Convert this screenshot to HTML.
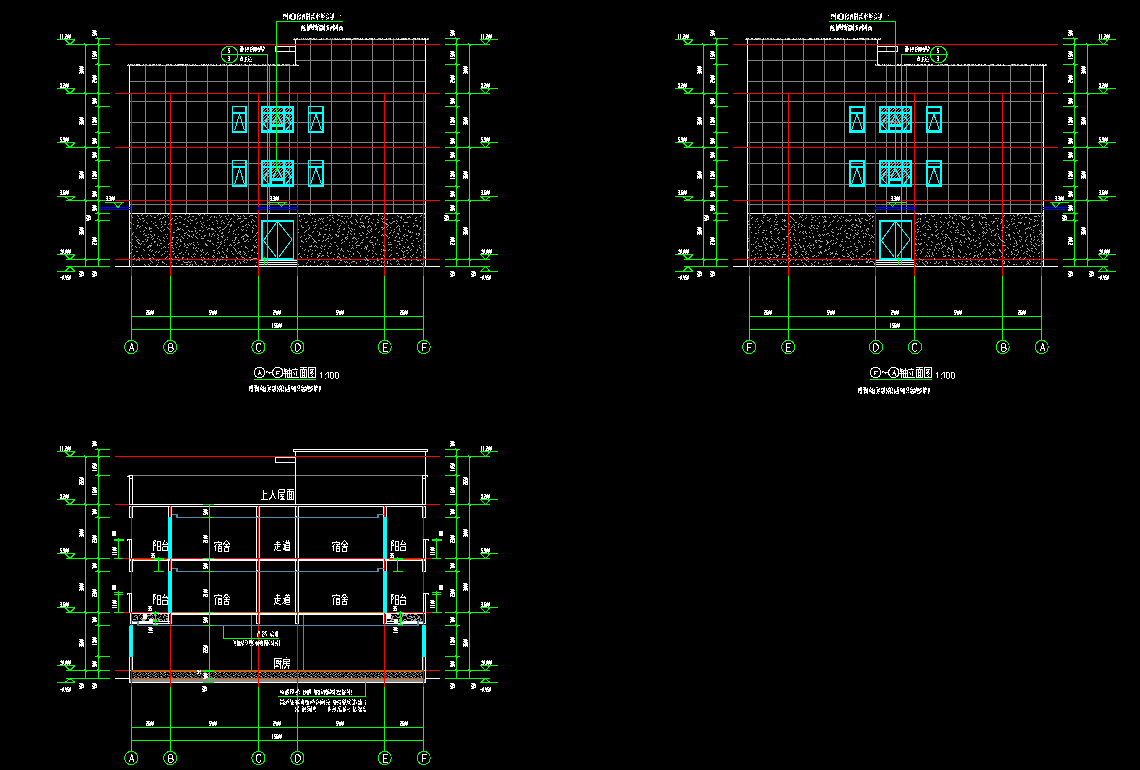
<!DOCTYPE html>
<html><head><meta charset="utf-8"><title>CAD</title>
<style>html,body{margin:0;padding:0;background:#000;overflow:hidden}svg{display:block}</style></head>
<body><svg width="1140" height="770" viewBox="0 0 1140 770" shape-rendering="crispEdges" style="background:#000">
<rect width="1140" height="770" fill="#000"/>
<path d="M145.5 66V214M165.5 66V214M186.5 66V214M207.5 66V214M227.5 66V214M248.5 66V214M269.5 66V214M289.5 66V214M310.5 40V214M331.5 40V214M351.5 40V214M372.5 40V214M393.5 40V214M413.5 40V214M130 81.5H426M130 101.5H426M130 122.5H426M130 142.5H426M130 163.5H426M130 184.5H426M130 204.5H426M296 60.5H426M289.5 47V51" stroke="#808080" stroke-width="1" fill="none"/>
<path d="M293 39.5H429M294 38.5h1M296 38.5h1M301 38.5h1M305 38.5h1M307 38.5h1M311 38.5h1M314 38.5h1M316 38.5h1M323 38.5h1M327 38.5h1M330 38.5h1M332 38.5h1M334 38.5h1M335 38.5h1M337 38.5h1M339 38.5h1M342 38.5h1M343 38.5h1M347 38.5h1M348 38.5h1M349 38.5h1M350 38.5h1M353 38.5h1M356 38.5h1M358 38.5h1M365 38.5h1M370 38.5h1M378 38.5h1M379 38.5h1M380 38.5h1M388 38.5h1M389 38.5h1M393 38.5h1M396 38.5h1M401 38.5h1M402 38.5h1M404 38.5h1M406 38.5h1M418 38.5h1M421 38.5h1M427 38.5h1M428 38.5h1" stroke="#a8a8a8" fill="none"/><path d="M294 39.5h1M295 39.5h1M296 39.5h1M297 38.5h1M299 39.5h1M303 38.5h1M306 39.5h1M308 39.5h1M309 38.5h1M310 38.5h1M312 39.5h1M313 38.5h1M314 39.5h1M315 39.5h1M319 39.5h1M320 39.5h1M321 39.5h1M321 38.5h1M326 38.5h1M335 39.5h1M336 39.5h1M337 39.5h1M338 39.5h1M340 39.5h1M342 39.5h1M343 39.5h1M344 39.5h1M344 38.5h1M346 39.5h1M346 38.5h1M347 39.5h1M348 39.5h1M349 39.5h1M350 39.5h1M352 39.5h1M354 38.5h1M355 38.5h1M357 38.5h1M359 39.5h1M360 39.5h1M360 38.5h1M361 39.5h1M362 39.5h1M362 38.5h1M365 39.5h1M366 39.5h1M366 38.5h1M367 39.5h1M368 39.5h1M369 38.5h1M371 39.5h1M371 38.5h1M372 39.5h1M372 38.5h1M374 38.5h1M377 39.5h1M380 39.5h1M381 39.5h1M382 38.5h1M384 39.5h1M385 39.5h1M386 39.5h1M386 38.5h1M390 39.5h1M390 38.5h1M397 39.5h1M398 39.5h1M398 38.5h1M400 39.5h1M401 39.5h1M402 39.5h1M403 39.5h1M403 38.5h1M404 39.5h1M405 39.5h1M405 38.5h1M406 39.5h1M408 38.5h1M409 38.5h1M412 39.5h1M413 38.5h1M414 38.5h1M415 39.5h1M415 38.5h1M417 38.5h1M419 39.5h1M419 38.5h1M422 39.5h1M422 38.5h1M423 39.5h1M424 39.5h1M424 38.5h1M425 39.5h1M425 38.5h1M427 39.5h1" stroke="#f4f4f4" fill="none"/>
<path d="M127 65.5H299M131 64.5h1M132 64.5h1M145 64.5h1M146 64.5h1M149 64.5h1M150 64.5h1M152 64.5h1M158 64.5h1M159 64.5h1M166 64.5h1M167 64.5h1M171 64.5h1M177 64.5h1M186 64.5h1M189 64.5h1M192 64.5h1M193 64.5h1M210 64.5h1M211 64.5h1M213 64.5h1M222 64.5h1M223 64.5h1M229 64.5h1M230 64.5h1M236 64.5h1M237 64.5h1M244 64.5h1M254 64.5h1M255 64.5h1M258 64.5h1M262 64.5h1M263 64.5h1M265 64.5h1M272 64.5h1M274 64.5h1M277 64.5h1M278 64.5h1M279 64.5h1M285 64.5h1M286 64.5h1M287 64.5h1M288 64.5h1M289 64.5h1M296 64.5h1" stroke="#a8a8a8" fill="none"/><path d="M127 65.5h1M128 64.5h1M129 65.5h1M130 64.5h1M132 65.5h1M133 65.5h1M134 64.5h1M136 65.5h1M136 64.5h1M137 65.5h1M137 64.5h1M138 64.5h1M139 65.5h1M139 64.5h1M140 65.5h1M142 65.5h1M143 64.5h1M149 65.5h1M150 65.5h1M152 65.5h1M153 64.5h1M154 64.5h1M156 64.5h1M159 65.5h1M160 64.5h1M162 65.5h1M166 65.5h1M168 64.5h1M170 64.5h1M171 65.5h1M174 65.5h1M175 64.5h1M176 65.5h1M177 65.5h1M178 65.5h1M178 64.5h1M179 64.5h1M180 64.5h1M181 64.5h1M182 65.5h1M182 64.5h1M183 64.5h1M185 65.5h1M185 64.5h1M187 64.5h1M190 65.5h1M191 65.5h1M192 65.5h1M194 65.5h1M195 64.5h1M196 65.5h1M197 65.5h1M199 65.5h1M201 64.5h1M202 65.5h1M203 65.5h1M203 64.5h1M204 64.5h1M205 65.5h1M206 64.5h1M207 65.5h1M208 64.5h1M212 65.5h1M213 65.5h1M214 65.5h1M216 65.5h1M216 64.5h1M219 65.5h1M220 65.5h1M220 64.5h1M224 65.5h1M224 64.5h1M226 64.5h1M228 65.5h1M229 65.5h1M230 65.5h1M231 65.5h1M231 64.5h1M232 65.5h1M233 65.5h1M234 65.5h1M235 64.5h1M237 65.5h1M238 65.5h1M239 65.5h1M239 64.5h1M241 64.5h1M245 65.5h1M245 64.5h1M246 65.5h1M247 65.5h1M249 65.5h1M249 64.5h1M250 65.5h1M251 64.5h1M253 64.5h1M254 65.5h1M255 65.5h1M256 65.5h1M258 65.5h1M259 65.5h1M260 65.5h1M262 65.5h1M264 65.5h1M265 65.5h1M268 64.5h1M269 65.5h1M270 64.5h1M273 64.5h1M274 65.5h1M275 65.5h1M276 65.5h1M276 64.5h1M277 65.5h1M278 65.5h1M279 65.5h1M281 65.5h1M282 64.5h1M283 64.5h1M286 65.5h1M293 65.5h1M293 64.5h1M295 65.5h1M297 65.5h1M298 65.5h1" stroke="#f4f4f4" fill="none"/>
<path d="M264 108.5h1M267 108.5h1M263 109.5h1M266 109.5h1M269 109.5h1M265 110.5h1M268 110.5h1M264 111.5h1M267 111.5h1M273 108.5h1M276 108.5h1M279 108.5h1M282 108.5h1M272 109.5h1M275 109.5h1M278 109.5h1M281 109.5h1M274 110.5h1M277 110.5h1M280 110.5h1M273 111.5h1M276 111.5h1M279 111.5h1M282 111.5h1M285 108.5h1M288 108.5h1M291 108.5h1M287 109.5h1M290 109.5h1M286 110.5h1M289 110.5h1M285 111.5h1M288 111.5h1M291 111.5h1M264 114.5h1M267 114.5h1M263 115.5h1M266 115.5h1M269 115.5h1M265 116.5h1M268 116.5h1M264 117.5h1M267 117.5h1M263 118.5h1M266 118.5h1M269 118.5h1M265 119.5h1M268 119.5h1M264 120.5h1M267 120.5h1M263 121.5h1M266 121.5h1M269 121.5h1M265 122.5h1M268 122.5h1M264 123.5h1M267 123.5h1M273 114.5h1M276 114.5h1M279 114.5h1M282 114.5h1M272 115.5h1M275 115.5h1M278 115.5h1M281 115.5h1M274 116.5h1M277 116.5h1M280 116.5h1M273 117.5h1M276 117.5h1M279 117.5h1M282 117.5h1M272 118.5h1M275 118.5h1M278 118.5h1M281 118.5h1M274 119.5h1M277 119.5h1M280 119.5h1M273 120.5h1M276 120.5h1M279 120.5h1M282 120.5h1M272 121.5h1M275 121.5h1M278 121.5h1M281 121.5h1M274 122.5h1M277 122.5h1M280 122.5h1M273 123.5h1M276 123.5h1M279 123.5h1M282 123.5h1M285 114.5h1M288 114.5h1M291 114.5h1M287 115.5h1M290 115.5h1M286 116.5h1M289 116.5h1M285 117.5h1M288 117.5h1M291 117.5h1M287 118.5h1M290 118.5h1M286 119.5h1M289 119.5h1M285 120.5h1M288 120.5h1M291 120.5h1M287 121.5h1M290 121.5h1M286 122.5h1M289 122.5h1M285 123.5h1M288 123.5h1M291 123.5h1M264 162.5h1M267 162.5h1M263 163.5h1M266 163.5h1M269 163.5h1M265 164.5h1M268 164.5h1M264 165.5h1M267 165.5h1M273 162.5h1M276 162.5h1M279 162.5h1M282 162.5h1M272 163.5h1M275 163.5h1M278 163.5h1M281 163.5h1M274 164.5h1M277 164.5h1M280 164.5h1M273 165.5h1M276 165.5h1M279 165.5h1M282 165.5h1M285 162.5h1M288 162.5h1M291 162.5h1M287 163.5h1M290 163.5h1M286 164.5h1M289 164.5h1M285 165.5h1M288 165.5h1M291 165.5h1M264 168.5h1M267 168.5h1M263 169.5h1M266 169.5h1M269 169.5h1M265 170.5h1M268 170.5h1M264 171.5h1M267 171.5h1M263 172.5h1M266 172.5h1M269 172.5h1M265 173.5h1M268 173.5h1M264 174.5h1M267 174.5h1M263 175.5h1M266 175.5h1M269 175.5h1M265 176.5h1M268 176.5h1M264 177.5h1M267 177.5h1M273 168.5h1M276 168.5h1M279 168.5h1M282 168.5h1M272 169.5h1M275 169.5h1M278 169.5h1M281 169.5h1M274 170.5h1M277 170.5h1M280 170.5h1M273 171.5h1M276 171.5h1M279 171.5h1M282 171.5h1M272 172.5h1M275 172.5h1M278 172.5h1M281 172.5h1M274 173.5h1M277 173.5h1M280 173.5h1M273 174.5h1M276 174.5h1M279 174.5h1M282 174.5h1M272 175.5h1M275 175.5h1M278 175.5h1M281 175.5h1M274 176.5h1M277 176.5h1M280 176.5h1M273 177.5h1M276 177.5h1M279 177.5h1M282 177.5h1M285 168.5h1M288 168.5h1M291 168.5h1M287 169.5h1M290 169.5h1M286 170.5h1M289 170.5h1M285 171.5h1M288 171.5h1M291 171.5h1M287 172.5h1M290 172.5h1M286 173.5h1M289 173.5h1M285 174.5h1M288 174.5h1M291 174.5h1M287 175.5h1M290 175.5h1M286 176.5h1M289 176.5h1M285 177.5h1M288 177.5h1M291 177.5h1" stroke="#a0a0a0" stroke-width="1" fill="none"/>
<path d="M129.5 65V266M425.5 39V266M295.5 40V65M275 46.5H296M275 51.5H296M275.5 46V52M129 213.5H426M115 266.5H440M258 260.5H298M258 262.5H298M258 264.5H298M258.5 260V267M297.5 260V267" stroke="#ffffff" stroke-width="1" fill="none"/>
<path d="M115 44.5H440M115 93.5H440M115 147.5H440M115 200.5H440M115 259.5H440M131.5 93V276M170.5 93V276M258.5 93V276M297.5 93V276M384.5 93V276M423.5 93V276" stroke="#ff0000" stroke-width="1" fill="none"/>
<path d="M131 215.5h1M131 216.5h1M137 215.5h1M138 216.5h1M141 215.5h1M142 214.5h1M146 216.5h1M147 215.5h1M150 215.5h1M151 216.5h1M157 215.5h1M158 214.5h1M167 215.5h1M168 214.5h1M175 216.5h1M176 216.5h1M192 216.5h1M193 216.5h1M198 214.5h1M199 215.5h1M200 214.5h1M225 216.5h1M228 215.5h1M249 216.5h1M250 215.5h1M251 215.5h1M299 215.5h1M299 216.5h1M308 214.5h1M309 214.5h1M310 215.5h1M329 215.5h1M330 215.5h1M337 214.5h1M338 215.5h1M339 215.5h1M347 216.5h1M351 214.5h1M351 215.5h1M356 214.5h1M357 215.5h1M361 216.5h1M370 214.5h1M371 214.5h1M378 214.5h1M378 215.5h1M382 216.5h1M387 214.5h1M401 216.5h1M401 217.5h1M409 216.5h1M410 217.5h1M412 214.5h1M420 216.5h1M421 215.5h1M424 214.5h1M139 218.5h1M140 219.5h1M159 219.5h1M160 218.5h1M168 217.5h1M177 218.5h1M188 217.5h1M189 216.5h1M190 219.5h1M191 220.5h1M210 217.5h1M211 216.5h1M216 217.5h1M220 217.5h1M221 216.5h1M237 219.5h1M238 218.5h1M244 218.5h1M245 218.5h1M246 218.5h1M252 219.5h1M253 220.5h1M301 219.5h1M344 218.5h1M348 218.5h1M350 217.5h1M351 216.5h1M355 219.5h1M356 220.5h1M373 219.5h1M381 218.5h1M382 219.5h1M383 218.5h1M384 217.5h1M386 219.5h1M387 219.5h1M392 218.5h1M407 217.5h1M408 217.5h1M415 218.5h1M416 217.5h1M424 217.5h1M130 222.5h1M131 223.5h1M138 222.5h1M143 221.5h1M144 220.5h1M146 222.5h1M147 223.5h1M155 222.5h1M161 221.5h1M161 222.5h1M170 220.5h1M171 219.5h1M203 222.5h1M207 220.5h1M223 222.5h1M233 221.5h1M234 222.5h1M248 222.5h1M254 221.5h1M307 221.5h1M329 220.5h1M330 219.5h1M337 220.5h1M338 219.5h1M342 221.5h1M343 222.5h1M346 221.5h1M346 222.5h1M360 222.5h1M361 222.5h1M371 222.5h1M372 223.5h1M382 221.5h1M383 222.5h1M384 222.5h1M389 222.5h1M390 223.5h1M391 223.5h1M400 220.5h1M133 224.5h1M142 225.5h1M153 223.5h1M155 225.5h1M156 225.5h1M161 224.5h1M164 224.5h1M165 224.5h1M168 224.5h1M169 223.5h1M201 223.5h1M202 224.5h1M204 225.5h1M213 224.5h1M221 223.5h1M227 224.5h1M228 224.5h1M301 225.5h1M320 223.5h1M325 225.5h1M326 225.5h1M327 224.5h1M341 223.5h1M348 225.5h1M351 223.5h1M352 223.5h1M355 224.5h1M361 225.5h1M362 226.5h1M363 225.5h1M364 226.5h1M369 225.5h1M370 226.5h1M385 223.5h1M386 224.5h1M386 223.5h1M387 224.5h1M388 225.5h1M390 223.5h1M136 228.5h1M139 227.5h1M140 226.5h1M149 227.5h1M149 228.5h1M151 228.5h1M157 227.5h1M158 228.5h1M177 227.5h1M194 227.5h1M195 228.5h1M201 226.5h1M202 227.5h1M217 227.5h1M218 228.5h1M219 227.5h1M220 227.5h1M224 228.5h1M225 227.5h1M226 226.5h1M238 227.5h1M242 226.5h1M243 226.5h1M256 226.5h1M309 227.5h1M309 228.5h1M320 228.5h1M321 228.5h1M323 227.5h1M329 228.5h1M339 226.5h1M340 225.5h1M348 227.5h1M349 228.5h1M376 228.5h1M381 227.5h1M382 227.5h1M386 227.5h1M387 226.5h1M396 227.5h1M397 226.5h1M399 228.5h1M399 229.5h1M408 226.5h1M420 227.5h1M140 231.5h1M149 229.5h1M150 228.5h1M150 231.5h1M151 231.5h1M160 230.5h1M161 231.5h1M169 229.5h1M170 231.5h1M176 230.5h1M177 229.5h1M179 229.5h1M180 228.5h1M182 229.5h1M183 230.5h1M195 230.5h1M195 231.5h1M202 231.5h1M203 230.5h1M207 229.5h1M208 228.5h1M209 228.5h1M211 229.5h1M212 228.5h1M215 231.5h1M219 231.5h1M220 230.5h1M222 229.5h1M223 229.5h1M229 229.5h1M236 229.5h1M241 229.5h1M242 230.5h1M243 229.5h1M305 231.5h1M308 229.5h1M309 228.5h1M325 229.5h1M326 229.5h1M329 230.5h1M332 229.5h1M337 231.5h1M338 229.5h1M339 228.5h1M343 229.5h1M344 229.5h1M348 231.5h1M348 232.5h1M354 229.5h1M370 230.5h1M371 231.5h1M382 229.5h1M383 228.5h1M387 229.5h1M399 230.5h1M400 231.5h1M405 229.5h1M419 229.5h1M420 228.5h1M424 230.5h1M132 233.5h1M133 232.5h1M150 234.5h1M151 235.5h1M165 234.5h1M167 234.5h1M179 234.5h1M196 233.5h1M197 232.5h1M209 233.5h1M209 234.5h1M217 234.5h1M218 235.5h1M238 234.5h1M252 232.5h1M256 233.5h1M257 232.5h1M308 234.5h1M309 235.5h1M312 232.5h1M313 231.5h1M338 232.5h1M339 231.5h1M342 234.5h1M343 234.5h1M347 234.5h1M350 233.5h1M351 234.5h1M354 233.5h1M354 234.5h1M359 233.5h1M378 232.5h1M379 231.5h1M398 233.5h1M404 234.5h1M409 232.5h1M412 232.5h1M418 233.5h1M419 233.5h1M424 234.5h1M131 235.5h1M132 234.5h1M135 236.5h1M136 237.5h1M158 236.5h1M163 237.5h1M164 238.5h1M189 235.5h1M189 236.5h1M204 235.5h1M204 236.5h1M205 235.5h1M209 235.5h1M211 236.5h1M214 235.5h1M222 236.5h1M223 235.5h1M241 237.5h1M242 236.5h1M253 237.5h1M254 236.5h1M300 237.5h1M301 236.5h1M304 235.5h1M310 235.5h1M311 236.5h1M323 236.5h1M323 237.5h1M328 236.5h1M336 235.5h1M337 236.5h1M338 235.5h1M338 236.5h1M345 237.5h1M346 237.5h1M353 237.5h1M353 238.5h1M354 237.5h1M355 238.5h1M399 237.5h1M399 238.5h1M410 237.5h1M411 236.5h1M132 239.5h1M136 240.5h1M137 239.5h1M138 239.5h1M139 240.5h1M145 239.5h1M147 239.5h1M147 240.5h1M159 239.5h1M160 240.5h1M163 240.5h1M167 238.5h1M177 240.5h1M178 239.5h1M180 239.5h1M180 240.5h1M201 238.5h1M202 238.5h1M217 238.5h1M218 237.5h1M246 240.5h1M247 239.5h1M250 239.5h1M305 239.5h1M306 238.5h1M318 240.5h1M319 240.5h1M331 238.5h1M332 237.5h1M346 239.5h1M347 238.5h1M356 239.5h1M358 238.5h1M377 239.5h1M377 240.5h1M388 238.5h1M389 237.5h1M394 240.5h1M395 240.5h1M401 240.5h1M402 240.5h1M406 239.5h1M407 240.5h1M413 240.5h1M416 238.5h1M417 238.5h1M420 240.5h1M421 239.5h1M130 242.5h1M131 243.5h1M160 243.5h1M161 243.5h1M164 241.5h1M180 241.5h1M181 241.5h1M189 243.5h1M190 244.5h1M191 243.5h1M197 242.5h1M205 243.5h1M206 244.5h1M209 241.5h1M210 241.5h1M233 242.5h1M234 242.5h1M244 241.5h1M245 241.5h1M313 242.5h1M330 243.5h1M331 244.5h1M334 242.5h1M335 242.5h1M349 242.5h1M360 243.5h1M361 242.5h1M362 242.5h1M369 241.5h1M370 242.5h1M375 243.5h1M375 244.5h1M382 242.5h1M388 242.5h1M405 242.5h1M424 243.5h1M131 246.5h1M132 245.5h1M140 244.5h1M141 243.5h1M144 244.5h1M159 245.5h1M164 246.5h1M165 247.5h1M168 244.5h1M179 246.5h1M180 245.5h1M184 246.5h1M185 245.5h1M187 244.5h1M188 245.5h1M198 244.5h1M205 244.5h1M206 245.5h1M207 245.5h1M253 245.5h1M254 246.5h1M321 245.5h1M322 246.5h1M329 246.5h1M330 246.5h1M331 244.5h1M336 245.5h1M337 246.5h1M352 245.5h1M356 245.5h1M357 245.5h1M367 245.5h1M367 246.5h1M388 244.5h1M389 244.5h1M390 244.5h1M391 244.5h1M397 245.5h1M399 244.5h1M400 244.5h1M147 247.5h1M148 247.5h1M163 247.5h1M172 247.5h1M173 248.5h1M176 247.5h1M178 249.5h1M193 247.5h1M193 248.5h1M195 248.5h1M196 247.5h1M198 248.5h1M202 249.5h1M202 250.5h1M217 248.5h1M245 247.5h1M246 247.5h1M246 247.5h1M247 248.5h1M302 248.5h1M310 249.5h1M320 247.5h1M321 248.5h1M328 248.5h1M351 248.5h1M352 247.5h1M353 248.5h1M364 248.5h1M365 247.5h1M383 249.5h1M384 250.5h1M391 247.5h1M402 248.5h1M151 251.5h1M152 250.5h1M155 252.5h1M156 251.5h1M165 251.5h1M167 251.5h1M181 252.5h1M185 252.5h1M207 252.5h1M214 252.5h1M218 251.5h1M219 252.5h1M222 251.5h1M223 252.5h1M226 250.5h1M227 251.5h1M236 251.5h1M243 251.5h1M244 252.5h1M248 251.5h1M304 250.5h1M305 249.5h1M308 250.5h1M308 251.5h1M312 250.5h1M327 252.5h1M327 253.5h1M342 250.5h1M343 251.5h1M347 250.5h1M348 251.5h1M358 252.5h1M359 253.5h1M368 251.5h1M369 250.5h1M372 250.5h1M373 251.5h1M381 251.5h1M391 250.5h1M410 250.5h1M411 249.5h1M424 250.5h1M130 253.5h1M131 252.5h1M141 255.5h1M161 255.5h1M162 254.5h1M164 253.5h1M173 254.5h1M174 253.5h1M177 255.5h1M179 253.5h1M180 253.5h1M183 254.5h1M193 254.5h1M194 253.5h1M194 253.5h1M195 254.5h1M200 255.5h1M201 254.5h1M205 254.5h1M206 253.5h1M207 252.5h1M208 254.5h1M224 254.5h1M239 253.5h1M240 254.5h1M327 255.5h1M328 256.5h1M334 254.5h1M343 255.5h1M343 256.5h1M349 254.5h1M367 255.5h1M390 255.5h1M391 254.5h1M398 255.5h1M403 254.5h1M403 255.5h1M407 253.5h1M408 252.5h1M420 255.5h1M133 256.5h1M142 257.5h1M143 258.5h1M165 258.5h1M166 257.5h1M167 256.5h1M178 257.5h1M182 257.5h1M182 258.5h1M183 257.5h1M187 258.5h1M187 259.5h1M191 256.5h1M192 257.5h1M201 257.5h1M208 258.5h1M217 258.5h1M217 259.5h1M226 257.5h1M227 257.5h1M243 257.5h1M244 258.5h1M307 257.5h1M337 256.5h1M337 257.5h1M338 256.5h1M345 257.5h1M346 257.5h1M349 258.5h1M350 259.5h1M360 256.5h1M366 258.5h1M366 259.5h1M367 259.5h1M377 258.5h1M377 259.5h1M378 260.5h1M384 256.5h1M410 256.5h1M411 257.5h1M416 257.5h1M417 257.5h1M136 260.5h1M137 259.5h1M149 259.5h1M156 260.5h1M157 259.5h1M183 261.5h1M184 262.5h1M188 261.5h1M189 262.5h1M190 262.5h1M191 261.5h1M194 261.5h1M195 262.5h1M213 261.5h1M219 260.5h1M220 259.5h1M222 259.5h1M318 260.5h1M319 259.5h1M326 261.5h1M327 262.5h1M328 261.5h1M335 260.5h1M346 261.5h1M347 262.5h1M364 259.5h1M365 260.5h1M390 260.5h1M398 261.5h1M144 264.5h1M145 265.5h1M150 263.5h1M166 264.5h1M176 263.5h1M181 264.5h1M182 264.5h1M185 262.5h1M186 262.5h1M187 262.5h1M195 263.5h1M196 264.5h1M214 263.5h1M228 264.5h1M240 262.5h1M240 263.5h1M244 262.5h1M246 262.5h1M256 262.5h1M306 263.5h1M307 262.5h1M351 262.5h1M352 261.5h1M379 264.5h1M383 262.5h1M384 261.5h1M390 263.5h1M391 264.5h1M397 264.5h1M398 263.5h1M399 264.5h1M404 264.5h1M405 265.5h1M156 265.5h1M157 264.5h1M172 265.5h1M189 265.5h1M190 264.5h1M212 265.5h1M214 265.5h1M215 264.5h1M234 265.5h1M235 264.5h1M255 265.5h1M303 265.5h1M306 265.5h1M310 265.5h1M410 265.5h1" stroke="#9c9c9c" fill="none"/>
<path d="M160 214.5h1M164 215.5h1M165 216.5h1M179 216.5h1M180 216.5h1M185 214.5h1M189 214.5h1M204 214.5h1M207 215.5h1M214 216.5h1M214 217.5h1M219 215.5h1M233 214.5h1M234 215.5h1M237 215.5h1M238 216.5h1M240 216.5h1M243 215.5h1M244 216.5h1M251 215.5h1M252 215.5h1M255 216.5h1M256 217.5h1M303 214.5h1M312 214.5h1M314 214.5h1M332 215.5h1M341 216.5h1M342 216.5h1M345 216.5h1M362 215.5h1M366 216.5h1M367 216.5h1M397 215.5h1M398 216.5h1M405 214.5h1M132 217.5h1M142 218.5h1M143 218.5h1M154 217.5h1M155 217.5h1M162 218.5h1M163 217.5h1M172 218.5h1M181 217.5h1M184 219.5h1M185 218.5h1M195 219.5h1M196 218.5h1M202 217.5h1M202 218.5h1M209 219.5h1M226 218.5h1M227 219.5h1M230 219.5h1M231 218.5h1M239 218.5h1M240 218.5h1M304 218.5h1M312 218.5h1M315 219.5h1M319 218.5h1M320 219.5h1M321 218.5h1M322 219.5h1M323 218.5h1M327 217.5h1M332 217.5h1M333 218.5h1M360 218.5h1M360 219.5h1M365 217.5h1M365 218.5h1M368 219.5h1M369 218.5h1M377 219.5h1M378 220.5h1M400 217.5h1M401 218.5h1M403 219.5h1M137 220.5h1M151 221.5h1M165 221.5h1M165 222.5h1M174 220.5h1M175 219.5h1M179 222.5h1M180 222.5h1M187 220.5h1M188 221.5h1M192 220.5h1M200 221.5h1M212 222.5h1M216 220.5h1M217 221.5h1M221 221.5h1M222 220.5h1M228 222.5h1M229 221.5h1M240 222.5h1M241 221.5h1M242 221.5h1M243 220.5h1M251 221.5h1M251 222.5h1M299 220.5h1M300 221.5h1M305 222.5h1M306 222.5h1M311 222.5h1M314 221.5h1M315 221.5h1M318 220.5h1M322 221.5h1M323 222.5h1M333 221.5h1M334 222.5h1M340 220.5h1M350 221.5h1M351 222.5h1M356 221.5h1M357 222.5h1M362 222.5h1M363 223.5h1M368 221.5h1M368 222.5h1M377 222.5h1M378 222.5h1M392 222.5h1M393 221.5h1M394 221.5h1M396 220.5h1M397 221.5h1M404 222.5h1M405 222.5h1M406 222.5h1M407 222.5h1M415 220.5h1M416 220.5h1M420 221.5h1M137 225.5h1M137 226.5h1M138 225.5h1M171 224.5h1M175 223.5h1M176 223.5h1M183 224.5h1M184 224.5h1M190 223.5h1M196 223.5h1M197 222.5h1M209 225.5h1M217 223.5h1M224 223.5h1M230 225.5h1M231 224.5h1M245 225.5h1M246 224.5h1M248 224.5h1M249 225.5h1M253 225.5h1M255 225.5h1M308 225.5h1M313 225.5h1M315 225.5h1M316 224.5h1M330 225.5h1M337 224.5h1M344 223.5h1M375 224.5h1M375 225.5h1M396 223.5h1M398 225.5h1M399 226.5h1M403 225.5h1M413 223.5h1M416 225.5h1M417 225.5h1M130 228.5h1M145 227.5h1M146 228.5h1M161 227.5h1M162 226.5h1M167 227.5h1M168 228.5h1M178 228.5h1M178 229.5h1M186 226.5h1M187 226.5h1M206 227.5h1M211 228.5h1M212 229.5h1M213 229.5h1M230 226.5h1M231 225.5h1M247 227.5h1M252 227.5h1M253 228.5h1M301 226.5h1M302 227.5h1M303 227.5h1M314 228.5h1M315 227.5h1M344 228.5h1M351 228.5h1M352 229.5h1M359 226.5h1M360 227.5h1M363 226.5h1M364 227.5h1M367 227.5h1M368 226.5h1M371 228.5h1M371 229.5h1M384 227.5h1M390 227.5h1M403 226.5h1M413 226.5h1M414 225.5h1M417 226.5h1M143 231.5h1M144 230.5h1M163 230.5h1M164 229.5h1M188 230.5h1M189 231.5h1M191 231.5h1M192 231.5h1M199 230.5h1M200 230.5h1M233 231.5h1M234 230.5h1M246 230.5h1M252 230.5h1M252 231.5h1M298 229.5h1M317 231.5h1M350 230.5h1M351 231.5h1M367 230.5h1M368 231.5h1M369 232.5h1M375 229.5h1M391 230.5h1M394 229.5h1M408 230.5h1M408 231.5h1M410 231.5h1M410 232.5h1M143 234.5h1M144 233.5h1M148 234.5h1M154 234.5h1M173 232.5h1M174 232.5h1M184 233.5h1M185 233.5h1M186 232.5h1M187 234.5h1M188 235.5h1M193 234.5h1M193 235.5h1M199 234.5h1M212 234.5h1M213 233.5h1M221 233.5h1M222 232.5h1M222 233.5h1M228 232.5h1M229 231.5h1M233 233.5h1M235 234.5h1M245 234.5h1M246 235.5h1M246 234.5h1M247 235.5h1M298 232.5h1M304 232.5h1M305 231.5h1M306 230.5h1M319 232.5h1M319 233.5h1M320 234.5h1M324 234.5h1M325 234.5h1M329 234.5h1M330 235.5h1M335 234.5h1M336 234.5h1M362 232.5h1M363 233.5h1M366 234.5h1M367 233.5h1M385 234.5h1M386 235.5h1M389 233.5h1M390 232.5h1M393 232.5h1M394 231.5h1M397 233.5h1M398 234.5h1M416 233.5h1M416 234.5h1M145 235.5h1M146 235.5h1M147 237.5h1M148 237.5h1M151 237.5h1M152 236.5h1M154 235.5h1M166 236.5h1M172 237.5h1M173 237.5h1M176 237.5h1M177 237.5h1M181 236.5h1M182 237.5h1M183 238.5h1M184 235.5h1M191 236.5h1M192 237.5h1M195 236.5h1M196 237.5h1M201 236.5h1M221 236.5h1M222 237.5h1M227 237.5h1M235 237.5h1M235 238.5h1M236 237.5h1M243 236.5h1M244 235.5h1M247 236.5h1M248 236.5h1M255 235.5h1M318 235.5h1M319 234.5h1M346 237.5h1M347 236.5h1M360 235.5h1M361 235.5h1M366 237.5h1M367 237.5h1M371 237.5h1M372 236.5h1M374 237.5h1M375 237.5h1M381 235.5h1M382 234.5h1M383 235.5h1M387 236.5h1M392 235.5h1M395 237.5h1M396 236.5h1M403 235.5h1M404 236.5h1M406 235.5h1M407 235.5h1M418 235.5h1M419 234.5h1M152 239.5h1M153 238.5h1M157 238.5h1M172 238.5h1M172 239.5h1M187 238.5h1M197 238.5h1M203 238.5h1M207 240.5h1M208 240.5h1M210 240.5h1M218 239.5h1M224 240.5h1M225 239.5h1M227 239.5h1M232 240.5h1M234 240.5h1M235 239.5h1M238 240.5h1M243 238.5h1M243 239.5h1M255 240.5h1M256 239.5h1M301 240.5h1M301 241.5h1M308 238.5h1M309 237.5h1M312 238.5h1M313 239.5h1M314 240.5h1M314 241.5h1M325 240.5h1M326 239.5h1M327 238.5h1M328 238.5h1M341 240.5h1M342 239.5h1M345 238.5h1M352 238.5h1M362 240.5h1M363 239.5h1M370 240.5h1M402 238.5h1M137 241.5h1M138 242.5h1M138 243.5h1M139 243.5h1M142 241.5h1M143 241.5h1M146 241.5h1M151 243.5h1M154 241.5h1M154 242.5h1M155 241.5h1M169 243.5h1M171 242.5h1M172 242.5h1M176 242.5h1M177 243.5h1M184 243.5h1M184 244.5h1M193 242.5h1M212 243.5h1M213 244.5h1M217 242.5h1M218 242.5h1M220 242.5h1M221 241.5h1M224 242.5h1M237 243.5h1M238 242.5h1M239 242.5h1M248 241.5h1M256 242.5h1M302 241.5h1M303 242.5h1M306 241.5h1M315 241.5h1M316 242.5h1M322 241.5h1M323 240.5h1M328 241.5h1M341 243.5h1M342 242.5h1M344 241.5h1M352 241.5h1M355 243.5h1M356 242.5h1M357 241.5h1M371 242.5h1M372 242.5h1M390 242.5h1M397 241.5h1M398 241.5h1M399 241.5h1M399 243.5h1M411 243.5h1M412 243.5h1M418 241.5h1M135 246.5h1M136 247.5h1M148 246.5h1M149 245.5h1M150 245.5h1M150 246.5h1M151 245.5h1M157 244.5h1M157 245.5h1M171 245.5h1M172 245.5h1M175 244.5h1M193 244.5h1M194 245.5h1M216 245.5h1M220 244.5h1M221 243.5h1M224 245.5h1M229 245.5h1M230 244.5h1M231 245.5h1M231 245.5h1M234 245.5h1M235 244.5h1M241 246.5h1M245 246.5h1M257 245.5h1M300 246.5h1M309 246.5h1M310 246.5h1M311 245.5h1M311 246.5h1M314 246.5h1M315 245.5h1M316 246.5h1M324 246.5h1M325 245.5h1M349 245.5h1M358 245.5h1M359 245.5h1M365 246.5h1M366 247.5h1M372 244.5h1M373 245.5h1M379 244.5h1M383 245.5h1M384 246.5h1M403 246.5h1M404 247.5h1M408 246.5h1M408 247.5h1M412 245.5h1M413 246.5h1M419 245.5h1M423 246.5h1M132 249.5h1M139 247.5h1M143 249.5h1M161 248.5h1M168 247.5h1M186 247.5h1M187 247.5h1M218 247.5h1M219 246.5h1M222 248.5h1M227 248.5h1M227 249.5h1M233 247.5h1M234 248.5h1M235 249.5h1M235 250.5h1M238 248.5h1M252 249.5h1M254 247.5h1M255 246.5h1M256 247.5h1M317 247.5h1M324 249.5h1M337 249.5h1M338 248.5h1M341 248.5h1M341 249.5h1M356 247.5h1M361 248.5h1M366 248.5h1M366 249.5h1M373 247.5h1M381 249.5h1M396 247.5h1M399 248.5h1M407 247.5h1M408 247.5h1M409 248.5h1M417 249.5h1M417 250.5h1M419 247.5h1M420 248.5h1M136 251.5h1M137 251.5h1M144 250.5h1M149 250.5h1M150 249.5h1M158 252.5h1M159 251.5h1M172 251.5h1M173 251.5h1M186 250.5h1M196 250.5h1M197 251.5h1M200 250.5h1M201 251.5h1M203 252.5h1M213 250.5h1M214 250.5h1M231 251.5h1M240 251.5h1M240 252.5h1M251 250.5h1M252 250.5h1M254 252.5h1M315 250.5h1M321 251.5h1M340 250.5h1M350 251.5h1M357 251.5h1M383 250.5h1M384 250.5h1M385 250.5h1M388 250.5h1M389 249.5h1M401 250.5h1M402 251.5h1M403 252.5h1M404 251.5h1M406 250.5h1M407 250.5h1M416 252.5h1M421 251.5h1M421 252.5h1M134 255.5h1M148 254.5h1M149 255.5h1M153 254.5h1M154 255.5h1M169 254.5h1M188 253.5h1M188 254.5h1M213 255.5h1M214 256.5h1M217 253.5h1M219 253.5h1M226 255.5h1M226 256.5h1M232 253.5h1M233 254.5h1M237 253.5h1M238 252.5h1M239 251.5h1M244 254.5h1M245 253.5h1M246 255.5h1M251 255.5h1M257 253.5h1M298 254.5h1M299 253.5h1M304 254.5h1M307 255.5h1M311 254.5h1M312 253.5h1M317 254.5h1M318 255.5h1M319 255.5h1M319 253.5h1M320 253.5h1M322 255.5h1M323 255.5h1M330 253.5h1M331 252.5h1M338 253.5h1M339 254.5h1M353 253.5h1M353 254.5h1M360 255.5h1M372 253.5h1M375 253.5h1M376 254.5h1M380 254.5h1M383 255.5h1M384 256.5h1M396 253.5h1M397 253.5h1M412 255.5h1M413 254.5h1M134 258.5h1M138 257.5h1M139 258.5h1M149 258.5h1M150 258.5h1M152 257.5h1M153 258.5h1M169 258.5h1M171 258.5h1M175 256.5h1M175 257.5h1M176 257.5h1M194 256.5h1M203 257.5h1M204 258.5h1M212 256.5h1M213 257.5h1M221 256.5h1M222 257.5h1M223 257.5h1M236 257.5h1M237 258.5h1M241 256.5h1M242 257.5h1M249 257.5h1M250 257.5h1M253 258.5h1M254 258.5h1M255 258.5h1M256 258.5h1M300 256.5h1M301 257.5h1M311 256.5h1M317 257.5h1M318 256.5h1M321 256.5h1M333 258.5h1M339 257.5h1M340 258.5h1M351 256.5h1M365 257.5h1M372 257.5h1M373 256.5h1M381 258.5h1M382 258.5h1M389 256.5h1M393 258.5h1M394 259.5h1M394 258.5h1M400 258.5h1M401 258.5h1M403 257.5h1M404 257.5h1M405 256.5h1M423 256.5h1M424 257.5h1M133 259.5h1M138 259.5h1M139 260.5h1M150 260.5h1M151 261.5h1M152 262.5h1M158 260.5h1M159 259.5h1M162 261.5h1M162 262.5h1M172 259.5h1M177 259.5h1M178 260.5h1M179 260.5h1M201 259.5h1M202 260.5h1M204 261.5h1M205 262.5h1M216 260.5h1M216 261.5h1M226 260.5h1M235 260.5h1M235 261.5h1M239 261.5h1M240 262.5h1M243 261.5h1M244 260.5h1M246 259.5h1M247 260.5h1M250 260.5h1M251 259.5h1M252 259.5h1M308 260.5h1M310 261.5h1M314 261.5h1M314 262.5h1M323 261.5h1M340 260.5h1M341 260.5h1M344 261.5h1M345 262.5h1M353 261.5h1M354 261.5h1M360 261.5h1M367 260.5h1M368 260.5h1M370 261.5h1M377 260.5h1M381 261.5h1M381 262.5h1M387 261.5h1M387 262.5h1M396 261.5h1M397 260.5h1M404 259.5h1M405 260.5h1M408 259.5h1M411 260.5h1M416 259.5h1M417 260.5h1M418 260.5h1M420 260.5h1M133 264.5h1M148 264.5h1M149 265.5h1M158 262.5h1M163 262.5h1M164 263.5h1M171 262.5h1M186 264.5h1M187 264.5h1M192 264.5h1M192 265.5h1M201 264.5h1M204 262.5h1M205 261.5h1M207 263.5h1M224 264.5h1M225 263.5h1M232 262.5h1M237 263.5h1M298 264.5h1M320 264.5h1M321 263.5h1M327 264.5h1M328 265.5h1M338 263.5h1M339 262.5h1M349 263.5h1M356 262.5h1M356 263.5h1M366 264.5h1M367 263.5h1M373 262.5h1M374 261.5h1M375 263.5h1M387 263.5h1M410 264.5h1M411 263.5h1M421 263.5h1M422 264.5h1M423 263.5h1M198 265.5h1M206 265.5h1M222 265.5h1M229 265.5h1M317 265.5h1M325 265.5h1M346 265.5h1M350 265.5h1M368 265.5h1M381 265.5h1M384 265.5h1" stroke="#a8a8a8" fill="none"/>
<path d="M232 106.5H247M232 132.5H247M232.5 106V133M246.5 106V133M232 131.5H247M232 112.5H247M232 113.5H247M245.5 106V133M234.5 130.5L239.5 114.5L244.5 130.5M261 106.5H294M261 132.5H294M261.5 106V133M293.5 106V133M262 107.5H293M262 131.5H293M262.5 107V132M292.5 107V132M261 130.5H294M261 112.5H294M261 113.5H294M270.5 106V133M271.5 106V133M283.5 106V133M284.5 106V133M271 124.5H284M271 125.5H284M271 126.5H284M269.5 115.5L263.5 124L269.5 130.5M285.5 115.5L291.5 123L285.5 130.5M273 123.5L277.5 114.5L282 123.5M308 106.5H324M308 132.5H324M308.5 106V133M323.5 106V133M308 131.5H324M308 112.5H324M308 113.5H324M322.5 106V133M310.5 130.5L316.0 114.5L321.5 130.5M232 160.5H247M232 186.5H247M232.5 160V187M246.5 160V187M232 185.5H247M232 166.5H247M232 167.5H247M245.5 160V187M234.5 184.5L239.5 168.5L244.5 184.5M261 160.5H294M261 186.5H294M261.5 160V187M293.5 160V187M262 161.5H293M262 185.5H293M262.5 161V186M292.5 161V186M261 184.5H294M261 166.5H294M261 167.5H294M270.5 160V187M271.5 160V187M283.5 160V187M284.5 160V187M271 178.5H284M271 179.5H284M271 180.5H284M269.5 169.5L263.5 178L269.5 184.5M285.5 169.5L291.5 177L285.5 184.5M273 177.5L277.5 168.5L282 177.5M308 160.5H324M308 186.5H324M308.5 160V187M323.5 160V187M308 185.5H324M308 166.5H324M308 167.5H324M322.5 160V187M310.5 184.5L316.0 168.5L321.5 184.5M261 220.5H294M261 259.5H294M261.5 220V260M293.5 220V260M262 221.5H294M262 258.5H294M262.5 221V259M293.5 221V259M261 258.5H294M277.5 220V260M263.5 240.5L276.5 222.5M263.5 240.5L276.5 257.5M292 239.5L278.5 222.5M292 239.5L278.5 257.5" stroke="#00ffff" stroke-width="1" fill="none"/>
<path d="M258 207.5H298M258 209.5H298M258.5 207V210M297.5 207V210M99 207.5H131M99 209.5H131" stroke="#0000ff" stroke-width="1" fill="none"/>
<path d="M276.5 21V172M276 21.5H343M221 54.5H268M267.5 54V265M264.5 257V265M268 202.5H287M277.5 202.5L281.5 206.5L285.5 202.5M105 202.5H124M113.5 202.5L118 207.5L122.5 202.5M98.5 38V267M85.5 44V267M456.5 38V267M469.5 44V267M95 38.5H110M445 38.5H460M99 39.5h1M97 37.5h1M457 39.5h1M455 37.5h1M95 64.5H110M445 64.5H460M99 65.5h1M97 63.5h1M457 65.5h1M455 63.5h1M95 106.5H110M445 106.5H460M99 107.5h1M97 105.5h1M457 107.5h1M455 105.5h1M95 132.5H110M445 132.5H460M99 133.5h1M97 131.5h1M457 133.5h1M455 131.5h1M95 160.5H110M445 160.5H460M99 161.5h1M97 159.5h1M457 161.5h1M455 159.5h1M95 186.5H110M445 186.5H460M99 187.5h1M97 185.5h1M457 187.5h1M455 185.5h1M95 213.5H110M445 213.5H460M99 214.5h1M97 212.5h1M457 214.5h1M455 212.5h1M95 220.5H110M445 220.5H460M99 221.5h1M97 219.5h1M457 221.5h1M455 219.5h1M66 44.5H110M445 44.5H490M86 45.5h1M84 43.5h1M99 45.5h1M97 43.5h1M457 45.5h1M455 43.5h1M470 45.5h1M468 43.5h1M66 93.5H110M445 93.5H490M86 94.5h1M84 92.5h1M99 94.5h1M97 92.5h1M457 94.5h1M455 92.5h1M470 94.5h1M468 92.5h1M66 147.5H110M445 147.5H490M86 148.5h1M84 146.5h1M99 148.5h1M97 146.5h1M457 148.5h1M455 146.5h1M470 148.5h1M468 146.5h1M66 200.5H110M445 200.5H490M86 201.5h1M84 199.5h1M99 201.5h1M97 199.5h1M457 201.5h1M455 199.5h1M470 201.5h1M468 199.5h1M66 259.5H110M445 259.5H490M86 260.5h1M84 258.5h1M99 260.5h1M97 258.5h1M457 260.5h1M455 258.5h1M470 260.5h1M468 258.5h1M66 266.5H110M445 266.5H490M57 39.5H75M65.0 39.5L70.0 44.5L75.0 39.5M480 39.5H498M480.5 39.5L485.5 44.5L490.0 39.5M57 88.5H75M65.0 88.5L70.0 93.5L75.0 88.5M480 88.5H498M480.5 88.5L485.5 93.5L490.0 88.5M57 142.5H75M65.0 142.5L70.0 147.5L75.0 142.5M480 142.5H498M480.5 142.5L485.5 147.5L490.0 142.5M57 196.5H75M65.0 196.5L70.0 200.5L75.0 196.5M480 196.5H498M480.5 196.5L485.5 200.5L490.0 196.5M57 254.5H75M65.0 254.5L70.0 259.5L75.0 254.5M480 254.5H498M480.5 254.5L485.5 259.5L490.0 254.5M57 271.5H75M65.0 271.5L70.0 266.5L75.0 271.5M480 271.5H498M480.5 271.5L485.5 266.5L490.0 271.5M131.5 276V341M170.5 276V341M258.5 276V341M297.5 276V341M384.5 276V341M423.5 276V341M131 316.5H424M131 329.5H424M254 379.5H316" stroke="#00ff00" stroke-width="1" fill="none"/>
<path d="M283.5 14V17M283.5 18V19M284.5 14V16M285.5 14V17M286.5 15V17M287.5 13V20M289.5 15V19M290.5 14V19M291.5 14V17M291.5 18V20M292.5 13V14M292.5 19V20M293.5 13V14M293.5 19V20M294.5 14V20M295.5 14V19M297.5 14V20M298.5 13V14M298.5 16V17M299.5 15V16M299.5 18V20M300.5 14V16M300.5 17V19M302.5 15V20M303.5 14V17M304.5 14V19M306.5 13V20M307.5 13V15M307.5 16V20M308.5 14V15M308.5 16V17M309.5 13V20M311.5 15V16M311.5 17V20M312.5 15V16M312.5 17V18M313.5 13V16M313.5 17V19M314.5 13V14M314.5 18V19M316.5 15V18M317.5 13V20M318.5 15V16M319.5 14V15M319.5 16V17M321.5 13V18M322.5 14V18M322.5 19V20M323.5 15V16M323.5 17V18M324.5 13V14M324.5 16V17M326.5 15V16M326.5 17V18M326.5 19V20M327.5 13V14M327.5 18V19M328.5 14V15M328.5 17V19M330.5 13V14M330.5 17V18M331.5 17V18M331.5 19V20M332.5 14V20M333.5 13V18M340 15.5h1M301.5 26V31M302.5 25V29M303.5 26V29M303.5 30V31M304.5 25V26M304.5 27V31M305.5 29V31M307.5 24V31M308.5 26V31M309.5 25V30M310.5 24V28M311.5 24V29M312.5 26V28M312.5 29V30M313.5 24V30M314.5 25V27M315.5 25V28M315.5 29V30M316.5 24V30M317.5 26V31M318.5 24V25M318.5 26V27M319.5 25V26M319.5 27V31M320.5 25V27M320.5 28V31M321.5 25V27M321.5 28V31M322.5 25V30M323.5 26V30M324.5 24V31M326.5 26V27M326.5 30V31M327.5 25V30M328.5 25V26M328.5 27V30M330.5 27V31M331.5 26V29M332.5 26V28M333.5 24V31M334.5 25V27M334.5 28V30M335.5 27V29M336.5 25V29M337.5 24V31M339.5 27V31M340.5 26V28M340.5 29V30M341.5 26V30M342.5 27V31M240.5 46V47M240.5 48V52M241.5 46V52M242.5 46V52M243.5 48V50M245.5 47V52M246.5 49V50M247.5 47V50M247.5 51V52M248.5 47V50M250.5 47V52M251.5 47V48M251.5 49V50M251.5 51V52M252.5 46V47M252.5 48V50M253.5 47V52M254.5 47V51M255.5 47V52M256.5 47V51M257.5 48V50M258.5 47V50M258.5 51V52M259.5 48V52M260.5 46V50M261.5 46V50M262.5 49V52M263.5 46V48M263.5 49V51M264.5 47V49M240.5 58V61M241.5 56V59M241.5 60V61M242.5 57V61M244.5 61V62M245.5 57V62M246.5 57V58M246.5 59V60M247.5 61V62M248.5 56V57M248.5 58V61M249.5 59V60M249.5 61V62M250.5 57V58M250.5 61V62M251.5 59V60M251.5 61V62M228 48.5H230M228 49.5H229M228 50.5H230M229 51.5H230M228 52.5H230M228 56.5H230M229 57.5H230M228 58.5H230M229 59.5H230M228 60.5H230M270 196.5H272M273 196.5H275M276 196.5H277M278 196.5H279M271 197.5H272M274 197.5H279M270 198.5H272M273 198.5H279M271 199.5H272M274 199.5H279M270 200.5H276M277 200.5H278M106 196.5H108M109 196.5H111M112 196.5H113M114 196.5H115M107 197.5H108M110 197.5H115M106 198.5H108M109 198.5H115M107 199.5H108M110 199.5H115M106 200.5H112M113 200.5H114M60 34.5H61M62 34.5H63M65 34.5H67M68 34.5H69M70 34.5H71M60 35.5H61M62 35.5H63M66 35.5H71M60 36.5H61M62 36.5H63M65 36.5H71M60 37.5H61M62 37.5H63M65 37.5H66M67 37.5H71M60 38.5H61M62 38.5H63M64 38.5H68M69 38.5H70M481 34.5H482M483 34.5H484M486 34.5H488M489 34.5H490M491 34.5H492M481 35.5H482M483 35.5H484M487 35.5H492M481 36.5H482M483 36.5H484M486 36.5H492M481 37.5H482M483 37.5H484M486 37.5H487M488 37.5H492M481 38.5H482M483 38.5H484M485 38.5H489M490 38.5H491M60 83.5H62M63 83.5H65M66 83.5H67M68 83.5H69M60 84.5H62M64 84.5H69M61 85.5H62M63 85.5H69M60 86.5H62M63 86.5H64M65 86.5H69M60 87.5H66M67 87.5H68M481 83.5H483M484 83.5H486M487 83.5H488M489 83.5H490M481 84.5H483M485 84.5H490M482 85.5H483M484 85.5H490M481 86.5H483M484 86.5H485M486 86.5H490M481 87.5H487M488 87.5H489M60 137.5H62M63 137.5H65M66 137.5H67M68 137.5H69M60 138.5H61M63 138.5H69M60 139.5H62M63 139.5H69M61 140.5H62M64 140.5H69M60 141.5H66M67 141.5H68M481 137.5H483M484 137.5H486M487 137.5H488M489 137.5H490M481 138.5H482M484 138.5H490M481 139.5H483M484 139.5H490M482 140.5H483M485 140.5H490M481 141.5H487M488 141.5H489M60 190.5H62M63 190.5H65M66 190.5H67M68 190.5H69M61 191.5H62M63 191.5H64M65 191.5H69M60 192.5H62M63 192.5H69M61 193.5H62M63 193.5H69M60 194.5H66M67 194.5H68M481 190.5H483M484 190.5H486M487 190.5H488M489 190.5H490M482 191.5H483M484 191.5H485M486 191.5H490M481 192.5H483M484 192.5H490M482 193.5H483M484 193.5H490M481 194.5H487M488 194.5H489M61 249.5H62M63 249.5H64M66 249.5H67M68 249.5H69M70 249.5H71M60 250.5H64M65 250.5H71M61 251.5H64M65 251.5H71M62 252.5H64M65 252.5H71M60 253.5H63M64 253.5H66M67 253.5H68M69 253.5H70M482 249.5H483M484 249.5H485M487 249.5H488M489 249.5H490M491 249.5H492M481 250.5H485M486 250.5H492M482 251.5H485M486 251.5H492M483 252.5H485M486 252.5H492M481 253.5H484M485 253.5H487M488 253.5H489M490 253.5H491M63 275.5H64M65 275.5H66M67 275.5H69M70 275.5H71M62 276.5H64M65 276.5H68M69 276.5H71M60 277.5H64M65 277.5H71M62 278.5H64M66 278.5H67M68 278.5H71M62 279.5H63M64 279.5H65M66 279.5H70M483 275.5H484M485 275.5H486M487 275.5H489M490 275.5H491M482 276.5H484M485 276.5H488M489 276.5H491M480 277.5H484M485 277.5H491M482 278.5H484M486 278.5H487M488 278.5H491M482 279.5H483M484 279.5H485M486 279.5H490M92 35.5h1M92 34.5h1M92 32.5h1M92 30.5h1M93 35.5h1M93 33.5h1M93 32.5h1M93 31.5h1M93 30.5h1M94 35.5h1M94 34.5h1M94 33.5h1M94 32.5h1M94 31.5h1M94 30.5h1M95 34.5h1M95 33.5h1M95 32.5h1M95 31.5h1M95 30.5h1M96 35.5h1M96 34.5h1M96 33.5h1M96 31.5h1M450 35.5h1M450 34.5h1M450 32.5h1M450 30.5h1M451 35.5h1M451 33.5h1M451 32.5h1M451 31.5h1M451 30.5h1M452 35.5h1M452 34.5h1M452 33.5h1M452 32.5h1M452 31.5h1M452 30.5h1M453 34.5h1M453 33.5h1M453 32.5h1M453 31.5h1M453 30.5h1M454 35.5h1M454 34.5h1M454 33.5h1M454 31.5h1M92 58.5h1M92 56.5h1M92 55.5h1M92 53.5h1M92 51.5h1M93 58.5h1M93 56.5h1M93 54.5h1M93 53.5h1M93 52.5h1M93 51.5h1M94 58.5h1M94 56.5h1M94 55.5h1M94 54.5h1M94 53.5h1M94 52.5h1M94 51.5h1M95 58.5h1M95 55.5h1M95 54.5h1M95 53.5h1M95 52.5h1M95 51.5h1M96 58.5h1M96 56.5h1M96 55.5h1M96 54.5h1M96 52.5h1M450 58.5h1M450 56.5h1M450 55.5h1M450 53.5h1M450 51.5h1M451 58.5h1M451 56.5h1M451 54.5h1M451 53.5h1M451 52.5h1M451 51.5h1M452 58.5h1M452 56.5h1M452 55.5h1M452 54.5h1M452 53.5h1M452 52.5h1M452 51.5h1M453 58.5h1M453 55.5h1M453 54.5h1M453 53.5h1M453 52.5h1M453 51.5h1M454 58.5h1M454 56.5h1M454 55.5h1M454 54.5h1M454 52.5h1M92 82.5h1M92 81.5h1M92 80.5h1M92 77.5h1M92 75.5h1M93 81.5h1M93 80.5h1M93 79.5h1M93 78.5h1M93 77.5h1M93 76.5h1M93 75.5h1M94 82.5h1M94 81.5h1M94 80.5h1M94 79.5h1M94 78.5h1M94 77.5h1M94 76.5h1M94 75.5h1M95 82.5h1M95 79.5h1M95 78.5h1M95 77.5h1M95 76.5h1M95 75.5h1M96 82.5h1M96 81.5h1M96 79.5h1M96 78.5h1M96 76.5h1M450 82.5h1M450 81.5h1M450 80.5h1M450 77.5h1M450 75.5h1M451 81.5h1M451 80.5h1M451 79.5h1M451 78.5h1M451 77.5h1M451 76.5h1M451 75.5h1M452 82.5h1M452 81.5h1M452 80.5h1M452 79.5h1M452 78.5h1M452 77.5h1M452 76.5h1M452 75.5h1M453 82.5h1M453 79.5h1M453 78.5h1M453 77.5h1M453 76.5h1M453 75.5h1M454 82.5h1M454 81.5h1M454 79.5h1M454 78.5h1M454 76.5h1M92 103.5h1M92 102.5h1M92 100.5h1M92 98.5h1M93 103.5h1M93 102.5h1M93 101.5h1M93 100.5h1M93 99.5h1M93 98.5h1M94 103.5h1M94 102.5h1M94 101.5h1M94 100.5h1M94 99.5h1M94 98.5h1M95 102.5h1M95 101.5h1M95 100.5h1M95 99.5h1M95 98.5h1M96 103.5h1M96 102.5h1M96 101.5h1M96 99.5h1M450 103.5h1M450 102.5h1M450 100.5h1M450 98.5h1M451 103.5h1M451 102.5h1M451 101.5h1M451 100.5h1M451 99.5h1M451 98.5h1M452 103.5h1M452 102.5h1M452 101.5h1M452 100.5h1M452 99.5h1M452 98.5h1M453 102.5h1M453 101.5h1M453 100.5h1M453 99.5h1M453 98.5h1M454 103.5h1M454 102.5h1M454 101.5h1M454 99.5h1M92 124.5h1M92 122.5h1M92 121.5h1M92 119.5h1M92 117.5h1M93 124.5h1M93 122.5h1M93 121.5h1M93 120.5h1M93 119.5h1M93 118.5h1M93 117.5h1M94 124.5h1M94 121.5h1M94 120.5h1M94 119.5h1M94 118.5h1M94 117.5h1M95 124.5h1M95 122.5h1M95 121.5h1M95 120.5h1M95 119.5h1M95 118.5h1M95 117.5h1M96 124.5h1M96 122.5h1M96 121.5h1M96 120.5h1M96 118.5h1M450 124.5h1M450 122.5h1M450 121.5h1M450 119.5h1M450 117.5h1M451 124.5h1M451 122.5h1M451 121.5h1M451 120.5h1M451 119.5h1M451 118.5h1M451 117.5h1M452 124.5h1M452 121.5h1M452 120.5h1M452 119.5h1M452 118.5h1M452 117.5h1M453 124.5h1M453 122.5h1M453 121.5h1M453 120.5h1M453 119.5h1M453 118.5h1M453 117.5h1M454 124.5h1M454 122.5h1M454 121.5h1M454 120.5h1M454 118.5h1M92 143.5h1M92 142.5h1M92 140.5h1M92 138.5h1M93 143.5h1M93 142.5h1M93 141.5h1M93 140.5h1M93 139.5h1M93 138.5h1M94 143.5h1M94 142.5h1M94 141.5h1M94 140.5h1M94 139.5h1M94 138.5h1M95 142.5h1M95 141.5h1M95 140.5h1M95 139.5h1M95 138.5h1M96 143.5h1M96 142.5h1M96 141.5h1M96 139.5h1M450 143.5h1M450 142.5h1M450 140.5h1M450 138.5h1M451 143.5h1M451 142.5h1M451 141.5h1M451 140.5h1M451 139.5h1M451 138.5h1M452 143.5h1M452 142.5h1M452 141.5h1M452 140.5h1M452 139.5h1M452 138.5h1M453 142.5h1M453 141.5h1M453 140.5h1M453 139.5h1M453 138.5h1M454 143.5h1M454 142.5h1M454 141.5h1M454 139.5h1M92 157.5h1M92 156.5h1M92 154.5h1M92 152.5h1M93 157.5h1M93 156.5h1M93 155.5h1M93 154.5h1M93 153.5h1M93 152.5h1M94 157.5h1M94 156.5h1M94 155.5h1M94 154.5h1M94 153.5h1M94 152.5h1M95 156.5h1M95 155.5h1M95 154.5h1M95 153.5h1M95 152.5h1M96 157.5h1M96 156.5h1M96 155.5h1M96 153.5h1M450 157.5h1M450 156.5h1M450 154.5h1M450 152.5h1M451 157.5h1M451 156.5h1M451 155.5h1M451 154.5h1M451 153.5h1M451 152.5h1M452 157.5h1M452 156.5h1M452 155.5h1M452 154.5h1M452 153.5h1M452 152.5h1M453 156.5h1M453 155.5h1M453 154.5h1M453 153.5h1M453 152.5h1M454 157.5h1M454 156.5h1M454 155.5h1M454 153.5h1M92 178.5h1M92 176.5h1M92 175.5h1M92 173.5h1M92 171.5h1M93 178.5h1M93 176.5h1M93 175.5h1M93 174.5h1M93 173.5h1M93 172.5h1M93 171.5h1M94 178.5h1M94 175.5h1M94 174.5h1M94 173.5h1M94 172.5h1M94 171.5h1M95 178.5h1M95 176.5h1M95 175.5h1M95 174.5h1M95 173.5h1M95 172.5h1M95 171.5h1M96 178.5h1M96 176.5h1M96 175.5h1M96 174.5h1M96 172.5h1M450 178.5h1M450 176.5h1M450 175.5h1M450 173.5h1M450 171.5h1M451 178.5h1M451 176.5h1M451 175.5h1M451 174.5h1M451 173.5h1M451 172.5h1M451 171.5h1M452 178.5h1M452 175.5h1M452 174.5h1M452 173.5h1M452 172.5h1M452 171.5h1M453 178.5h1M453 176.5h1M453 175.5h1M453 174.5h1M453 173.5h1M453 172.5h1M453 171.5h1M454 178.5h1M454 176.5h1M454 175.5h1M454 174.5h1M454 172.5h1M92 196.5h1M92 195.5h1M92 193.5h1M92 191.5h1M93 196.5h1M93 195.5h1M93 194.5h1M93 193.5h1M93 192.5h1M93 191.5h1M94 196.5h1M94 195.5h1M94 194.5h1M94 193.5h1M94 192.5h1M94 191.5h1M95 195.5h1M95 194.5h1M95 193.5h1M95 192.5h1M95 191.5h1M96 196.5h1M96 195.5h1M96 194.5h1M96 192.5h1M450 196.5h1M450 195.5h1M450 193.5h1M450 191.5h1M451 196.5h1M451 195.5h1M451 194.5h1M451 193.5h1M451 192.5h1M451 191.5h1M452 196.5h1M452 195.5h1M452 194.5h1M452 193.5h1M452 192.5h1M452 191.5h1M453 195.5h1M453 194.5h1M453 193.5h1M453 192.5h1M453 191.5h1M454 196.5h1M454 195.5h1M454 194.5h1M454 192.5h1M92 210.5h1M92 209.5h1M92 207.5h1M92 205.5h1M93 210.5h1M93 209.5h1M93 208.5h1M93 207.5h1M93 206.5h1M93 205.5h1M94 210.5h1M94 209.5h1M94 208.5h1M94 207.5h1M94 206.5h1M94 205.5h1M95 209.5h1M95 208.5h1M95 207.5h1M95 206.5h1M95 205.5h1M96 210.5h1M96 209.5h1M96 208.5h1M96 206.5h1M450 210.5h1M450 209.5h1M450 207.5h1M450 205.5h1M451 210.5h1M451 209.5h1M451 208.5h1M451 207.5h1M451 206.5h1M451 205.5h1M452 210.5h1M452 209.5h1M452 208.5h1M452 207.5h1M452 206.5h1M452 205.5h1M453 209.5h1M453 208.5h1M453 207.5h1M453 206.5h1M453 205.5h1M454 210.5h1M454 209.5h1M454 208.5h1M454 206.5h1M86 220.5h1M86 218.5h1M86 217.5h1M86 215.5h1M87 220.5h1M87 219.5h1M87 218.5h1M87 216.5h1M87 215.5h1M88 220.5h1M88 219.5h1M88 218.5h1M88 217.5h1M88 216.5h1M88 215.5h1M89 219.5h1M89 217.5h1M89 216.5h1M89 215.5h1M90 219.5h1M90 218.5h1M90 217.5h1M90 216.5h1M444 220.5h1M444 218.5h1M444 217.5h1M444 215.5h1M445 220.5h1M445 219.5h1M445 218.5h1M445 216.5h1M445 215.5h1M446 220.5h1M446 219.5h1M446 218.5h1M446 217.5h1M446 216.5h1M446 215.5h1M447 219.5h1M447 217.5h1M447 216.5h1M447 215.5h1M448 219.5h1M448 218.5h1M448 217.5h1M448 216.5h1M92 244.5h1M92 243.5h1M92 242.5h1M92 241.5h1M92 239.5h1M92 237.5h1M93 243.5h1M93 241.5h1M93 240.5h1M93 239.5h1M93 238.5h1M93 237.5h1M94 244.5h1M94 243.5h1M94 241.5h1M94 240.5h1M94 239.5h1M94 238.5h1M94 237.5h1M95 244.5h1M95 241.5h1M95 240.5h1M95 239.5h1M95 238.5h1M95 237.5h1M96 244.5h1M96 243.5h1M96 241.5h1M96 240.5h1M96 238.5h1M450 244.5h1M450 243.5h1M450 242.5h1M450 241.5h1M450 239.5h1M450 237.5h1M451 243.5h1M451 241.5h1M451 240.5h1M451 239.5h1M451 238.5h1M451 237.5h1M452 244.5h1M452 243.5h1M452 241.5h1M452 240.5h1M452 239.5h1M452 238.5h1M452 237.5h1M453 244.5h1M453 241.5h1M453 240.5h1M453 239.5h1M453 238.5h1M453 237.5h1M454 244.5h1M454 243.5h1M454 241.5h1M454 240.5h1M454 238.5h1M92 276.5h1M92 274.5h1M92 273.5h1M92 271.5h1M93 276.5h1M93 275.5h1M93 274.5h1M93 272.5h1M93 271.5h1M94 276.5h1M94 275.5h1M94 274.5h1M94 273.5h1M94 272.5h1M94 271.5h1M95 275.5h1M95 273.5h1M95 272.5h1M95 271.5h1M96 275.5h1M96 274.5h1M96 273.5h1M96 272.5h1M450 276.5h1M450 274.5h1M450 273.5h1M450 271.5h1M451 276.5h1M451 275.5h1M451 274.5h1M451 272.5h1M451 271.5h1M452 276.5h1M452 275.5h1M452 274.5h1M452 273.5h1M452 272.5h1M452 271.5h1M453 275.5h1M453 273.5h1M453 272.5h1M453 271.5h1M454 275.5h1M454 274.5h1M454 273.5h1M454 272.5h1M79 73.5h1M79 72.5h1M79 70.5h1M79 68.5h1M79 66.5h1M80 72.5h1M80 71.5h1M80 70.5h1M80 69.5h1M80 68.5h1M80 67.5h1M80 66.5h1M81 73.5h1M81 72.5h1M81 71.5h1M81 70.5h1M81 69.5h1M81 68.5h1M81 67.5h1M81 66.5h1M82 72.5h1M82 71.5h1M82 70.5h1M82 69.5h1M82 68.5h1M82 67.5h1M82 66.5h1M83 73.5h1M83 72.5h1M83 71.5h1M83 69.5h1M83 67.5h1M463 73.5h1M463 72.5h1M463 70.5h1M463 68.5h1M463 66.5h1M464 72.5h1M464 71.5h1M464 70.5h1M464 69.5h1M464 68.5h1M464 67.5h1M464 66.5h1M465 73.5h1M465 72.5h1M465 71.5h1M465 70.5h1M465 69.5h1M465 68.5h1M465 67.5h1M465 66.5h1M466 72.5h1M466 71.5h1M466 70.5h1M466 69.5h1M466 68.5h1M466 67.5h1M466 66.5h1M467 73.5h1M467 72.5h1M467 71.5h1M467 69.5h1M467 67.5h1M79 124.5h1M79 123.5h1M79 122.5h1M79 121.5h1M79 119.5h1M79 117.5h1M80 123.5h1M80 122.5h1M80 120.5h1M80 119.5h1M80 118.5h1M80 117.5h1M81 124.5h1M81 123.5h1M81 122.5h1M81 121.5h1M81 120.5h1M81 119.5h1M81 118.5h1M81 117.5h1M82 123.5h1M82 122.5h1M82 121.5h1M82 120.5h1M82 119.5h1M82 118.5h1M82 117.5h1M83 124.5h1M83 123.5h1M83 122.5h1M83 121.5h1M83 120.5h1M83 118.5h1M463 124.5h1M463 123.5h1M463 122.5h1M463 121.5h1M463 119.5h1M463 117.5h1M464 123.5h1M464 122.5h1M464 120.5h1M464 119.5h1M464 118.5h1M464 117.5h1M465 124.5h1M465 123.5h1M465 122.5h1M465 121.5h1M465 120.5h1M465 119.5h1M465 118.5h1M465 117.5h1M466 123.5h1M466 122.5h1M466 121.5h1M466 120.5h1M466 119.5h1M466 118.5h1M466 117.5h1M467 124.5h1M467 123.5h1M467 122.5h1M467 121.5h1M467 120.5h1M467 118.5h1M79 178.5h1M79 177.5h1M79 176.5h1M79 175.5h1M79 173.5h1M79 171.5h1M80 177.5h1M80 176.5h1M80 174.5h1M80 173.5h1M80 172.5h1M80 171.5h1M81 178.5h1M81 177.5h1M81 176.5h1M81 175.5h1M81 174.5h1M81 173.5h1M81 172.5h1M81 171.5h1M82 177.5h1M82 176.5h1M82 175.5h1M82 174.5h1M82 173.5h1M82 172.5h1M82 171.5h1M83 178.5h1M83 177.5h1M83 176.5h1M83 175.5h1M83 174.5h1M83 172.5h1M463 178.5h1M463 177.5h1M463 176.5h1M463 175.5h1M463 173.5h1M463 171.5h1M464 177.5h1M464 176.5h1M464 174.5h1M464 173.5h1M464 172.5h1M464 171.5h1M465 178.5h1M465 177.5h1M465 176.5h1M465 175.5h1M465 174.5h1M465 173.5h1M465 172.5h1M465 171.5h1M466 177.5h1M466 176.5h1M466 175.5h1M466 174.5h1M466 173.5h1M466 172.5h1M466 171.5h1M467 178.5h1M467 177.5h1M467 176.5h1M467 175.5h1M467 174.5h1M467 172.5h1M79 234.5h1M79 233.5h1M79 232.5h1M79 231.5h1M79 229.5h1M79 227.5h1M80 233.5h1M80 232.5h1M80 230.5h1M80 229.5h1M80 228.5h1M80 227.5h1M81 234.5h1M81 233.5h1M81 232.5h1M81 231.5h1M81 230.5h1M81 229.5h1M81 228.5h1M81 227.5h1M82 233.5h1M82 232.5h1M82 231.5h1M82 230.5h1M82 229.5h1M82 228.5h1M82 227.5h1M83 234.5h1M83 233.5h1M83 232.5h1M83 231.5h1M83 230.5h1M83 228.5h1M463 234.5h1M463 233.5h1M463 232.5h1M463 231.5h1M463 229.5h1M463 227.5h1M464 233.5h1M464 232.5h1M464 230.5h1M464 229.5h1M464 228.5h1M464 227.5h1M465 234.5h1M465 233.5h1M465 232.5h1M465 231.5h1M465 230.5h1M465 229.5h1M465 228.5h1M465 227.5h1M466 233.5h1M466 232.5h1M466 231.5h1M466 230.5h1M466 229.5h1M466 228.5h1M466 227.5h1M467 234.5h1M467 233.5h1M467 232.5h1M467 231.5h1M467 230.5h1M467 228.5h1M79 276.5h1M79 274.5h1M79 273.5h1M79 271.5h1M80 276.5h1M80 275.5h1M80 274.5h1M80 272.5h1M80 271.5h1M81 276.5h1M81 275.5h1M81 274.5h1M81 273.5h1M81 272.5h1M81 271.5h1M82 275.5h1M82 273.5h1M82 272.5h1M82 271.5h1M83 275.5h1M83 274.5h1M83 273.5h1M83 272.5h1M471 276.5h1M471 274.5h1M471 273.5h1M471 271.5h1M472 276.5h1M472 275.5h1M472 274.5h1M472 272.5h1M472 271.5h1M473 276.5h1M473 275.5h1M473 274.5h1M473 273.5h1M473 272.5h1M473 271.5h1M474 275.5h1M474 273.5h1M474 272.5h1M474 271.5h1M475 275.5h1M475 274.5h1M475 273.5h1M475 272.5h1M129.5 351.1L131.75 343.5L134.0 351.1M130.4 348.25L133.1 348.25M168.5 343.5L168.5 351.1M168.5 343.5L171.65 343.5L172.55 344.45L172.55 346.35L171.65 347.3L168.5 347.3M171.65 347.3L173.0 348.25L173.0 350.15L172.1 351.1L168.5 351.1M261.0 344.93L260.1 343.5L257.85 343.5L256.5 344.93L256.5 349.68L257.85 351.1L260.1 351.1L261.0 349.68M295.5 343.5L295.5 351.1M295.5 343.5L298.2 343.5L300.0 345.4L300.0 349.2L298.2 351.1L295.5 351.1M388.0 343.5L383.5 343.5L383.5 351.1L388.0 351.1M383.5 347.3L386.65 347.3M427.0 343.5L422.5 343.5L422.5 351.1M422.5 347.3L425.65 347.3M146 310.5H150M151 310.5H152M153 310.5H154M147 311.5H149M150 311.5H154M146 312.5H154M146 313.5H147M148 313.5H154M146 314.5H151M152 314.5H153M209 310.5H212M214 310.5H215M216 310.5H217M209 311.5H210M211 311.5H217M209 312.5H217M210 313.5H211M212 313.5H217M209 314.5H211M212 314.5H214M215 314.5H216M273 310.5H276M278 310.5H279M280 310.5H281M274 311.5H281M273 312.5H281M273 313.5H274M276 313.5H281M273 314.5H275M276 314.5H278M279 314.5H280M336 310.5H339M341 310.5H342M343 310.5H344M336 311.5H337M338 311.5H344M336 312.5H344M337 313.5H338M339 313.5H344M336 314.5H338M339 314.5H341M342 314.5H343M400 310.5H404M405 310.5H406M407 310.5H408M401 311.5H403M404 311.5H408M400 312.5H408M400 313.5H401M402 313.5H408M400 314.5H405M406 314.5H407M272 323.5H273M274 323.5H278M279 323.5H280M281 323.5H282M272 324.5H273M274 324.5H275M276 324.5H277M278 324.5H282M272 325.5H273M274 325.5H282M272 326.5H273M275 326.5H282M272 327.5H273M274 327.5H279M280 327.5H281M258.0 375.4L259.75 371.0L261.5 375.4M258.7 373.75L260.8 373.75M280.0 371.0L276.5 371.0L276.5 375.4M276.5 373.2L278.95 373.2M265.5 373.5L267 371.5L269.5 373L271.5 372M283.5 369.0L287.0 369.0M285.2 367.5L284.1 371.5L286.8 371.5M285.5 370.0L285.5 377.5M283.5 374.0L287.2 373.5M287.9 370.0L291.1 370.0L291.1 377.5L287.9 377.5L287.9 370.0M289.5 367.5L289.5 377.5M287.9 373.5L291.1 373.5M295.2 367.5L295.2 369.0M292.4 369.7L298.2 369.7M293.7 371.5L294.4 375.5M297.0 371.2L296.2 376.0M291.7 377.5L298.9 377.5M299.9 367.5L306.9 367.5M303.4 367.5L302.9 369.5M300.4 369.5L306.4 369.5L306.4 377.5L300.4 377.5L300.4 369.5M302.4 369.5L302.4 377.5M304.4 369.5L304.4 377.5M302.4 372.5L304.4 372.5M302.4 375.0L304.4 375.0M308.4 367.5L315.1 367.5L315.1 377.5L308.4 377.5L308.4 367.5M311.1 368.8L309.8 371.2M310.8 369.8L313.4 369.8L311.8 372.0L309.8 373.8M311.1 371.2L313.9 373.8M311.4 373.5L312.6 374.5M310.9 375.2L312.7 376.3M321.5 372V378M320 373.5h1M325 374.5h1M325 378.5h1M328.5 372V378M327 372.5h1M326 373.5h1M330.5 372V378M333.5 373V378M330 372.5H333M331 378.5H333M335.5 372V378M338.5 373V378M335 372.5H338M336 378.5H338M249.5 386V391M250.5 386V389M251.5 385V389M251.5 390V392M252.5 385V392M254.5 385V386M254.5 387V388M255.5 385V392M256.5 385V389M256.5 390V391M257.5 387V391M258.5 386V392M260.5 387V390M261.5 385V387M261.5 388V390M262.5 387V388M262.5 389V391M263.5 386V392M264.5 388V389M264.5 390V392M265.5 387V392M267.5 385V386M267.5 391V392M268.5 385V386M268.5 387V391M269.5 387V390M269.5 391V392M270.5 386V388M270.5 389V390M272.5 386V388M272.5 389V391M273.5 386V387M273.5 389V392M274.5 386V390M274.5 391V392M275.5 385V391M277.5 386V389M277.5 390V392M278.5 388V390M279.5 386V388M279.5 389V392M280.5 385V387M280.5 388V390M281.5 386V392M282.5 385V386M282.5 390V391M283.5 386V389M283.5 390V392M285.5 387V392M286.5 389V391M287.5 389V390M287.5 391V392M288.5 385V390M288.5 391V392M289.5 385V386M289.5 387V392M291.5 386V389M292.5 386V387M292.5 388V390M293.5 387V390M294.5 386V392M295.5 386V392M297.5 386V388M297.5 390V391M298.5 385V386M298.5 388V389M299.5 385V389M299.5 390V391M301.5 386V388M301.5 389V391M302.5 385V386M302.5 387V388M302.5 389V392M303.5 387V390M303.5 391V392M304.5 387V388M304.5 389V392M305.5 386V388M305.5 389V391M306.5 387V391M307.5 385V389M308.5 386V390M308.5 391V392M309.5 386V389M309.5 391V392M310.5 387V389M310.5 390V392M311.5 386V388M311.5 389V391M312.5 386V387M312.5 388V390M314.5 385V391M315.5 386V392M316.5 385V388M316.5 389V390M317.5 386V388M319.5 386V392M320.5 386V390" stroke="#ffffff" stroke-width="1" fill="none"/>
<path d="M762.5 40V214M782.5 40V214M803.5 40V214M824.5 40V214M844.5 40V214M865.5 40V214M886.5 66V214M906.5 66V214M927.5 66V214M948.5 66V214M968.5 66V214M989.5 66V214M1010.5 66V214M1030.5 66V214M748 81.5H1044M748 101.5H1044M748 122.5H1044M748 142.5H1044M748 163.5H1044M748 184.5H1044M748 204.5H1044M748 60.5H877M886.5 47V51" stroke="#808080" stroke-width="1" fill="none"/>
<path d="M745 39.5H881M747 38.5h1M756 38.5h1M757 38.5h1M759 38.5h1M760 38.5h1M765 38.5h1M768 38.5h1M770 38.5h1M771 38.5h1M777 38.5h1M778 38.5h1M780 38.5h1M785 38.5h1M787 38.5h1M789 38.5h1M796 38.5h1M798 38.5h1M802 38.5h1M803 38.5h1M811 38.5h1M814 38.5h1M817 38.5h1M826 38.5h1M841 38.5h1M853 38.5h1M865 38.5h1M866 38.5h1M867 38.5h1M871 38.5h1M874 38.5h1M878 38.5h1" stroke="#a8a8a8" fill="none"/><path d="M746 39.5h1M746 38.5h1M747 39.5h1M748 38.5h1M751 38.5h1M752 38.5h1M754 39.5h1M755 38.5h1M756 39.5h1M757 39.5h1M758 38.5h1M762 39.5h1M763 39.5h1M763 38.5h1M767 38.5h1M771 39.5h1M773 38.5h1M774 39.5h1M776 39.5h1M777 39.5h1M778 39.5h1M779 39.5h1M781 39.5h1M782 39.5h1M785 39.5h1M787 39.5h1M788 39.5h1M788 38.5h1M789 39.5h1M792 39.5h1M793 39.5h1M793 38.5h1M794 39.5h1M795 39.5h1M799 39.5h1M800 38.5h1M803 39.5h1M804 39.5h1M805 39.5h1M808 39.5h1M809 39.5h1M809 38.5h1M810 39.5h1M810 38.5h1M811 39.5h1M812 39.5h1M814 39.5h1M816 39.5h1M816 38.5h1M818 39.5h1M818 38.5h1M821 39.5h1M821 38.5h1M823 38.5h1M824 39.5h1M824 38.5h1M825 39.5h1M826 39.5h1M827 39.5h1M827 38.5h1M829 39.5h1M829 38.5h1M830 38.5h1M834 38.5h1M835 38.5h1M836 39.5h1M837 39.5h1M837 38.5h1M838 39.5h1M838 38.5h1M839 39.5h1M840 38.5h1M843 39.5h1M843 38.5h1M844 39.5h1M847 39.5h1M847 38.5h1M849 39.5h1M853 39.5h1M854 39.5h1M854 38.5h1M855 39.5h1M856 39.5h1M857 39.5h1M857 38.5h1M859 38.5h1M860 38.5h1M861 38.5h1M862 39.5h1M862 38.5h1M863 39.5h1M863 38.5h1M864 39.5h1M868 39.5h1M868 38.5h1M872 39.5h1M872 38.5h1M874 39.5h1M875 39.5h1M875 38.5h1M876 39.5h1M878 39.5h1M879 39.5h1M880 38.5h1" stroke="#f4f4f4" fill="none"/>
<path d="M875 65.5H1047M879 64.5h1M886 64.5h1M888 64.5h1M890 64.5h1M905 64.5h1M918 64.5h1M920 64.5h1M938 64.5h1M940 64.5h1M941 64.5h1M944 64.5h1M951 64.5h1M953 64.5h1M954 64.5h1M961 64.5h1M967 64.5h1M971 64.5h1M972 64.5h1M990 64.5h1M991 64.5h1M997 64.5h1M998 64.5h1M1011 64.5h1M1013 64.5h1M1015 64.5h1M1017 64.5h1M1018 64.5h1M1021 64.5h1M1022 64.5h1M1024 64.5h1M1032 64.5h1M1037 64.5h1M1039 64.5h1M1043 64.5h1M1046 64.5h1" stroke="#a8a8a8" fill="none"/><path d="M875 64.5h1M878 65.5h1M878 64.5h1M879 65.5h1M880 65.5h1M882 64.5h1M884 65.5h1M884 64.5h1M887 65.5h1M888 65.5h1M889 65.5h1M890 65.5h1M891 65.5h1M892 65.5h1M894 65.5h1M895 65.5h1M895 64.5h1M897 65.5h1M897 64.5h1M898 65.5h1M898 64.5h1M899 65.5h1M900 65.5h1M900 64.5h1M902 65.5h1M904 65.5h1M904 64.5h1M905 65.5h1M906 64.5h1M907 64.5h1M908 65.5h1M908 64.5h1M909 65.5h1M909 64.5h1M910 64.5h1M911 65.5h1M912 64.5h1M914 65.5h1M914 64.5h1M916 65.5h1M917 65.5h1M917 64.5h1M918 65.5h1M919 65.5h1M921 64.5h1M922 65.5h1M922 64.5h1M924 64.5h1M925 65.5h1M925 64.5h1M928 65.5h1M928 64.5h1M929 65.5h1M929 64.5h1M931 65.5h1M931 64.5h1M932 64.5h1M937 65.5h1M938 65.5h1M942 64.5h1M943 65.5h1M945 64.5h1M946 64.5h1M947 65.5h1M947 64.5h1M948 65.5h1M949 65.5h1M952 65.5h1M953 65.5h1M954 65.5h1M957 64.5h1M958 65.5h1M958 64.5h1M959 65.5h1M960 65.5h1M961 65.5h1M964 65.5h1M964 64.5h1M965 64.5h1M967 65.5h1M968 64.5h1M969 65.5h1M969 64.5h1M972 65.5h1M973 64.5h1M975 64.5h1M976 65.5h1M977 65.5h1M978 65.5h1M978 64.5h1M979 64.5h1M981 65.5h1M981 64.5h1M983 65.5h1M984 64.5h1M985 64.5h1M988 65.5h1M989 65.5h1M992 64.5h1M993 65.5h1M993 64.5h1M996 65.5h1M998 65.5h1M999 65.5h1M1000 65.5h1M1000 64.5h1M1003 65.5h1M1003 64.5h1M1004 65.5h1M1008 65.5h1M1009 65.5h1M1012 65.5h1M1012 64.5h1M1014 64.5h1M1015 65.5h1M1017 65.5h1M1020 65.5h1M1021 65.5h1M1022 65.5h1M1025 65.5h1M1025 64.5h1M1026 65.5h1M1026 64.5h1M1027 65.5h1M1029 65.5h1M1031 65.5h1M1031 64.5h1M1033 65.5h1M1033 64.5h1M1035 64.5h1M1037 65.5h1M1039 65.5h1M1040 64.5h1M1041 65.5h1M1042 65.5h1M1042 64.5h1M1043 65.5h1M1044 65.5h1M1045 65.5h1M1045 64.5h1" stroke="#f4f4f4" fill="none"/>
<path d="M882 108.5h1M885 108.5h1M881 109.5h1M884 109.5h1M887 109.5h1M883 110.5h1M886 110.5h1M882 111.5h1M885 111.5h1M891 108.5h1M894 108.5h1M897 108.5h1M900 108.5h1M890 109.5h1M893 109.5h1M896 109.5h1M899 109.5h1M892 110.5h1M895 110.5h1M898 110.5h1M891 111.5h1M894 111.5h1M897 111.5h1M900 111.5h1M903 108.5h1M906 108.5h1M909 108.5h1M905 109.5h1M908 109.5h1M904 110.5h1M907 110.5h1M903 111.5h1M906 111.5h1M909 111.5h1M882 114.5h1M885 114.5h1M881 115.5h1M884 115.5h1M887 115.5h1M883 116.5h1M886 116.5h1M882 117.5h1M885 117.5h1M881 118.5h1M884 118.5h1M887 118.5h1M883 119.5h1M886 119.5h1M882 120.5h1M885 120.5h1M881 121.5h1M884 121.5h1M887 121.5h1M883 122.5h1M886 122.5h1M882 123.5h1M885 123.5h1M891 114.5h1M894 114.5h1M897 114.5h1M900 114.5h1M890 115.5h1M893 115.5h1M896 115.5h1M899 115.5h1M892 116.5h1M895 116.5h1M898 116.5h1M891 117.5h1M894 117.5h1M897 117.5h1M900 117.5h1M890 118.5h1M893 118.5h1M896 118.5h1M899 118.5h1M892 119.5h1M895 119.5h1M898 119.5h1M891 120.5h1M894 120.5h1M897 120.5h1M900 120.5h1M890 121.5h1M893 121.5h1M896 121.5h1M899 121.5h1M892 122.5h1M895 122.5h1M898 122.5h1M891 123.5h1M894 123.5h1M897 123.5h1M900 123.5h1M903 114.5h1M906 114.5h1M909 114.5h1M905 115.5h1M908 115.5h1M904 116.5h1M907 116.5h1M903 117.5h1M906 117.5h1M909 117.5h1M905 118.5h1M908 118.5h1M904 119.5h1M907 119.5h1M903 120.5h1M906 120.5h1M909 120.5h1M905 121.5h1M908 121.5h1M904 122.5h1M907 122.5h1M903 123.5h1M906 123.5h1M909 123.5h1M882 162.5h1M885 162.5h1M881 163.5h1M884 163.5h1M887 163.5h1M883 164.5h1M886 164.5h1M882 165.5h1M885 165.5h1M891 162.5h1M894 162.5h1M897 162.5h1M900 162.5h1M890 163.5h1M893 163.5h1M896 163.5h1M899 163.5h1M892 164.5h1M895 164.5h1M898 164.5h1M891 165.5h1M894 165.5h1M897 165.5h1M900 165.5h1M903 162.5h1M906 162.5h1M909 162.5h1M905 163.5h1M908 163.5h1M904 164.5h1M907 164.5h1M903 165.5h1M906 165.5h1M909 165.5h1M882 168.5h1M885 168.5h1M881 169.5h1M884 169.5h1M887 169.5h1M883 170.5h1M886 170.5h1M882 171.5h1M885 171.5h1M881 172.5h1M884 172.5h1M887 172.5h1M883 173.5h1M886 173.5h1M882 174.5h1M885 174.5h1M881 175.5h1M884 175.5h1M887 175.5h1M883 176.5h1M886 176.5h1M882 177.5h1M885 177.5h1M891 168.5h1M894 168.5h1M897 168.5h1M900 168.5h1M890 169.5h1M893 169.5h1M896 169.5h1M899 169.5h1M892 170.5h1M895 170.5h1M898 170.5h1M891 171.5h1M894 171.5h1M897 171.5h1M900 171.5h1M890 172.5h1M893 172.5h1M896 172.5h1M899 172.5h1M892 173.5h1M895 173.5h1M898 173.5h1M891 174.5h1M894 174.5h1M897 174.5h1M900 174.5h1M890 175.5h1M893 175.5h1M896 175.5h1M899 175.5h1M892 176.5h1M895 176.5h1M898 176.5h1M891 177.5h1M894 177.5h1M897 177.5h1M900 177.5h1M903 168.5h1M906 168.5h1M909 168.5h1M905 169.5h1M908 169.5h1M904 170.5h1M907 170.5h1M903 171.5h1M906 171.5h1M909 171.5h1M905 172.5h1M908 172.5h1M904 173.5h1M907 173.5h1M903 174.5h1M906 174.5h1M909 174.5h1M905 175.5h1M908 175.5h1M904 176.5h1M907 176.5h1M903 177.5h1M906 177.5h1M909 177.5h1" stroke="#a0a0a0" stroke-width="1" fill="none"/>
<path d="M747.5 39V266M1043.5 65V266M877.5 40V65M877 46.5H898M877 51.5H898M897.5 46V52M747 213.5H1044M733 266.5H1058M875 260.5H915M875 262.5H915M875 264.5H915M875.5 260V267M914.5 260V267" stroke="#ffffff" stroke-width="1" fill="none"/>
<path d="M733 44.5H1058M733 93.5H1058M733 147.5H1058M733 200.5H1058M733 259.5H1058M749.5 93V276M788.5 93V276M875.5 93V276M914.5 93V276M1002.5 93V276M1041.5 93V276" stroke="#ff0000" stroke-width="1" fill="none"/>
<path d="M750 215.5h1M775 214.5h1M775 215.5h1M776 215.5h1M793 214.5h1M802 215.5h1M806 215.5h1M811 215.5h1M815 216.5h1M825 216.5h1M825 217.5h1M831 214.5h1M833 216.5h1M834 217.5h1M841 216.5h1M859 214.5h1M868 215.5h1M869 216.5h1M870 215.5h1M872 216.5h1M918 214.5h1M938 214.5h1M941 214.5h1M954 215.5h1M955 214.5h1M956 215.5h1M968 214.5h1M975 215.5h1M993 215.5h1M1010 215.5h1M1017 214.5h1M1017 215.5h1M1018 214.5h1M1028 214.5h1M1038 215.5h1M1039 216.5h1M767 217.5h1M775 219.5h1M776 217.5h1M782 219.5h1M783 220.5h1M784 221.5h1M784 219.5h1M784 220.5h1M791 217.5h1M792 218.5h1M793 219.5h1M794 220.5h1M799 217.5h1M800 216.5h1M801 217.5h1M805 218.5h1M806 217.5h1M811 219.5h1M812 219.5h1M823 217.5h1M824 216.5h1M824 219.5h1M825 220.5h1M829 217.5h1M839 217.5h1M840 218.5h1M843 217.5h1M861 218.5h1M862 218.5h1M869 219.5h1M870 218.5h1M872 217.5h1M873 216.5h1M917 219.5h1M918 218.5h1M929 219.5h1M934 219.5h1M940 217.5h1M956 219.5h1M962 218.5h1M963 219.5h1M964 219.5h1M968 218.5h1M969 217.5h1M985 217.5h1M986 218.5h1M995 218.5h1M996 218.5h1M998 218.5h1M1011 219.5h1M1012 218.5h1M1018 218.5h1M1021 218.5h1M1022 217.5h1M755 221.5h1M757 221.5h1M767 220.5h1M768 220.5h1M769 221.5h1M774 221.5h1M802 220.5h1M803 219.5h1M815 220.5h1M819 222.5h1M819 223.5h1M823 222.5h1M824 221.5h1M825 221.5h1M826 221.5h1M830 222.5h1M837 221.5h1M838 220.5h1M841 221.5h1M845 220.5h1M846 221.5h1M867 220.5h1M872 221.5h1M873 220.5h1M920 221.5h1M944 222.5h1M979 221.5h1M979 222.5h1M982 222.5h1M991 221.5h1M997 220.5h1M1006 220.5h1M1007 221.5h1M1011 221.5h1M1020 222.5h1M1037 220.5h1M1042 220.5h1M1042 221.5h1M748 224.5h1M749 224.5h1M758 224.5h1M762 223.5h1M763 222.5h1M771 225.5h1M775 224.5h1M776 224.5h1M777 224.5h1M784 225.5h1M785 226.5h1M793 224.5h1M794 225.5h1M798 224.5h1M799 223.5h1M801 224.5h1M802 225.5h1M817 225.5h1M818 226.5h1M830 224.5h1M842 225.5h1M845 225.5h1M856 224.5h1M856 225.5h1M857 225.5h1M860 223.5h1M861 222.5h1M872 225.5h1M872 226.5h1M915 223.5h1M916 222.5h1M924 224.5h1M928 225.5h1M929 226.5h1M934 224.5h1M936 224.5h1M943 224.5h1M958 223.5h1M958 224.5h1M962 223.5h1M963 224.5h1M964 225.5h1M971 225.5h1M972 225.5h1M972 224.5h1M973 223.5h1M985 224.5h1M986 224.5h1M988 224.5h1M989 225.5h1M1004 225.5h1M1012 224.5h1M1013 223.5h1M1014 223.5h1M1017 225.5h1M1042 225.5h1M759 227.5h1M760 226.5h1M770 227.5h1M774 226.5h1M786 226.5h1M791 227.5h1M792 226.5h1M794 227.5h1M798 226.5h1M798 227.5h1M801 226.5h1M823 227.5h1M824 226.5h1M828 226.5h1M829 225.5h1M836 227.5h1M854 227.5h1M855 227.5h1M872 226.5h1M925 227.5h1M930 227.5h1M936 226.5h1M947 228.5h1M950 227.5h1M951 226.5h1M963 228.5h1M972 227.5h1M973 226.5h1M989 228.5h1M990 229.5h1M1002 227.5h1M1003 227.5h1M1006 227.5h1M1007 227.5h1M1015 226.5h1M1016 228.5h1M1029 228.5h1M1030 227.5h1M1033 226.5h1M1034 226.5h1M749 229.5h1M763 230.5h1M764 230.5h1M770 231.5h1M771 231.5h1M777 230.5h1M778 229.5h1M782 229.5h1M783 229.5h1M784 229.5h1M789 230.5h1M790 229.5h1M794 229.5h1M795 230.5h1M817 231.5h1M823 230.5h1M840 229.5h1M851 229.5h1M852 230.5h1M866 229.5h1M866 230.5h1M867 231.5h1M868 229.5h1M927 229.5h1M928 229.5h1M930 229.5h1M935 231.5h1M942 231.5h1M943 230.5h1M950 231.5h1M951 232.5h1M955 230.5h1M956 230.5h1M963 231.5h1M967 230.5h1M968 231.5h1M968 232.5h1M973 230.5h1M974 230.5h1M975 231.5h1M991 231.5h1M992 230.5h1M993 230.5h1M994 229.5h1M1001 230.5h1M1002 230.5h1M1009 229.5h1M1031 229.5h1M1033 230.5h1M755 233.5h1M756 233.5h1M758 232.5h1M770 232.5h1M771 233.5h1M793 233.5h1M793 234.5h1M812 233.5h1M819 234.5h1M820 235.5h1M826 234.5h1M827 233.5h1M828 233.5h1M840 233.5h1M857 232.5h1M858 233.5h1M868 234.5h1M869 235.5h1M915 231.5h1M923 234.5h1M924 235.5h1M925 233.5h1M938 233.5h1M941 233.5h1M942 234.5h1M955 232.5h1M957 232.5h1M958 232.5h1M960 234.5h1M961 234.5h1M964 234.5h1M964 235.5h1M985 233.5h1M986 232.5h1M991 232.5h1M995 234.5h1M996 233.5h1M998 234.5h1M1005 232.5h1M1008 234.5h1M1008 235.5h1M1009 234.5h1M1017 232.5h1M1018 233.5h1M1025 232.5h1M1025 233.5h1M1030 234.5h1M1033 232.5h1M1042 234.5h1M1042 235.5h1M763 237.5h1M771 236.5h1M778 237.5h1M818 235.5h1M819 236.5h1M846 236.5h1M846 237.5h1M847 237.5h1M853 236.5h1M854 235.5h1M915 238.5h1M916 239.5h1M916 236.5h1M920 235.5h1M925 235.5h1M928 237.5h1M929 237.5h1M935 235.5h1M936 235.5h1M937 234.5h1M943 237.5h1M945 236.5h1M946 237.5h1M962 235.5h1M963 235.5h1M973 235.5h1M982 236.5h1M983 235.5h1M994 235.5h1M995 235.5h1M1006 235.5h1M1013 237.5h1M1014 238.5h1M1019 236.5h1M1020 236.5h1M1021 237.5h1M1034 236.5h1M1034 237.5h1M1037 236.5h1M1041 236.5h1M1042 237.5h1M762 239.5h1M762 240.5h1M771 238.5h1M772 239.5h1M783 238.5h1M784 238.5h1M784 239.5h1M794 239.5h1M795 240.5h1M799 239.5h1M799 240.5h1M803 238.5h1M804 238.5h1M831 240.5h1M833 240.5h1M842 239.5h1M853 238.5h1M854 237.5h1M870 238.5h1M871 237.5h1M918 239.5h1M928 239.5h1M945 238.5h1M946 237.5h1M950 239.5h1M950 240.5h1M954 239.5h1M965 238.5h1M966 239.5h1M968 238.5h1M969 239.5h1M973 239.5h1M973 240.5h1M983 239.5h1M985 238.5h1M988 240.5h1M989 241.5h1M1001 240.5h1M1002 240.5h1M1006 239.5h1M1010 238.5h1M1010 239.5h1M1015 240.5h1M1016 241.5h1M1021 239.5h1M1025 240.5h1M1026 239.5h1M1031 238.5h1M1031 239.5h1M1033 240.5h1M1034 239.5h1M1037 240.5h1M1038 239.5h1M1042 240.5h1M1042 241.5h1M748 241.5h1M749 240.5h1M755 242.5h1M756 241.5h1M763 242.5h1M776 242.5h1M781 241.5h1M786 242.5h1M809 243.5h1M815 241.5h1M816 240.5h1M835 243.5h1M836 242.5h1M841 241.5h1M842 241.5h1M854 243.5h1M854 244.5h1M858 242.5h1M860 242.5h1M872 241.5h1M873 242.5h1M944 241.5h1M945 240.5h1M955 241.5h1M956 241.5h1M959 242.5h1M961 242.5h1M964 241.5h1M964 242.5h1M979 243.5h1M980 243.5h1M990 243.5h1M998 243.5h1M1002 241.5h1M1003 241.5h1M1004 242.5h1M1030 241.5h1M1031 242.5h1M1035 243.5h1M1036 244.5h1M751 244.5h1M758 245.5h1M759 246.5h1M760 246.5h1M761 246.5h1M773 245.5h1M774 246.5h1M782 244.5h1M783 244.5h1M793 245.5h1M794 245.5h1M807 246.5h1M808 245.5h1M810 245.5h1M811 245.5h1M819 245.5h1M820 246.5h1M829 246.5h1M839 245.5h1M840 246.5h1M840 244.5h1M841 245.5h1M850 246.5h1M851 246.5h1M855 246.5h1M856 247.5h1M857 247.5h1M861 245.5h1M862 246.5h1M864 244.5h1M919 244.5h1M920 243.5h1M920 244.5h1M921 243.5h1M926 244.5h1M927 245.5h1M931 245.5h1M935 246.5h1M935 247.5h1M936 248.5h1M936 244.5h1M937 244.5h1M942 245.5h1M943 246.5h1M944 245.5h1M945 246.5h1M951 245.5h1M952 245.5h1M974 245.5h1M975 245.5h1M979 246.5h1M980 245.5h1M1002 245.5h1M1003 245.5h1M1004 245.5h1M1005 245.5h1M1022 245.5h1M1022 246.5h1M1026 244.5h1M1027 245.5h1M1038 245.5h1M1039 245.5h1M1041 244.5h1M1042 243.5h1M748 249.5h1M748 250.5h1M756 248.5h1M765 247.5h1M765 248.5h1M766 249.5h1M772 247.5h1M778 247.5h1M790 249.5h1M791 248.5h1M819 247.5h1M820 247.5h1M825 249.5h1M826 250.5h1M847 247.5h1M848 247.5h1M862 247.5h1M870 249.5h1M922 249.5h1M923 248.5h1M929 249.5h1M930 249.5h1M941 248.5h1M942 247.5h1M985 248.5h1M986 249.5h1M989 249.5h1M994 249.5h1M995 250.5h1M1007 247.5h1M1008 248.5h1M1017 249.5h1M752 251.5h1M753 250.5h1M761 250.5h1M765 250.5h1M779 250.5h1M784 251.5h1M790 250.5h1M795 251.5h1M795 252.5h1M796 251.5h1M802 251.5h1M803 251.5h1M810 250.5h1M811 251.5h1M832 252.5h1M832 253.5h1M850 252.5h1M851 251.5h1M857 251.5h1M867 252.5h1M868 251.5h1M869 250.5h1M870 250.5h1M873 251.5h1M915 253.5h1M917 250.5h1M918 249.5h1M920 250.5h1M921 251.5h1M927 252.5h1M928 253.5h1M932 252.5h1M932 253.5h1M942 251.5h1M943 252.5h1M953 251.5h1M953 252.5h1M959 250.5h1M960 251.5h1M974 252.5h1M992 252.5h1M993 251.5h1M1004 250.5h1M1005 249.5h1M1015 250.5h1M1016 250.5h1M1021 250.5h1M1026 251.5h1M1027 251.5h1M1031 250.5h1M1032 251.5h1M1034 252.5h1M1039 252.5h1M751 255.5h1M767 253.5h1M768 254.5h1M770 254.5h1M771 254.5h1M774 253.5h1M775 254.5h1M782 254.5h1M783 254.5h1M796 253.5h1M797 252.5h1M821 253.5h1M830 254.5h1M831 253.5h1M835 253.5h1M835 254.5h1M847 253.5h1M848 254.5h1M852 253.5h1M853 254.5h1M856 255.5h1M856 256.5h1M916 255.5h1M920 253.5h1M921 252.5h1M926 255.5h1M927 256.5h1M929 255.5h1M929 256.5h1M953 254.5h1M958 255.5h1M958 256.5h1M965 253.5h1M966 254.5h1M977 255.5h1M978 254.5h1M989 255.5h1M990 254.5h1M993 253.5h1M994 252.5h1M1002 255.5h1M1014 254.5h1M1016 255.5h1M1017 254.5h1M1023 253.5h1M1024 252.5h1M1026 253.5h1M1027 254.5h1M1029 255.5h1M758 257.5h1M760 257.5h1M761 256.5h1M773 257.5h1M774 257.5h1M776 257.5h1M777 256.5h1M778 255.5h1M787 256.5h1M788 255.5h1M793 257.5h1M799 256.5h1M803 257.5h1M804 258.5h1M805 259.5h1M806 257.5h1M807 257.5h1M826 258.5h1M838 258.5h1M839 258.5h1M853 257.5h1M861 256.5h1M862 256.5h1M866 258.5h1M919 258.5h1M920 259.5h1M925 256.5h1M926 255.5h1M934 258.5h1M934 259.5h1M943 256.5h1M944 256.5h1M945 256.5h1M959 256.5h1M960 257.5h1M970 258.5h1M977 256.5h1M978 257.5h1M981 256.5h1M982 255.5h1M986 258.5h1M993 258.5h1M994 259.5h1M999 257.5h1M1004 257.5h1M1013 258.5h1M1014 257.5h1M1019 258.5h1M1020 257.5h1M1025 257.5h1M1033 256.5h1M751 259.5h1M751 260.5h1M772 261.5h1M786 260.5h1M822 260.5h1M827 260.5h1M830 260.5h1M831 259.5h1M839 261.5h1M851 260.5h1M852 259.5h1M853 259.5h1M868 259.5h1M868 260.5h1M872 261.5h1M873 262.5h1M921 259.5h1M922 260.5h1M923 259.5h1M946 261.5h1M946 262.5h1M950 259.5h1M953 260.5h1M954 260.5h1M962 261.5h1M966 261.5h1M967 261.5h1M970 260.5h1M971 261.5h1M975 259.5h1M981 261.5h1M982 261.5h1M985 259.5h1M990 260.5h1M991 261.5h1M1004 261.5h1M1004 262.5h1M1023 259.5h1M1024 258.5h1M1039 259.5h1M1042 261.5h1M754 263.5h1M755 262.5h1M759 263.5h1M760 262.5h1M760 262.5h1M761 263.5h1M767 262.5h1M768 263.5h1M773 264.5h1M774 264.5h1M775 264.5h1M785 262.5h1M788 262.5h1M797 264.5h1M798 264.5h1M804 263.5h1M805 264.5h1M818 262.5h1M818 263.5h1M823 264.5h1M824 264.5h1M826 263.5h1M827 264.5h1M829 263.5h1M830 263.5h1M831 262.5h1M846 264.5h1M874 263.5h1M874 264.5h1M916 263.5h1M917 264.5h1M922 262.5h1M923 263.5h1M924 264.5h1M934 263.5h1M935 263.5h1M946 263.5h1M947 263.5h1M961 263.5h1M962 264.5h1M975 263.5h1M976 264.5h1M983 264.5h1M984 263.5h1M991 262.5h1M993 264.5h1M994 265.5h1M996 264.5h1M1016 264.5h1M1021 262.5h1M1028 263.5h1M1029 264.5h1M1033 262.5h1M1036 263.5h1M1037 262.5h1M1040 263.5h1M763 265.5h1M765 265.5h1M774 265.5h1M811 265.5h1M831 265.5h1M849 265.5h1M850 264.5h1M854 265.5h1M925 265.5h1M942 265.5h1M946 265.5h1M964 265.5h1M965 264.5h1M972 265.5h1M994 265.5h1M1007 265.5h1" stroke="#9c9c9c" fill="none"/>
<path d="M763 215.5h1M764 215.5h1M765 214.5h1M778 214.5h1M785 215.5h1M790 216.5h1M791 217.5h1M799 214.5h1M819 216.5h1M822 216.5h1M837 215.5h1M849 215.5h1M850 215.5h1M855 215.5h1M867 214.5h1M920 214.5h1M921 214.5h1M925 214.5h1M931 215.5h1M932 216.5h1M933 216.5h1M934 215.5h1M949 215.5h1M950 216.5h1M959 215.5h1M960 216.5h1M962 216.5h1M962 217.5h1M963 217.5h1M964 216.5h1M964 217.5h1M965 216.5h1M979 214.5h1M979 215.5h1M981 216.5h1M982 217.5h1M984 214.5h1M985 215.5h1M1003 216.5h1M1004 215.5h1M1013 215.5h1M1014 216.5h1M1020 215.5h1M1024 214.5h1M1034 216.5h1M1035 216.5h1M1036 216.5h1M1041 216.5h1M1042 215.5h1M751 218.5h1M752 217.5h1M756 219.5h1M757 218.5h1M763 217.5h1M769 219.5h1M770 218.5h1M812 217.5h1M813 217.5h1M817 218.5h1M834 217.5h1M835 216.5h1M846 219.5h1M847 220.5h1M848 220.5h1M855 219.5h1M856 220.5h1M858 218.5h1M859 219.5h1M865 219.5h1M866 220.5h1M920 218.5h1M920 219.5h1M925 217.5h1M945 217.5h1M946 218.5h1M949 217.5h1M952 217.5h1M952 218.5h1M966 218.5h1M967 219.5h1M972 217.5h1M982 218.5h1M983 217.5h1M984 217.5h1M1001 219.5h1M1002 220.5h1M1014 219.5h1M1025 217.5h1M1026 217.5h1M1029 218.5h1M1030 219.5h1M1031 219.5h1M1034 219.5h1M748 221.5h1M749 220.5h1M761 220.5h1M762 221.5h1M776 222.5h1M777 221.5h1M782 221.5h1M784 220.5h1M785 220.5h1M790 221.5h1M795 222.5h1M796 222.5h1M811 222.5h1M832 221.5h1M833 220.5h1M849 221.5h1M850 220.5h1M851 219.5h1M855 220.5h1M859 220.5h1M859 221.5h1M860 221.5h1M916 222.5h1M917 222.5h1M918 221.5h1M926 221.5h1M927 221.5h1M928 222.5h1M936 222.5h1M940 221.5h1M941 222.5h1M948 222.5h1M949 221.5h1M952 221.5h1M953 222.5h1M961 222.5h1M971 220.5h1M972 220.5h1M985 222.5h1M986 222.5h1M993 221.5h1M994 221.5h1M1001 221.5h1M1001 222.5h1M1018 222.5h1M1019 222.5h1M1029 222.5h1M1029 223.5h1M1034 221.5h1M1035 220.5h1M752 224.5h1M788 223.5h1M789 224.5h1M811 225.5h1M811 226.5h1M812 225.5h1M814 225.5h1M824 225.5h1M824 226.5h1M851 225.5h1M852 226.5h1M852 224.5h1M853 224.5h1M864 225.5h1M869 223.5h1M917 225.5h1M947 223.5h1M948 224.5h1M948 225.5h1M953 223.5h1M954 223.5h1M980 223.5h1M981 224.5h1M992 223.5h1M993 222.5h1M997 225.5h1M997 226.5h1M1000 223.5h1M1001 222.5h1M1008 225.5h1M1009 224.5h1M1020 223.5h1M1021 222.5h1M1024 223.5h1M1024 224.5h1M1035 225.5h1M1037 225.5h1M1038 224.5h1M749 227.5h1M750 227.5h1M755 227.5h1M776 228.5h1M781 227.5h1M782 228.5h1M804 226.5h1M809 227.5h1M810 228.5h1M813 227.5h1M814 228.5h1M816 228.5h1M817 228.5h1M840 228.5h1M841 227.5h1M848 228.5h1M849 228.5h1M858 226.5h1M860 226.5h1M860 227.5h1M867 228.5h1M868 228.5h1M868 228.5h1M919 227.5h1M922 226.5h1M923 225.5h1M935 226.5h1M936 227.5h1M940 227.5h1M941 226.5h1M953 227.5h1M956 227.5h1M957 226.5h1M982 227.5h1M983 228.5h1M984 227.5h1M986 226.5h1M997 228.5h1M998 229.5h1M1027 228.5h1M1028 227.5h1M758 230.5h1M766 230.5h1M774 229.5h1M775 228.5h1M803 231.5h1M805 231.5h1M805 232.5h1M811 230.5h1M825 229.5h1M831 231.5h1M832 232.5h1M832 229.5h1M838 229.5h1M844 231.5h1M845 230.5h1M855 230.5h1M858 230.5h1M861 231.5h1M862 230.5h1M917 229.5h1M918 229.5h1M920 231.5h1M936 230.5h1M937 229.5h1M957 229.5h1M958 230.5h1M983 231.5h1M986 229.5h1M987 230.5h1M1019 230.5h1M1019 231.5h1M1025 229.5h1M1026 228.5h1M1039 230.5h1M1040 231.5h1M1041 230.5h1M1041 230.5h1M751 232.5h1M762 232.5h1M763 232.5h1M765 234.5h1M778 233.5h1M779 232.5h1M788 234.5h1M789 233.5h1M790 232.5h1M799 232.5h1M800 231.5h1M802 232.5h1M803 233.5h1M806 233.5h1M809 232.5h1M822 234.5h1M833 232.5h1M837 234.5h1M838 233.5h1M846 233.5h1M847 233.5h1M850 234.5h1M850 235.5h1M855 233.5h1M856 234.5h1M857 234.5h1M863 233.5h1M865 233.5h1M866 234.5h1M874 234.5h1M917 232.5h1M918 231.5h1M931 234.5h1M932 234.5h1M932 235.5h1M945 234.5h1M946 234.5h1M947 235.5h1M969 233.5h1M970 234.5h1M979 234.5h1M982 232.5h1M983 233.5h1M984 232.5h1M1013 232.5h1M1014 233.5h1M1039 234.5h1M1040 233.5h1M1041 233.5h1M754 237.5h1M765 237.5h1M766 238.5h1M786 236.5h1M787 236.5h1M790 237.5h1M794 237.5h1M806 236.5h1M809 236.5h1M810 237.5h1M813 236.5h1M813 237.5h1M823 235.5h1M824 234.5h1M829 235.5h1M832 235.5h1M833 236.5h1M859 237.5h1M863 236.5h1M863 237.5h1M865 236.5h1M871 235.5h1M872 236.5h1M873 237.5h1M936 235.5h1M936 236.5h1M948 237.5h1M949 238.5h1M955 237.5h1M956 238.5h1M968 237.5h1M969 238.5h1M978 237.5h1M991 235.5h1M998 236.5h1M999 237.5h1M1002 236.5h1M1009 235.5h1M1009 236.5h1M1026 237.5h1M1027 236.5h1M1030 235.5h1M1030 236.5h1M748 238.5h1M757 238.5h1M766 239.5h1M767 238.5h1M777 238.5h1M778 239.5h1M779 240.5h1M790 239.5h1M791 240.5h1M815 240.5h1M818 240.5h1M819 240.5h1M820 241.5h1M820 238.5h1M826 240.5h1M827 241.5h1M828 242.5h1M836 238.5h1M837 239.5h1M848 238.5h1M849 238.5h1M858 240.5h1M859 241.5h1M921 239.5h1M937 238.5h1M938 237.5h1M940 239.5h1M957 238.5h1M960 240.5h1M960 241.5h1M979 238.5h1M995 239.5h1M999 238.5h1M1000 239.5h1M1019 240.5h1M1020 241.5h1M758 243.5h1M766 243.5h1M767 244.5h1M769 241.5h1M774 241.5h1M775 242.5h1M795 243.5h1M796 244.5h1M798 243.5h1M805 241.5h1M816 242.5h1M821 241.5h1M822 241.5h1M827 242.5h1M830 241.5h1M831 240.5h1M845 241.5h1M850 241.5h1M864 241.5h1M869 241.5h1M915 243.5h1M916 244.5h1M918 243.5h1M919 244.5h1M924 242.5h1M931 241.5h1M932 242.5h1M938 243.5h1M939 244.5h1M941 242.5h1M941 243.5h1M951 243.5h1M970 241.5h1M971 240.5h1M975 241.5h1M976 240.5h1M980 242.5h1M993 243.5h1M994 244.5h1M1014 243.5h1M1016 242.5h1M1016 243.5h1M1025 241.5h1M1039 241.5h1M753 244.5h1M764 244.5h1M765 245.5h1M770 246.5h1M771 247.5h1M777 245.5h1M789 245.5h1M799 245.5h1M800 246.5h1M803 245.5h1M803 246.5h1M813 244.5h1M813 245.5h1M821 246.5h1M826 244.5h1M827 243.5h1M832 244.5h1M833 243.5h1M869 244.5h1M915 244.5h1M960 244.5h1M961 245.5h1M967 246.5h1M968 247.5h1M969 244.5h1M987 244.5h1M987 245.5h1M991 244.5h1M992 245.5h1M993 245.5h1M997 245.5h1M1010 244.5h1M1013 246.5h1M1014 246.5h1M1016 245.5h1M1017 244.5h1M1031 244.5h1M1033 245.5h1M1034 246.5h1M755 247.5h1M756 246.5h1M770 247.5h1M781 248.5h1M782 247.5h1M785 248.5h1M794 247.5h1M795 247.5h1M796 249.5h1M800 247.5h1M801 247.5h1M804 248.5h1M804 249.5h1M809 247.5h1M810 248.5h1M813 248.5h1M814 247.5h1M828 249.5h1M829 248.5h1M843 247.5h1M915 250.5h1M927 249.5h1M934 249.5h1M934 250.5h1M939 248.5h1M947 249.5h1M948 248.5h1M948 247.5h1M949 248.5h1M950 249.5h1M952 247.5h1M952 248.5h1M958 249.5h1M959 250.5h1M971 248.5h1M977 247.5h1M983 249.5h1M999 249.5h1M1000 250.5h1M1013 249.5h1M1020 247.5h1M1027 248.5h1M1028 249.5h1M1029 250.5h1M1031 248.5h1M1032 248.5h1M1035 248.5h1M1036 249.5h1M759 250.5h1M771 250.5h1M772 249.5h1M783 252.5h1M805 252.5h1M806 251.5h1M818 252.5h1M819 253.5h1M820 251.5h1M820 252.5h1M821 252.5h1M824 251.5h1M825 250.5h1M830 252.5h1M831 253.5h1M836 251.5h1M842 250.5h1M843 249.5h1M846 250.5h1M855 250.5h1M856 249.5h1M857 249.5h1M929 251.5h1M938 250.5h1M947 251.5h1M948 252.5h1M951 250.5h1M952 249.5h1M960 252.5h1M976 251.5h1M982 251.5h1M983 250.5h1M988 252.5h1M989 253.5h1M999 250.5h1M1000 251.5h1M1001 252.5h1M1002 253.5h1M1011 251.5h1M1011 252.5h1M1018 251.5h1M1018 252.5h1M1042 251.5h1M755 254.5h1M757 253.5h1M760 254.5h1M776 255.5h1M777 255.5h1M784 254.5h1M785 254.5h1M790 254.5h1M791 255.5h1M795 254.5h1M801 254.5h1M802 255.5h1M805 254.5h1M806 253.5h1M808 254.5h1M814 255.5h1M818 255.5h1M827 254.5h1M836 253.5h1M837 254.5h1M842 255.5h1M843 256.5h1M848 254.5h1M849 255.5h1M863 254.5h1M864 254.5h1M866 253.5h1M867 254.5h1M869 254.5h1M932 254.5h1M933 255.5h1M936 253.5h1M943 254.5h1M945 255.5h1M948 255.5h1M949 255.5h1M969 254.5h1M970 253.5h1M974 255.5h1M974 256.5h1M975 255.5h1M980 253.5h1M980 254.5h1M1006 254.5h1M1011 254.5h1M1012 253.5h1M1038 253.5h1M748 257.5h1M754 258.5h1M755 257.5h1M767 257.5h1M768 258.5h1M769 258.5h1M770 257.5h1M782 256.5h1M782 257.5h1M788 258.5h1M789 258.5h1M812 256.5h1M813 256.5h1M816 256.5h1M833 257.5h1M834 256.5h1M843 256.5h1M844 256.5h1M847 256.5h1M848 256.5h1M850 257.5h1M851 258.5h1M859 258.5h1M870 258.5h1M931 256.5h1M944 256.5h1M945 255.5h1M952 256.5h1M953 257.5h1M963 257.5h1M964 256.5h1M966 258.5h1M973 257.5h1M974 256.5h1M990 258.5h1M991 258.5h1M1001 256.5h1M1008 256.5h1M1020 257.5h1M1030 256.5h1M1039 256.5h1M755 260.5h1M765 261.5h1M769 260.5h1M770 261.5h1M777 260.5h1M778 261.5h1M783 261.5h1M789 261.5h1M790 260.5h1M795 260.5h1M796 259.5h1M801 260.5h1M806 260.5h1M807 259.5h1M808 258.5h1M808 261.5h1M815 261.5h1M840 260.5h1M862 259.5h1M866 261.5h1M867 262.5h1M919 261.5h1M925 261.5h1M926 261.5h1M936 261.5h1M936 262.5h1M941 261.5h1M978 261.5h1M979 260.5h1M995 259.5h1M996 259.5h1M997 260.5h1M1002 261.5h1M1003 260.5h1M1004 261.5h1M1008 261.5h1M1009 262.5h1M1013 259.5h1M1027 261.5h1M1028 262.5h1M1029 260.5h1M1030 261.5h1M1033 259.5h1M780 263.5h1M781 262.5h1M793 263.5h1M802 262.5h1M811 263.5h1M812 264.5h1M814 262.5h1M815 261.5h1M848 264.5h1M858 262.5h1M866 262.5h1M867 261.5h1M869 262.5h1M870 261.5h1M871 261.5h1M915 265.5h1M927 262.5h1M927 263.5h1M930 262.5h1M938 263.5h1M939 262.5h1M954 262.5h1M955 263.5h1M958 262.5h1M959 263.5h1M965 264.5h1M966 264.5h1M970 264.5h1M971 263.5h1M978 264.5h1M979 265.5h1M1003 263.5h1M1004 263.5h1M1013 264.5h1M1014 264.5h1M1026 264.5h1M1027 263.5h1M749 265.5h1M754 265.5h1M803 265.5h1M806 265.5h1M814 265.5h1M856 265.5h1M958 265.5h1M984 265.5h1M1023 265.5h1" stroke="#a8a8a8" fill="none"/>
<path d="M849 106.5H865M849 132.5H865M849.5 106V133M864.5 106V133M849 131.5H865M849 112.5H865M849 113.5H865M850 107.5H864M850 131.5H864M850.5 107V132M863.5 107V132M849 130.5H865M851.5 130.5L857.0 114.5L862.5 130.5M879 106.5H912M879 132.5H912M879.5 106V133M911.5 106V133M880 107.5H911M880 131.5H911M880.5 107V132M910.5 107V132M879 130.5H912M879 112.5H912M879 113.5H912M888.5 106V133M889.5 106V133M901.5 106V133M902.5 106V133M889 124.5H902M889 125.5H902M889 126.5H902M887.5 115.5L881.5 124L887.5 130.5M903.5 115.5L909.5 123L903.5 130.5M891 123.5L895.5 114.5L900 123.5M926 106.5H942M926 132.5H942M926.5 106V133M941.5 106V133M926 131.5H942M926 112.5H942M926 113.5H942M927 107.5H941M927 131.5H941M927.5 107V132M940.5 107V132M926 130.5H942M928.5 130.5L934.0 114.5L939.5 130.5M849 160.5H865M849 186.5H865M849.5 160V187M864.5 160V187M849 185.5H865M849 166.5H865M849 167.5H865M850 161.5H864M850 185.5H864M850.5 161V186M863.5 161V186M849 184.5H865M851.5 184.5L857.0 168.5L862.5 184.5M879 160.5H912M879 186.5H912M879.5 160V187M911.5 160V187M880 161.5H911M880 185.5H911M880.5 161V186M910.5 161V186M879 184.5H912M879 166.5H912M879 167.5H912M888.5 160V187M889.5 160V187M901.5 160V187M902.5 160V187M889 178.5H902M889 179.5H902M889 180.5H902M887.5 169.5L881.5 178L887.5 184.5M903.5 169.5L909.5 177L903.5 184.5M891 177.5L895.5 168.5L900 177.5M926 160.5H942M926 186.5H942M926.5 160V187M941.5 160V187M926 185.5H942M926 166.5H942M926 167.5H942M927 161.5H941M927 185.5H941M927.5 161V186M940.5 161V186M926 184.5H942M928.5 184.5L934.0 168.5L939.5 184.5M879 220.5H912M879 259.5H912M879.5 220V260M911.5 220V260M880 221.5H912M880 258.5H912M880.5 221V259M911.5 221V259M879 258.5H912M895.5 220V260M881.5 240.5L894.5 222.5M881.5 240.5L894.5 257.5M910 239.5L896.5 222.5M910 239.5L896.5 257.5" stroke="#00ffff" stroke-width="1" fill="none"/>
<path d="M875 207.5H915M875 209.5H915M875.5 207V210M914.5 207V210M1043 207.5H1076M1043 209.5H1076" stroke="#0000ff" stroke-width="1" fill="none"/>
<path d="M895.5 21V172M829 21.5H896M901 54.5H948M901.5 54V265M898.5 257V265M887 202.5H906M888.5 202.5L892.5 206.5L896.5 202.5M1050 202.5H1069M1051.5 202.5L1055.5 207.5L1060 202.5M716.5 38V267M703.5 44V267M1074.5 38V267M1087.5 44V267M713 38.5H728M1063 38.5H1078M717 39.5h1M715 37.5h1M1075 39.5h1M1073 37.5h1M713 64.5H728M1063 64.5H1078M717 65.5h1M715 63.5h1M1075 65.5h1M1073 63.5h1M713 106.5H728M1063 106.5H1078M717 107.5h1M715 105.5h1M1075 107.5h1M1073 105.5h1M713 132.5H728M1063 132.5H1078M717 133.5h1M715 131.5h1M1075 133.5h1M1073 131.5h1M713 160.5H728M1063 160.5H1078M717 161.5h1M715 159.5h1M1075 161.5h1M1073 159.5h1M713 186.5H728M1063 186.5H1078M717 187.5h1M715 185.5h1M1075 187.5h1M1073 185.5h1M713 213.5H728M1063 213.5H1078M717 214.5h1M715 212.5h1M1075 214.5h1M1073 212.5h1M713 220.5H728M1063 220.5H1078M717 221.5h1M715 219.5h1M1075 221.5h1M1073 219.5h1M684 44.5H728M1063 44.5H1108M704 45.5h1M702 43.5h1M717 45.5h1M715 43.5h1M1075 45.5h1M1073 43.5h1M1088 45.5h1M1086 43.5h1M684 93.5H728M1063 93.5H1108M704 94.5h1M702 92.5h1M717 94.5h1M715 92.5h1M1075 94.5h1M1073 92.5h1M1088 94.5h1M1086 92.5h1M684 147.5H728M1063 147.5H1108M704 148.5h1M702 146.5h1M717 148.5h1M715 146.5h1M1075 148.5h1M1073 146.5h1M1088 148.5h1M1086 146.5h1M684 200.5H728M1063 200.5H1108M704 201.5h1M702 199.5h1M717 201.5h1M715 199.5h1M1075 201.5h1M1073 199.5h1M1088 201.5h1M1086 199.5h1M684 259.5H728M1063 259.5H1108M704 260.5h1M702 258.5h1M717 260.5h1M715 258.5h1M1075 260.5h1M1073 258.5h1M1088 260.5h1M1086 258.5h1M684 266.5H728M1063 266.5H1108M675 39.5H693M683.0 39.5L688.0 44.5L693.0 39.5M1098 39.5H1116M1098.5 39.5L1103.5 44.5L1108.0 39.5M675 88.5H693M683.0 88.5L688.0 93.5L693.0 88.5M1098 88.5H1116M1098.5 88.5L1103.5 93.5L1108.0 88.5M675 142.5H693M683.0 142.5L688.0 147.5L693.0 142.5M1098 142.5H1116M1098.5 142.5L1103.5 147.5L1108.0 142.5M675 196.5H693M683.0 196.5L688.0 200.5L693.0 196.5M1098 196.5H1116M1098.5 196.5L1103.5 200.5L1108.0 196.5M675 254.5H693M683.0 254.5L688.0 259.5L693.0 254.5M1098 254.5H1116M1098.5 254.5L1103.5 259.5L1108.0 254.5M675 271.5H693M683.0 271.5L688.0 266.5L693.0 271.5M1098 271.5H1116M1098.5 271.5L1103.5 266.5L1108.0 271.5M749.5 276V341M788.5 276V341M875.5 276V341M914.5 276V341M1002.5 276V341M1041.5 276V341M749 316.5H1042M749 329.5H1042M870 379.5H932" stroke="#00ff00" stroke-width="1" fill="none"/>
<path d="M831.5 14V17M831.5 18V19M832.5 14V16M833.5 14V17M834.5 15V17M835.5 13V20M837.5 15V19M838.5 14V19M839.5 14V17M839.5 18V20M840.5 13V14M840.5 19V20M841.5 13V14M841.5 19V20M842.5 14V20M843.5 14V19M845.5 14V20M846.5 13V14M846.5 16V17M847.5 15V16M847.5 18V20M848.5 14V16M848.5 17V19M850.5 15V20M851.5 14V17M852.5 14V19M854.5 13V20M855.5 13V15M855.5 16V20M856.5 14V15M856.5 16V17M857.5 13V20M859.5 15V16M859.5 17V20M860.5 15V16M860.5 17V18M861.5 13V16M861.5 17V19M862.5 13V14M862.5 18V19M864.5 15V18M865.5 13V20M866.5 15V16M867.5 14V15M867.5 16V17M869.5 13V18M870.5 14V18M870.5 19V20M871.5 15V16M871.5 17V18M872.5 13V14M872.5 16V17M874.5 15V16M874.5 17V18M874.5 19V20M875.5 13V14M875.5 18V19M876.5 14V15M876.5 17V19M878.5 13V14M878.5 17V18M879.5 17V18M879.5 19V20M880.5 14V20M881.5 13V18M888 15.5h1M830.5 26V31M831.5 25V29M832.5 26V29M832.5 30V31M833.5 25V26M833.5 27V31M834.5 29V31M836.5 24V31M837.5 26V31M838.5 25V30M839.5 24V28M840.5 24V29M841.5 26V28M841.5 29V30M842.5 24V30M843.5 25V27M844.5 25V28M844.5 29V30M845.5 24V30M846.5 26V31M847.5 24V25M847.5 26V27M848.5 25V26M848.5 27V31M849.5 25V27M849.5 28V31M850.5 25V27M850.5 28V31M851.5 25V30M852.5 26V30M853.5 24V31M855.5 26V27M855.5 30V31M856.5 25V30M857.5 25V26M857.5 27V30M859.5 27V31M860.5 26V29M861.5 26V28M862.5 24V31M863.5 25V27M863.5 28V30M864.5 27V29M865.5 25V29M866.5 24V31M868.5 27V31M869.5 26V28M869.5 29V30M870.5 26V30M871.5 27V31M905.5 46V47M905.5 48V52M906.5 46V52M907.5 46V52M908.5 48V50M910.5 47V52M911.5 49V50M912.5 47V50M912.5 51V52M913.5 47V50M915.5 47V52M916.5 47V48M916.5 49V50M916.5 51V52M917.5 46V47M917.5 48V50M918.5 47V52M919.5 47V51M920.5 47V52M921.5 47V51M922.5 48V50M923.5 47V50M923.5 51V52M924.5 48V52M925.5 46V50M926.5 46V50M927.5 49V52M928.5 46V48M928.5 49V51M929.5 47V49M917.5 58V61M918.5 56V59M918.5 60V61M919.5 57V61M921.5 61V62M922.5 57V62M923.5 57V58M923.5 59V60M924.5 61V62M925.5 56V57M925.5 58V61M926.5 59V60M926.5 61V62M927.5 57V58M927.5 61V62M928.5 59V60M928.5 61V62M937 48.5H939M937 49.5H938M937 50.5H939M938 51.5H939M937 52.5H939M937 56.5H939M938 57.5H939M937 58.5H939M938 59.5H939M937 60.5H939M891 196.5H893M894 196.5H896M897 196.5H898M899 196.5H900M892 197.5H893M895 197.5H900M891 198.5H893M894 198.5H900M892 199.5H893M895 199.5H900M891 200.5H897M898 200.5H899M1055 196.5H1057M1058 196.5H1060M1061 196.5H1062M1063 196.5H1064M1056 197.5H1057M1059 197.5H1064M1055 198.5H1057M1058 198.5H1064M1056 199.5H1057M1059 199.5H1064M1055 200.5H1061M1062 200.5H1063M678 34.5H679M680 34.5H681M683 34.5H685M686 34.5H687M688 34.5H689M678 35.5H679M680 35.5H681M684 35.5H689M678 36.5H679M680 36.5H681M683 36.5H689M678 37.5H679M680 37.5H681M683 37.5H684M685 37.5H689M678 38.5H679M680 38.5H681M682 38.5H686M687 38.5H688M1099 34.5H1100M1101 34.5H1102M1104 34.5H1106M1107 34.5H1108M1109 34.5H1110M1099 35.5H1100M1101 35.5H1102M1105 35.5H1110M1099 36.5H1100M1101 36.5H1102M1104 36.5H1110M1099 37.5H1100M1101 37.5H1102M1104 37.5H1105M1106 37.5H1110M1099 38.5H1100M1101 38.5H1102M1103 38.5H1107M1108 38.5H1109M678 83.5H680M681 83.5H683M684 83.5H685M686 83.5H687M678 84.5H680M682 84.5H687M679 85.5H680M681 85.5H687M678 86.5H680M681 86.5H682M683 86.5H687M678 87.5H684M685 87.5H686M1099 83.5H1101M1102 83.5H1104M1105 83.5H1106M1107 83.5H1108M1099 84.5H1101M1103 84.5H1108M1100 85.5H1101M1102 85.5H1108M1099 86.5H1101M1102 86.5H1103M1104 86.5H1108M1099 87.5H1105M1106 87.5H1107M678 137.5H680M681 137.5H683M684 137.5H685M686 137.5H687M678 138.5H679M681 138.5H687M678 139.5H680M681 139.5H687M679 140.5H680M682 140.5H687M678 141.5H684M685 141.5H686M1099 137.5H1101M1102 137.5H1104M1105 137.5H1106M1107 137.5H1108M1099 138.5H1100M1102 138.5H1108M1099 139.5H1101M1102 139.5H1108M1100 140.5H1101M1103 140.5H1108M1099 141.5H1105M1106 141.5H1107M678 190.5H680M681 190.5H683M684 190.5H685M686 190.5H687M679 191.5H680M681 191.5H682M683 191.5H687M678 192.5H680M681 192.5H687M679 193.5H680M681 193.5H687M678 194.5H684M685 194.5H686M1099 190.5H1101M1102 190.5H1104M1105 190.5H1106M1107 190.5H1108M1100 191.5H1101M1102 191.5H1103M1104 191.5H1108M1099 192.5H1101M1102 192.5H1108M1100 193.5H1101M1102 193.5H1108M1099 194.5H1105M1106 194.5H1107M679 249.5H680M681 249.5H682M684 249.5H685M686 249.5H687M688 249.5H689M678 250.5H682M683 250.5H689M679 251.5H682M683 251.5H689M680 252.5H682M683 252.5H689M678 253.5H681M682 253.5H684M685 253.5H686M687 253.5H688M1100 249.5H1101M1102 249.5H1103M1105 249.5H1106M1107 249.5H1108M1109 249.5H1110M1099 250.5H1103M1104 250.5H1110M1100 251.5H1103M1104 251.5H1110M1101 252.5H1103M1104 252.5H1110M1099 253.5H1102M1103 253.5H1105M1106 253.5H1107M1108 253.5H1109M681 275.5H682M683 275.5H684M685 275.5H687M688 275.5H689M680 276.5H682M683 276.5H686M687 276.5H689M678 277.5H682M683 277.5H689M680 278.5H682M684 278.5H685M686 278.5H689M680 279.5H681M682 279.5H683M684 279.5H688M1101 275.5H1102M1103 275.5H1104M1105 275.5H1107M1108 275.5H1109M1100 276.5H1102M1103 276.5H1106M1107 276.5H1109M1098 277.5H1102M1103 277.5H1109M1100 278.5H1102M1104 278.5H1105M1106 278.5H1109M1100 279.5H1101M1102 279.5H1103M1104 279.5H1108M710 35.5h1M710 34.5h1M710 32.5h1M710 30.5h1M711 35.5h1M711 33.5h1M711 32.5h1M711 31.5h1M711 30.5h1M712 35.5h1M712 34.5h1M712 33.5h1M712 32.5h1M712 31.5h1M712 30.5h1M713 34.5h1M713 33.5h1M713 32.5h1M713 31.5h1M713 30.5h1M714 35.5h1M714 34.5h1M714 33.5h1M714 31.5h1M1068 35.5h1M1068 34.5h1M1068 32.5h1M1068 30.5h1M1069 35.5h1M1069 33.5h1M1069 32.5h1M1069 31.5h1M1069 30.5h1M1070 35.5h1M1070 34.5h1M1070 33.5h1M1070 32.5h1M1070 31.5h1M1070 30.5h1M1071 34.5h1M1071 33.5h1M1071 32.5h1M1071 31.5h1M1071 30.5h1M1072 35.5h1M1072 34.5h1M1072 33.5h1M1072 31.5h1M710 58.5h1M710 56.5h1M710 55.5h1M710 53.5h1M710 51.5h1M711 58.5h1M711 56.5h1M711 54.5h1M711 53.5h1M711 52.5h1M711 51.5h1M712 58.5h1M712 56.5h1M712 55.5h1M712 54.5h1M712 53.5h1M712 52.5h1M712 51.5h1M713 58.5h1M713 55.5h1M713 54.5h1M713 53.5h1M713 52.5h1M713 51.5h1M714 58.5h1M714 56.5h1M714 55.5h1M714 54.5h1M714 52.5h1M1068 58.5h1M1068 56.5h1M1068 55.5h1M1068 53.5h1M1068 51.5h1M1069 58.5h1M1069 56.5h1M1069 54.5h1M1069 53.5h1M1069 52.5h1M1069 51.5h1M1070 58.5h1M1070 56.5h1M1070 55.5h1M1070 54.5h1M1070 53.5h1M1070 52.5h1M1070 51.5h1M1071 58.5h1M1071 55.5h1M1071 54.5h1M1071 53.5h1M1071 52.5h1M1071 51.5h1M1072 58.5h1M1072 56.5h1M1072 55.5h1M1072 54.5h1M1072 52.5h1M710 82.5h1M710 81.5h1M710 80.5h1M710 77.5h1M710 75.5h1M711 81.5h1M711 80.5h1M711 79.5h1M711 78.5h1M711 77.5h1M711 76.5h1M711 75.5h1M712 82.5h1M712 81.5h1M712 80.5h1M712 79.5h1M712 78.5h1M712 77.5h1M712 76.5h1M712 75.5h1M713 82.5h1M713 79.5h1M713 78.5h1M713 77.5h1M713 76.5h1M713 75.5h1M714 82.5h1M714 81.5h1M714 79.5h1M714 78.5h1M714 76.5h1M1068 82.5h1M1068 81.5h1M1068 80.5h1M1068 77.5h1M1068 75.5h1M1069 81.5h1M1069 80.5h1M1069 79.5h1M1069 78.5h1M1069 77.5h1M1069 76.5h1M1069 75.5h1M1070 82.5h1M1070 81.5h1M1070 80.5h1M1070 79.5h1M1070 78.5h1M1070 77.5h1M1070 76.5h1M1070 75.5h1M1071 82.5h1M1071 79.5h1M1071 78.5h1M1071 77.5h1M1071 76.5h1M1071 75.5h1M1072 82.5h1M1072 81.5h1M1072 79.5h1M1072 78.5h1M1072 76.5h1M710 103.5h1M710 102.5h1M710 100.5h1M710 98.5h1M711 103.5h1M711 102.5h1M711 101.5h1M711 100.5h1M711 99.5h1M711 98.5h1M712 103.5h1M712 102.5h1M712 101.5h1M712 100.5h1M712 99.5h1M712 98.5h1M713 102.5h1M713 101.5h1M713 100.5h1M713 99.5h1M713 98.5h1M714 103.5h1M714 102.5h1M714 101.5h1M714 99.5h1M1068 103.5h1M1068 102.5h1M1068 100.5h1M1068 98.5h1M1069 103.5h1M1069 102.5h1M1069 101.5h1M1069 100.5h1M1069 99.5h1M1069 98.5h1M1070 103.5h1M1070 102.5h1M1070 101.5h1M1070 100.5h1M1070 99.5h1M1070 98.5h1M1071 102.5h1M1071 101.5h1M1071 100.5h1M1071 99.5h1M1071 98.5h1M1072 103.5h1M1072 102.5h1M1072 101.5h1M1072 99.5h1M710 124.5h1M710 122.5h1M710 121.5h1M710 119.5h1M710 117.5h1M711 124.5h1M711 122.5h1M711 121.5h1M711 120.5h1M711 119.5h1M711 118.5h1M711 117.5h1M712 124.5h1M712 121.5h1M712 120.5h1M712 119.5h1M712 118.5h1M712 117.5h1M713 124.5h1M713 122.5h1M713 121.5h1M713 120.5h1M713 119.5h1M713 118.5h1M713 117.5h1M714 124.5h1M714 122.5h1M714 121.5h1M714 120.5h1M714 118.5h1M1068 124.5h1M1068 122.5h1M1068 121.5h1M1068 119.5h1M1068 117.5h1M1069 124.5h1M1069 122.5h1M1069 121.5h1M1069 120.5h1M1069 119.5h1M1069 118.5h1M1069 117.5h1M1070 124.5h1M1070 121.5h1M1070 120.5h1M1070 119.5h1M1070 118.5h1M1070 117.5h1M1071 124.5h1M1071 122.5h1M1071 121.5h1M1071 120.5h1M1071 119.5h1M1071 118.5h1M1071 117.5h1M1072 124.5h1M1072 122.5h1M1072 121.5h1M1072 120.5h1M1072 118.5h1M710 143.5h1M710 142.5h1M710 140.5h1M710 138.5h1M711 143.5h1M711 142.5h1M711 141.5h1M711 140.5h1M711 139.5h1M711 138.5h1M712 143.5h1M712 142.5h1M712 141.5h1M712 140.5h1M712 139.5h1M712 138.5h1M713 142.5h1M713 141.5h1M713 140.5h1M713 139.5h1M713 138.5h1M714 143.5h1M714 142.5h1M714 141.5h1M714 139.5h1M1068 143.5h1M1068 142.5h1M1068 140.5h1M1068 138.5h1M1069 143.5h1M1069 142.5h1M1069 141.5h1M1069 140.5h1M1069 139.5h1M1069 138.5h1M1070 143.5h1M1070 142.5h1M1070 141.5h1M1070 140.5h1M1070 139.5h1M1070 138.5h1M1071 142.5h1M1071 141.5h1M1071 140.5h1M1071 139.5h1M1071 138.5h1M1072 143.5h1M1072 142.5h1M1072 141.5h1M1072 139.5h1M710 157.5h1M710 156.5h1M710 154.5h1M710 152.5h1M711 157.5h1M711 156.5h1M711 155.5h1M711 154.5h1M711 153.5h1M711 152.5h1M712 157.5h1M712 156.5h1M712 155.5h1M712 154.5h1M712 153.5h1M712 152.5h1M713 156.5h1M713 155.5h1M713 154.5h1M713 153.5h1M713 152.5h1M714 157.5h1M714 156.5h1M714 155.5h1M714 153.5h1M1068 157.5h1M1068 156.5h1M1068 154.5h1M1068 152.5h1M1069 157.5h1M1069 156.5h1M1069 155.5h1M1069 154.5h1M1069 153.5h1M1069 152.5h1M1070 157.5h1M1070 156.5h1M1070 155.5h1M1070 154.5h1M1070 153.5h1M1070 152.5h1M1071 156.5h1M1071 155.5h1M1071 154.5h1M1071 153.5h1M1071 152.5h1M1072 157.5h1M1072 156.5h1M1072 155.5h1M1072 153.5h1M710 178.5h1M710 176.5h1M710 175.5h1M710 173.5h1M710 171.5h1M711 178.5h1M711 176.5h1M711 175.5h1M711 174.5h1M711 173.5h1M711 172.5h1M711 171.5h1M712 178.5h1M712 175.5h1M712 174.5h1M712 173.5h1M712 172.5h1M712 171.5h1M713 178.5h1M713 176.5h1M713 175.5h1M713 174.5h1M713 173.5h1M713 172.5h1M713 171.5h1M714 178.5h1M714 176.5h1M714 175.5h1M714 174.5h1M714 172.5h1M1068 178.5h1M1068 176.5h1M1068 175.5h1M1068 173.5h1M1068 171.5h1M1069 178.5h1M1069 176.5h1M1069 175.5h1M1069 174.5h1M1069 173.5h1M1069 172.5h1M1069 171.5h1M1070 178.5h1M1070 175.5h1M1070 174.5h1M1070 173.5h1M1070 172.5h1M1070 171.5h1M1071 178.5h1M1071 176.5h1M1071 175.5h1M1071 174.5h1M1071 173.5h1M1071 172.5h1M1071 171.5h1M1072 178.5h1M1072 176.5h1M1072 175.5h1M1072 174.5h1M1072 172.5h1M710 196.5h1M710 195.5h1M710 193.5h1M710 191.5h1M711 196.5h1M711 195.5h1M711 194.5h1M711 193.5h1M711 192.5h1M711 191.5h1M712 196.5h1M712 195.5h1M712 194.5h1M712 193.5h1M712 192.5h1M712 191.5h1M713 195.5h1M713 194.5h1M713 193.5h1M713 192.5h1M713 191.5h1M714 196.5h1M714 195.5h1M714 194.5h1M714 192.5h1M1068 196.5h1M1068 195.5h1M1068 193.5h1M1068 191.5h1M1069 196.5h1M1069 195.5h1M1069 194.5h1M1069 193.5h1M1069 192.5h1M1069 191.5h1M1070 196.5h1M1070 195.5h1M1070 194.5h1M1070 193.5h1M1070 192.5h1M1070 191.5h1M1071 195.5h1M1071 194.5h1M1071 193.5h1M1071 192.5h1M1071 191.5h1M1072 196.5h1M1072 195.5h1M1072 194.5h1M1072 192.5h1M710 210.5h1M710 209.5h1M710 207.5h1M710 205.5h1M711 210.5h1M711 209.5h1M711 208.5h1M711 207.5h1M711 206.5h1M711 205.5h1M712 210.5h1M712 209.5h1M712 208.5h1M712 207.5h1M712 206.5h1M712 205.5h1M713 209.5h1M713 208.5h1M713 207.5h1M713 206.5h1M713 205.5h1M714 210.5h1M714 209.5h1M714 208.5h1M714 206.5h1M1068 210.5h1M1068 209.5h1M1068 207.5h1M1068 205.5h1M1069 210.5h1M1069 209.5h1M1069 208.5h1M1069 207.5h1M1069 206.5h1M1069 205.5h1M1070 210.5h1M1070 209.5h1M1070 208.5h1M1070 207.5h1M1070 206.5h1M1070 205.5h1M1071 209.5h1M1071 208.5h1M1071 207.5h1M1071 206.5h1M1071 205.5h1M1072 210.5h1M1072 209.5h1M1072 208.5h1M1072 206.5h1M704 220.5h1M704 218.5h1M704 217.5h1M704 215.5h1M705 220.5h1M705 219.5h1M705 218.5h1M705 216.5h1M705 215.5h1M706 220.5h1M706 219.5h1M706 218.5h1M706 217.5h1M706 216.5h1M706 215.5h1M707 219.5h1M707 217.5h1M707 216.5h1M707 215.5h1M708 219.5h1M708 218.5h1M708 217.5h1M708 216.5h1M1062 220.5h1M1062 218.5h1M1062 217.5h1M1062 215.5h1M1063 220.5h1M1063 219.5h1M1063 218.5h1M1063 216.5h1M1063 215.5h1M1064 220.5h1M1064 219.5h1M1064 218.5h1M1064 217.5h1M1064 216.5h1M1064 215.5h1M1065 219.5h1M1065 217.5h1M1065 216.5h1M1065 215.5h1M1066 219.5h1M1066 218.5h1M1066 217.5h1M1066 216.5h1M710 244.5h1M710 243.5h1M710 242.5h1M710 241.5h1M710 239.5h1M710 237.5h1M711 243.5h1M711 241.5h1M711 240.5h1M711 239.5h1M711 238.5h1M711 237.5h1M712 244.5h1M712 243.5h1M712 241.5h1M712 240.5h1M712 239.5h1M712 238.5h1M712 237.5h1M713 244.5h1M713 241.5h1M713 240.5h1M713 239.5h1M713 238.5h1M713 237.5h1M714 244.5h1M714 243.5h1M714 241.5h1M714 240.5h1M714 238.5h1M1068 244.5h1M1068 243.5h1M1068 242.5h1M1068 241.5h1M1068 239.5h1M1068 237.5h1M1069 243.5h1M1069 241.5h1M1069 240.5h1M1069 239.5h1M1069 238.5h1M1069 237.5h1M1070 244.5h1M1070 243.5h1M1070 241.5h1M1070 240.5h1M1070 239.5h1M1070 238.5h1M1070 237.5h1M1071 244.5h1M1071 241.5h1M1071 240.5h1M1071 239.5h1M1071 238.5h1M1071 237.5h1M1072 244.5h1M1072 243.5h1M1072 241.5h1M1072 240.5h1M1072 238.5h1M710 276.5h1M710 274.5h1M710 273.5h1M710 271.5h1M711 276.5h1M711 275.5h1M711 274.5h1M711 272.5h1M711 271.5h1M712 276.5h1M712 275.5h1M712 274.5h1M712 273.5h1M712 272.5h1M712 271.5h1M713 275.5h1M713 273.5h1M713 272.5h1M713 271.5h1M714 275.5h1M714 274.5h1M714 273.5h1M714 272.5h1M1068 276.5h1M1068 274.5h1M1068 273.5h1M1068 271.5h1M1069 276.5h1M1069 275.5h1M1069 274.5h1M1069 272.5h1M1069 271.5h1M1070 276.5h1M1070 275.5h1M1070 274.5h1M1070 273.5h1M1070 272.5h1M1070 271.5h1M1071 275.5h1M1071 273.5h1M1071 272.5h1M1071 271.5h1M1072 275.5h1M1072 274.5h1M1072 273.5h1M1072 272.5h1M697 73.5h1M697 72.5h1M697 70.5h1M697 68.5h1M697 66.5h1M698 72.5h1M698 71.5h1M698 70.5h1M698 69.5h1M698 68.5h1M698 67.5h1M698 66.5h1M699 73.5h1M699 72.5h1M699 71.5h1M699 70.5h1M699 69.5h1M699 68.5h1M699 67.5h1M699 66.5h1M700 72.5h1M700 71.5h1M700 70.5h1M700 69.5h1M700 68.5h1M700 67.5h1M700 66.5h1M701 73.5h1M701 72.5h1M701 71.5h1M701 69.5h1M701 67.5h1M1081 73.5h1M1081 72.5h1M1081 70.5h1M1081 68.5h1M1081 66.5h1M1082 72.5h1M1082 71.5h1M1082 70.5h1M1082 69.5h1M1082 68.5h1M1082 67.5h1M1082 66.5h1M1083 73.5h1M1083 72.5h1M1083 71.5h1M1083 70.5h1M1083 69.5h1M1083 68.5h1M1083 67.5h1M1083 66.5h1M1084 72.5h1M1084 71.5h1M1084 70.5h1M1084 69.5h1M1084 68.5h1M1084 67.5h1M1084 66.5h1M1085 73.5h1M1085 72.5h1M1085 71.5h1M1085 69.5h1M1085 67.5h1M697 124.5h1M697 123.5h1M697 122.5h1M697 121.5h1M697 119.5h1M697 117.5h1M698 123.5h1M698 122.5h1M698 120.5h1M698 119.5h1M698 118.5h1M698 117.5h1M699 124.5h1M699 123.5h1M699 122.5h1M699 121.5h1M699 120.5h1M699 119.5h1M699 118.5h1M699 117.5h1M700 123.5h1M700 122.5h1M700 121.5h1M700 120.5h1M700 119.5h1M700 118.5h1M700 117.5h1M701 124.5h1M701 123.5h1M701 122.5h1M701 121.5h1M701 120.5h1M701 118.5h1M1081 124.5h1M1081 123.5h1M1081 122.5h1M1081 121.5h1M1081 119.5h1M1081 117.5h1M1082 123.5h1M1082 122.5h1M1082 120.5h1M1082 119.5h1M1082 118.5h1M1082 117.5h1M1083 124.5h1M1083 123.5h1M1083 122.5h1M1083 121.5h1M1083 120.5h1M1083 119.5h1M1083 118.5h1M1083 117.5h1M1084 123.5h1M1084 122.5h1M1084 121.5h1M1084 120.5h1M1084 119.5h1M1084 118.5h1M1084 117.5h1M1085 124.5h1M1085 123.5h1M1085 122.5h1M1085 121.5h1M1085 120.5h1M1085 118.5h1M697 178.5h1M697 177.5h1M697 176.5h1M697 175.5h1M697 173.5h1M697 171.5h1M698 177.5h1M698 176.5h1M698 174.5h1M698 173.5h1M698 172.5h1M698 171.5h1M699 178.5h1M699 177.5h1M699 176.5h1M699 175.5h1M699 174.5h1M699 173.5h1M699 172.5h1M699 171.5h1M700 177.5h1M700 176.5h1M700 175.5h1M700 174.5h1M700 173.5h1M700 172.5h1M700 171.5h1M701 178.5h1M701 177.5h1M701 176.5h1M701 175.5h1M701 174.5h1M701 172.5h1M1081 178.5h1M1081 177.5h1M1081 176.5h1M1081 175.5h1M1081 173.5h1M1081 171.5h1M1082 177.5h1M1082 176.5h1M1082 174.5h1M1082 173.5h1M1082 172.5h1M1082 171.5h1M1083 178.5h1M1083 177.5h1M1083 176.5h1M1083 175.5h1M1083 174.5h1M1083 173.5h1M1083 172.5h1M1083 171.5h1M1084 177.5h1M1084 176.5h1M1084 175.5h1M1084 174.5h1M1084 173.5h1M1084 172.5h1M1084 171.5h1M1085 178.5h1M1085 177.5h1M1085 176.5h1M1085 175.5h1M1085 174.5h1M1085 172.5h1M697 234.5h1M697 233.5h1M697 232.5h1M697 231.5h1M697 229.5h1M697 227.5h1M698 233.5h1M698 232.5h1M698 230.5h1M698 229.5h1M698 228.5h1M698 227.5h1M699 234.5h1M699 233.5h1M699 232.5h1M699 231.5h1M699 230.5h1M699 229.5h1M699 228.5h1M699 227.5h1M700 233.5h1M700 232.5h1M700 231.5h1M700 230.5h1M700 229.5h1M700 228.5h1M700 227.5h1M701 234.5h1M701 233.5h1M701 232.5h1M701 231.5h1M701 230.5h1M701 228.5h1M1081 234.5h1M1081 233.5h1M1081 232.5h1M1081 231.5h1M1081 229.5h1M1081 227.5h1M1082 233.5h1M1082 232.5h1M1082 230.5h1M1082 229.5h1M1082 228.5h1M1082 227.5h1M1083 234.5h1M1083 233.5h1M1083 232.5h1M1083 231.5h1M1083 230.5h1M1083 229.5h1M1083 228.5h1M1083 227.5h1M1084 233.5h1M1084 232.5h1M1084 231.5h1M1084 230.5h1M1084 229.5h1M1084 228.5h1M1084 227.5h1M1085 234.5h1M1085 233.5h1M1085 232.5h1M1085 231.5h1M1085 230.5h1M1085 228.5h1M697 276.5h1M697 274.5h1M697 273.5h1M697 271.5h1M698 276.5h1M698 275.5h1M698 274.5h1M698 272.5h1M698 271.5h1M699 276.5h1M699 275.5h1M699 274.5h1M699 273.5h1M699 272.5h1M699 271.5h1M700 275.5h1M700 273.5h1M700 272.5h1M700 271.5h1M701 275.5h1M701 274.5h1M701 273.5h1M701 272.5h1M1089 276.5h1M1089 274.5h1M1089 273.5h1M1089 271.5h1M1090 276.5h1M1090 275.5h1M1090 274.5h1M1090 272.5h1M1090 271.5h1M1091 276.5h1M1091 275.5h1M1091 274.5h1M1091 273.5h1M1091 272.5h1M1091 271.5h1M1092 275.5h1M1092 273.5h1M1092 272.5h1M1092 271.5h1M1093 275.5h1M1093 274.5h1M1093 273.5h1M1093 272.5h1M752.0 343.5L747.5 343.5L747.5 351.1M747.5 347.3L750.65 347.3M791.0 343.5L786.5 343.5L786.5 351.1L791.0 351.1M786.5 347.3L789.65 347.3M873.5 343.5L873.5 351.1M873.5 343.5L876.2 343.5L878.0 345.4L878.0 349.2L876.2 351.1L873.5 351.1M917.0 344.93L916.1 343.5L913.85 343.5L912.5 344.93L912.5 349.68L913.85 351.1L916.1 351.1L917.0 349.68M1001.5 343.5L1001.5 351.1M1001.5 343.5L1004.65 343.5L1005.55 344.45L1005.55 346.35L1004.65 347.3L1001.5 347.3M1004.65 347.3L1006.0 348.25L1006.0 350.15L1005.1 351.1L1001.5 351.1M1040.5 351.1L1042.75 343.5L1045.0 351.1M1041.4 348.25L1044.1 348.25M764 310.5H768M769 310.5H770M771 310.5H772M765 311.5H767M768 311.5H772M764 312.5H772M764 313.5H765M766 313.5H772M764 314.5H769M770 314.5H771M827 310.5H830M832 310.5H833M834 310.5H835M827 311.5H828M829 311.5H835M827 312.5H835M828 313.5H829M830 313.5H835M827 314.5H829M830 314.5H832M833 314.5H834M891 310.5H894M896 310.5H897M898 310.5H899M892 311.5H899M891 312.5H899M891 313.5H892M894 313.5H899M891 314.5H893M894 314.5H896M897 314.5H898M954 310.5H957M959 310.5H960M961 310.5H962M954 311.5H955M956 311.5H962M954 312.5H962M955 313.5H956M957 313.5H962M954 314.5H956M957 314.5H959M960 314.5H961M1018 310.5H1022M1023 310.5H1024M1025 310.5H1026M1019 311.5H1021M1022 311.5H1026M1018 312.5H1026M1018 313.5H1019M1020 313.5H1026M1018 314.5H1023M1024 314.5H1025M890 323.5H891M892 323.5H896M897 323.5H898M899 323.5H900M890 324.5H891M892 324.5H893M894 324.5H895M896 324.5H900M890 325.5H891M892 325.5H900M890 326.5H891M893 326.5H900M890 327.5H891M892 327.5H897M898 327.5H899M877.5 371.0L874.0 371.0L874.0 375.4M874.0 373.2L876.45 373.2M892.5 375.4L894.25 371.0L896.0 375.4M893.2 373.75L895.3 373.75M881.5 373.5L883 371.5L885.5 373L887.5 372M899.5 369.0L903.0 369.0M901.2 367.5L900.1 371.5L902.8 371.5M901.5 370.0L901.5 377.5M899.5 374.0L903.2 373.5M903.9 370.0L907.1 370.0L907.1 377.5L903.9 377.5L903.9 370.0M905.5 367.5L905.5 377.5M903.9 373.5L907.1 373.5M911.2 367.5L911.2 369.0M908.4 369.7L914.2 369.7M909.7 371.5L910.4 375.5M913.0 371.2L912.2 376.0M907.7 377.5L914.9 377.5M915.9 367.5L922.9 367.5M919.4 367.5L918.9 369.5M916.4 369.5L922.4 369.5L922.4 377.5L916.4 377.5L916.4 369.5M918.4 369.5L918.4 377.5M920.4 369.5L920.4 377.5M918.4 372.5L920.4 372.5M918.4 375.0L920.4 375.0M924.4 367.5L931.1 367.5L931.1 377.5L924.4 377.5L924.4 367.5M927.1 368.8L925.8 371.2M926.8 369.8L929.4 369.8L927.8 372.0L925.8 373.8M927.1 371.2L929.9 373.8M927.4 373.5L928.6 374.5M926.9 375.2L928.7 376.3M937.5 372V378M936 373.5h1M941 374.5h1M941 378.5h1M944.5 372V378M943 372.5h1M942 373.5h1M946.5 372V378M949.5 373V378M946 372.5H949M947 378.5H949M951.5 372V378M954.5 373V378M951 372.5H954M952 378.5H954M858.5 388V393M859.5 388V391M860.5 387V391M860.5 392V394M861.5 387V394M863.5 387V388M863.5 389V390M864.5 387V394M865.5 387V391M865.5 392V393M866.5 389V393M867.5 388V394M869.5 389V392M870.5 387V389M870.5 390V392M871.5 389V390M871.5 391V393M872.5 388V394M873.5 390V391M873.5 392V394M874.5 389V394M876.5 387V388M876.5 393V394M877.5 387V388M877.5 389V393M878.5 389V392M878.5 393V394M879.5 388V390M879.5 391V392M881.5 388V390M881.5 391V393M882.5 388V389M882.5 391V394M883.5 388V392M883.5 393V394M884.5 387V393M886.5 388V391M886.5 392V394M887.5 390V392M888.5 388V390M888.5 391V394M889.5 387V389M889.5 390V392M890.5 388V394M891.5 387V388M891.5 392V393M892.5 388V391M892.5 392V394M894.5 389V394M895.5 391V393M896.5 391V392M896.5 393V394M897.5 387V392M897.5 393V394M898.5 387V388M898.5 389V394M900.5 388V391M901.5 388V389M901.5 390V392M902.5 389V392M903.5 388V394M904.5 388V394M906.5 388V390M906.5 392V393M907.5 387V388M907.5 390V391M908.5 387V391M908.5 392V393M910.5 388V390M910.5 391V393M911.5 387V388M911.5 389V390M911.5 391V394M912.5 389V392M912.5 393V394M913.5 389V390M913.5 391V394M914.5 388V390M914.5 391V393M915.5 389V393M916.5 387V391M917.5 388V392M917.5 393V394M918.5 388V391M918.5 393V394M919.5 389V391M919.5 392V394M920.5 388V390M920.5 391V393M921.5 388V389M921.5 390V392M923.5 387V393M924.5 388V394M925.5 387V390M925.5 391V392M926.5 388V390M928.5 388V394M929.5 388V392" stroke="#ffffff" stroke-width="1" fill="none"/>
<path d="M128 475.5H424M251.5 615V670M303.5 615V670" stroke="#808080" stroke-width="1" fill="none"/>
<path d="M130 679.5H425M130 680.5H425M130 681.5H425" stroke="#888888" stroke-width="1" fill="none"/>
<path d="M134 672.5h1M135 672.5h1M139 672.5h1M140 672.5h1M145 672.5h1M149 672.5h1M150 672.5h1M155 672.5h1M169 672.5h1M175 672.5h1M180 672.5h1M184 672.5h1M185 672.5h1M189 672.5h1M195 672.5h1M199 672.5h1M200 672.5h1M204 672.5h1M205 672.5h1M214 672.5h1M219 672.5h1M229 672.5h1M235 672.5h1M239 672.5h1M240 672.5h1M244 672.5h1M245 672.5h1M249 672.5h1M250 672.5h1M254 672.5h1M255 672.5h1M264 672.5h1M270 672.5h1M274 672.5h1M275 672.5h1M284 672.5h1M289 672.5h1M290 672.5h1M294 672.5h1M295 672.5h1M299 672.5h1M304 672.5h1M305 672.5h1M309 672.5h1M310 672.5h1M314 672.5h1M320 672.5h1M325 672.5h1M329 672.5h1M330 672.5h1M334 672.5h1M335 672.5h1M339 672.5h1M340 672.5h1M344 672.5h1M349 672.5h1M350 672.5h1M354 672.5h1M355 672.5h1M359 672.5h1M360 672.5h1M364 672.5h1M365 672.5h1M369 672.5h1M375 672.5h1M379 672.5h1M384 672.5h1M385 672.5h1M389 672.5h1M390 672.5h1M394 672.5h1M395 672.5h1M400 672.5h1M405 672.5h1M409 672.5h1M414 672.5h1M419 672.5h1M420 672.5h1M138 673.5h1M141 673.5h1M143 673.5h1M151 673.5h1M153 673.5h1M156 673.5h1M158 673.5h1M163 673.5h1M171 673.5h1M176 673.5h1M181 673.5h1M183 673.5h1M186 673.5h1M191 673.5h1M196 673.5h1M201 673.5h1M203 673.5h1M206 673.5h1M211 673.5h1M213 673.5h1M218 673.5h1M231 673.5h1M233 673.5h1M236 673.5h1M238 673.5h1M241 673.5h1M243 673.5h1M246 673.5h1M248 673.5h1M253 673.5h1M258 673.5h1M261 673.5h1M263 673.5h1M266 673.5h1M268 673.5h1M271 673.5h1M276 673.5h1M278 673.5h1M281 673.5h1M283 673.5h1M288 673.5h1M291 673.5h1M296 673.5h1M301 673.5h1M306 673.5h1M316 673.5h1M321 673.5h1M323 673.5h1M331 673.5h1M336 673.5h1M341 673.5h1M343 673.5h1M353 673.5h1M358 673.5h1M361 673.5h1M363 673.5h1M368 673.5h1M373 673.5h1M376 673.5h1M383 673.5h1M386 673.5h1M388 673.5h1M398 673.5h1M401 673.5h1M403 673.5h1M408 673.5h1M411 673.5h1M413 673.5h1M416 673.5h1M418 673.5h1M421 673.5h1M135 674.5h1M142 674.5h1M145 674.5h1M147 674.5h1M150 674.5h1M152 674.5h1M157 674.5h1M160 674.5h1M162 674.5h1M175 674.5h1M177 674.5h1M180 674.5h1M182 674.5h1M185 674.5h1M195 674.5h1M197 674.5h1M200 674.5h1M202 674.5h1M207 674.5h1M210 674.5h1M217 674.5h1M220 674.5h1M225 674.5h1M230 674.5h1M237 674.5h1M240 674.5h1M242 674.5h1M250 674.5h1M252 674.5h1M255 674.5h1M257 674.5h1M262 674.5h1M267 674.5h1M270 674.5h1M272 674.5h1M277 674.5h1M282 674.5h1M285 674.5h1M287 674.5h1M295 674.5h1M302 674.5h1M307 674.5h1M310 674.5h1M312 674.5h1M315 674.5h1M317 674.5h1M320 674.5h1M322 674.5h1M325 674.5h1M332 674.5h1M337 674.5h1M342 674.5h1M345 674.5h1M350 674.5h1M355 674.5h1M362 674.5h1M370 674.5h1M372 674.5h1M375 674.5h1M380 674.5h1M385 674.5h1M387 674.5h1M390 674.5h1M392 674.5h1M400 674.5h1M410 674.5h1M412 674.5h1M415 674.5h1M133 675.5h1M134 675.5h1M138 675.5h1M139 675.5h1M143 675.5h1M144 675.5h1M149 675.5h1M153 675.5h1M154 675.5h1M158 675.5h1M163 675.5h1M164 675.5h1M168 675.5h1M169 675.5h1M173 675.5h1M178 675.5h1M179 675.5h1M183 675.5h1M188 675.5h1M189 675.5h1M193 675.5h1M194 675.5h1M198 675.5h1M203 675.5h1M204 675.5h1M208 675.5h1M209 675.5h1M213 675.5h1M214 675.5h1M218 675.5h1M219 675.5h1M223 675.5h1M224 675.5h1M228 675.5h1M229 675.5h1M234 675.5h1M239 675.5h1M243 675.5h1M244 675.5h1M248 675.5h1M249 675.5h1M253 675.5h1M258 675.5h1M263 675.5h1M264 675.5h1M269 675.5h1M274 675.5h1M278 675.5h1M279 675.5h1M283 675.5h1M289 675.5h1M293 675.5h1M294 675.5h1M298 675.5h1M304 675.5h1M313 675.5h1M314 675.5h1M318 675.5h1M319 675.5h1M323 675.5h1M324 675.5h1M328 675.5h1M333 675.5h1M334 675.5h1M338 675.5h1M339 675.5h1M344 675.5h1M348 675.5h1M349 675.5h1M353 675.5h1M354 675.5h1M358 675.5h1M359 675.5h1M363 675.5h1M364 675.5h1M369 675.5h1M374 675.5h1M379 675.5h1M383 675.5h1M384 675.5h1M389 675.5h1M393 675.5h1M394 675.5h1M399 675.5h1M403 675.5h1M404 675.5h1M408 675.5h1M409 675.5h1M414 675.5h1M418 675.5h1M135 676.5h1M136 676.5h1M140 676.5h1M141 676.5h1M146 676.5h1M150 676.5h1M151 676.5h1M160 676.5h1M165 676.5h1M171 676.5h1M180 676.5h1M181 676.5h1M186 676.5h1M191 676.5h1M195 676.5h1M196 676.5h1M201 676.5h1M205 676.5h1M210 676.5h1M211 676.5h1M215 676.5h1M216 676.5h1M220 676.5h1M221 676.5h1M226 676.5h1M230 676.5h1M231 676.5h1M235 676.5h1M246 676.5h1M250 676.5h1M251 676.5h1M255 676.5h1M260 676.5h1M266 676.5h1M270 676.5h1M271 676.5h1M275 676.5h1M276 676.5h1M280 676.5h1M285 676.5h1M286 676.5h1M291 676.5h1M296 676.5h1M300 676.5h1M301 676.5h1M305 676.5h1M306 676.5h1M310 676.5h1M316 676.5h1M320 676.5h1M325 676.5h1M326 676.5h1M330 676.5h1M331 676.5h1M335 676.5h1M340 676.5h1M350 676.5h1M355 676.5h1M356 676.5h1M360 676.5h1M361 676.5h1M365 676.5h1M370 676.5h1M371 676.5h1M375 676.5h1M376 676.5h1M380 676.5h1M381 676.5h1M385 676.5h1M386 676.5h1M391 676.5h1M400 676.5h1M401 676.5h1M405 676.5h1M410 676.5h1M420 676.5h1M137 677.5h1M141 677.5h1M152 677.5h1M154 677.5h1M161 677.5h1M162 677.5h1M167 677.5h1M171 677.5h1M172 677.5h1M177 677.5h1M178 677.5h1M181 677.5h1M182 677.5h1M187 677.5h1M188 677.5h1M192 677.5h1M194 677.5h1M197 677.5h1M198 677.5h1M201 677.5h1M202 677.5h1M204 677.5h1M207 677.5h1M208 677.5h1M211 677.5h1M212 677.5h1M217 677.5h1M221 677.5h1M222 677.5h1M224 677.5h1M227 677.5h1M228 677.5h1M231 677.5h1M232 677.5h1M234 677.5h1M237 677.5h1M238 677.5h1M241 677.5h1M242 677.5h1M244 677.5h1M248 677.5h1M252 677.5h1M254 677.5h1M257 677.5h1M258 677.5h1M261 677.5h1M262 677.5h1M264 677.5h1M267 677.5h1M268 677.5h1M272 677.5h1M277 677.5h1M278 677.5h1M281 677.5h1M282 677.5h1M284 677.5h1M287 677.5h1M288 677.5h1M291 677.5h1M294 677.5h1M304 677.5h1M307 677.5h1M308 677.5h1M311 677.5h1M312 677.5h1M314 677.5h1M317 677.5h1M318 677.5h1M321 677.5h1M322 677.5h1M327 677.5h1M328 677.5h1M331 677.5h1M334 677.5h1M337 677.5h1M338 677.5h1M341 677.5h1M342 677.5h1M348 677.5h1M352 677.5h1M354 677.5h1M362 677.5h1M364 677.5h1M367 677.5h1M368 677.5h1M371 677.5h1M372 677.5h1M374 677.5h1M381 677.5h1M382 677.5h1M384 677.5h1M387 677.5h1M388 677.5h1M391 677.5h1M392 677.5h1M398 677.5h1M402 677.5h1M404 677.5h1M407 677.5h1M408 677.5h1M414 677.5h1M417 677.5h1M418 677.5h1" stroke="#707070" fill="none"/>
<path d="M154 672.5h1M160 672.5h1M164 672.5h1M165 672.5h1M170 672.5h1M190 672.5h1M194 672.5h1M209 672.5h1M215 672.5h1M220 672.5h1M224 672.5h1M259 672.5h1M260 672.5h1M265 672.5h1M279 672.5h1M285 672.5h1M324 672.5h1M399 672.5h1M404 672.5h1M410 672.5h1M415 672.5h1M133 673.5h1M146 673.5h1M148 673.5h1M161 673.5h1M173 673.5h1M178 673.5h1M208 673.5h1M216 673.5h1M223 673.5h1M226 673.5h1M251 673.5h1M273 673.5h1M293 673.5h1M298 673.5h1M303 673.5h1M311 673.5h1M313 673.5h1M318 673.5h1M326 673.5h1M328 673.5h1M333 673.5h1M338 673.5h1M348 673.5h1M351 673.5h1M366 673.5h1M371 673.5h1M378 673.5h1M381 673.5h1M391 673.5h1M396 673.5h1M406 673.5h1M137 674.5h1M140 674.5h1M155 674.5h1M165 674.5h1M167 674.5h1M170 674.5h1M187 674.5h1M190 674.5h1M192 674.5h1M205 674.5h1M215 674.5h1M227 674.5h1M235 674.5h1M245 674.5h1M265 674.5h1M280 674.5h1M290 674.5h1M292 674.5h1M297 674.5h1M300 674.5h1M305 674.5h1M327 674.5h1M330 674.5h1M335 674.5h1M340 674.5h1M347 674.5h1M352 674.5h1M357 674.5h1M360 674.5h1M367 674.5h1M382 674.5h1M395 674.5h1M397 674.5h1M402 674.5h1M405 674.5h1M417 674.5h1M420 674.5h1M148 675.5h1M174 675.5h1M199 675.5h1M233 675.5h1M238 675.5h1M254 675.5h1M259 675.5h1M268 675.5h1M284 675.5h1M288 675.5h1M308 675.5h1M309 675.5h1M378 675.5h1M388 675.5h1M413 675.5h1M155 676.5h1M156 676.5h1M161 676.5h1M170 676.5h1M176 676.5h1M185 676.5h1M190 676.5h1M206 676.5h1M225 676.5h1M241 676.5h1M256 676.5h1M261 676.5h1M265 676.5h1M281 676.5h1M290 676.5h1M295 676.5h1M311 676.5h1M315 676.5h1M321 676.5h1M336 676.5h1M345 676.5h1M346 676.5h1M351 676.5h1M390 676.5h1M395 676.5h1M406 676.5h1M411 676.5h1M415 676.5h1M421 676.5h1M134 677.5h1M138 677.5h1M144 677.5h1M147 677.5h1M148 677.5h1M158 677.5h1M168 677.5h1M184 677.5h1M191 677.5h1M214 677.5h1M247 677.5h1M251 677.5h1M271 677.5h1M274 677.5h1M292 677.5h1M297 677.5h1M298 677.5h1M301 677.5h1M302 677.5h1M332 677.5h1M344 677.5h1M347 677.5h1M351 677.5h1M358 677.5h1M361 677.5h1M377 677.5h1M378 677.5h1M397 677.5h1M401 677.5h1M412 677.5h1M421 677.5h1" stroke="#b4b4b4" fill="none"/>
<path d="M139 615.5h1M140 614.5h1M142 615.5h1M143 615.5h1M144 615.5h1M144 615.5h1M145 614.5h1M147 615.5h1M148 615.5h1M155 614.5h1M156 615.5h1M154 614.5h1M155 615.5h1M154 615.5h1M155 614.5h1M158 614.5h1M164 615.5h1M165 615.5h1M166 616.5h1M167 616.5h1M136 617.5h1M137 616.5h1M140 618.5h1M141 617.5h1M141 619.5h1M142 620.5h1M143 619.5h1M143 620.5h1M144 619.5h1M148 618.5h1M152 617.5h1M149 619.5h1M150 618.5h1M154 619.5h1M155 618.5h1M153 618.5h1M153 619.5h1M159 619.5h1M160 619.5h1M157 618.5h1M158 619.5h1M158 618.5h1M159 617.5h1M164 619.5h1M164 620.5h1M161 619.5h1M162 620.5h1M163 617.5h1M166 618.5h1M167 619.5h1M167 618.5h1M144 620.5h1M167 620.5h1" stroke="#9c9c9c" fill="none"/>
<path d="M134 616.5h1M135 615.5h1M136 615.5h1M137 616.5h1M135 615.5h1M137 616.5h1M140 614.5h1M146 616.5h1M147 616.5h1M147 615.5h1M148 615.5h1M149 615.5h1M151 614.5h1M152 615.5h1M149 615.5h1M150 614.5h1M150 615.5h1M160 614.5h1M161 614.5h1M160 616.5h1M163 616.5h1M164 615.5h1M164 614.5h1M167 614.5h1M135 619.5h1M133 619.5h1M134 619.5h1M137 617.5h1M137 618.5h1M137 619.5h1M142 618.5h1M142 619.5h1M145 619.5h1M146 617.5h1M151 618.5h1M156 619.5h1M166 619.5h1M149 620.5h1M151 620.5h1M153 620.5h1M158 620.5h1M159 620.5h1" stroke="#a8a8a8" fill="none"/>
<path d="M388 616.5h1M389 616.5h1M393 616.5h1M397 614.5h1M398 614.5h1M399 616.5h1M400 616.5h1M402 615.5h1M403 614.5h1M404 615.5h1M403 615.5h1M402 614.5h1M403 615.5h1M406 615.5h1M407 614.5h1M406 616.5h1M407 617.5h1M408 618.5h1M410 614.5h1M414 614.5h1M413 616.5h1M414 616.5h1M416 614.5h1M417 615.5h1M394 619.5h1M395 619.5h1M401 617.5h1M402 616.5h1M400 618.5h1M401 619.5h1M411 619.5h1M412 619.5h1M409 618.5h1M410 618.5h1M411 617.5h1M414 617.5h1M420 618.5h1M421 619.5h1M420 619.5h1M390 620.5h1M391 619.5h1M395 620.5h1M403 620.5h1M406 620.5h1M415 620.5h1M420 620.5h1" stroke="#9c9c9c" fill="none"/>
<path d="M390 616.5h1M391 615.5h1M392 616.5h1M388 616.5h1M389 615.5h1M392 616.5h1M393 616.5h1M395 615.5h1M396 616.5h1M397 617.5h1M398 617.5h1M405 614.5h1M405 615.5h1M406 614.5h1M409 616.5h1M410 616.5h1M411 616.5h1M412 617.5h1M415 614.5h1M416 614.5h1M419 616.5h1M418 616.5h1M391 618.5h1M392 619.5h1M391 618.5h1M388 617.5h1M389 617.5h1M392 617.5h1M392 618.5h1M393 619.5h1M399 617.5h1M399 619.5h1M400 619.5h1M396 619.5h1M400 617.5h1M401 618.5h1M404 619.5h1M405 619.5h1M407 618.5h1M414 619.5h1M415 618.5h1M412 619.5h1M413 620.5h1M416 619.5h1M418 618.5h1M419 617.5h1M417 618.5h1M418 617.5h1M391 620.5h1M394 620.5h1M411 620.5h1M414 620.5h1M415 619.5h1M418 620.5h1" stroke="#a8a8a8" fill="none"/>
<path d="M293 449.5H428M293 451.5H428M293.5 449V452M427.5 449V452M295.5 452V505M425.5 452V505M275 457.5H296M275 462.5H296M275.5 457V463M295.5 457V463M129.5 475V505M132.5 478V505M129 475.5H133M129 478.5H133M129.5 475V479M132.5 475V479M128 476.5h1M127 476.5h1M422.5 478V505M425.5 475V505M422 475.5H426M422 478.5H426M422.5 475V479M425.5 475V479M426 475.5h1M427 475.5h1M427 476.5h1M129 504.5H426M129 506.5H426M129 559.5H426M129 560.5H426M172 613.5H384M172 614.5H384M130 613.5H172M130 623.5H172M130.5 613V624M171.5 613V624M383 613.5H426M383 623.5H426M383.5 613V624M425.5 613V624M168.5 613V624M386.5 613V624M132 621.5H171M132 622.5H151M387 621.5H423M400 622.5H423M129.5 506V518M132.5 506V518M129 517.5H133M168.5 506V517M171.5 506V517M386.5 506V517M383.5 506V517M422.5 506V518M425.5 506V518M422 517.5H426M129.5 560V572M132.5 560V572M129 571.5H133M168.5 560V571M171.5 560V571M386.5 560V571M383.5 560V571M422.5 560V572M425.5 560V572M422 571.5H426M256.5 506V559M256.5 560V613M256.5 614V624M259.5 506V559M259.5 560V613M259.5 614V624M295.5 506V559M295.5 560V613M295.5 614V624M298.5 506V559M298.5 560V613M298.5 614V624M256 516.5H260M256 570.5H260M256 623.5H260M295 516.5H299M295 570.5H299M295 623.5H299M129.5 657V683M132.5 657V671M422.5 657V671M425.5 657V683M129 670.5H133M422 670.5H426M129 682.5H426M115 678.5H130M426 678.5H440" stroke="#ffffff" stroke-width="1" fill="none"/>
<path d="M172 612.5H384M134 559.5H167M389 559.5H421M132 670.5H423M132 671.5H423M132 678.5H423" stroke="#c86414" stroke-width="1" fill="none"/>
<path d="M115 456.5H440M115 504.5H129M426 504.5H440M123 558.5H433M123 612.5H169M387 612.5H433M115 670.5H129M426 670.5H440M131.5 506V687M170.5 506V687M258.5 506V687M297.5 506V687M384.5 506V687M423.5 506V687" stroke="#ff0000" stroke-width="1" fill="none"/>
<path d="M129.5 539V559M131.5 539V558M127 539.5H132M127 540.5h1M423.5 539V558M425.5 539V559M423 539.5H429M428 540.5h1M129.5 593V613M131.5 593V612M127 593.5H132M127 594.5h1M423.5 593V612M425.5 593V613M423 593.5H429M428 594.5h1" stroke="#ffffff" stroke-width="1" fill="none"/>
<path d="M172 514.5L177.5 514.5L177.5 517.5L377.5 517.5L377.5 514.5L384 514.5M176.5 514V518M378.5 514V518M172 568.5L177.5 568.5L177.5 571.5L377.5 571.5L377.5 568.5L384 568.5M176.5 568V572M378.5 568V572M133 621.5L138.5 621.5L138.5 625.5L417.5 625.5L417.5 621.5L423 621.5M137.5 621V626M418.5 621V626" stroke="#4e8caa" stroke-width="1" fill="none"/>
<path d="M168.5 517V559M169.5 517V559M170.5 517V559M171.5 517V559M168.5 571V613M169.5 571V613M170.5 571V613M171.5 571V613M383.5 517V559M384.5 517V559M385.5 517V559M386.5 517V559M383.5 571V613M384.5 571V613M385.5 571V613M386.5 571V613M129.5 625V657M130.5 625V657M131.5 625V657M132.5 625V657M422.5 625V657M423.5 625V657M424.5 625V657M425.5 625V657" stroke="#00ffff" stroke-width="1" fill="none"/>
<path d="M129.5 622V626" stroke="#0000ff" stroke-width="1" fill="none"/>
<path d="M209.5 504V683M203 504.5H214M203 517.5H214M203 558.5H214M203 571.5H214M203 612.5H214M203 625.5H214M203 670.5H214M203 671.5H214M203 682.5H214M207 678.5H214M118.5 538V559M114 539.5H124M114 540.5H124M114 558.5H123M118.5 591V613M114 592.5H123M114 594.5H123M114 612.5H124M436.5 538V559M432 539.5H442M432 540.5H442M432 558.5H441M436.5 591V613M432 592.5H441M432 594.5H441M432 612.5H442M158.5 557V572M154 558.5H164M154 559.5H164M154 571.5H164M397.5 557V572M393 558.5H403M393 559.5H403M393 571.5H403M155.5 611V625M151 612.5H159M154 613.5H157M153 624.5H158M154 620.5H157M153 621.5H159M400.5 611V625M396 612.5H404M399 613.5H402M398 624.5H403M399 620.5H402M398 621.5H404M223.5 626V639M223 638.5H279M365.5 675V697M278 696.5H366M98.5 449V679M85.5 456V679M456.5 449V679M469.5 456V679M95 449.5H110M445 449.5H460M99 450.5h1M97 448.5h1M457 450.5h1M455 448.5h1M95 475.5H110M445 475.5H460M99 476.5h1M97 474.5h1M457 476.5h1M455 474.5h1M95 517.5H110M445 517.5H460M99 518.5h1M97 516.5h1M457 518.5h1M455 516.5h1M95 571.5H110M445 571.5H460M99 572.5h1M97 570.5h1M457 572.5h1M455 570.5h1M95 625.5H110M445 625.5H460M99 626.5h1M97 624.5h1M457 626.5h1M455 624.5h1M95 656.5H110M445 656.5H460M99 657.5h1M97 655.5h1M457 657.5h1M455 655.5h1M66 456.5H110M445 456.5H490M86 457.5h1M84 455.5h1M99 457.5h1M97 455.5h1M457 457.5h1M455 455.5h1M470 457.5h1M468 455.5h1M66 504.5H110M445 504.5H490M86 505.5h1M84 503.5h1M99 505.5h1M97 503.5h1M457 505.5h1M455 503.5h1M470 505.5h1M468 503.5h1M66 558.5H110M445 558.5H490M86 559.5h1M84 557.5h1M99 559.5h1M97 557.5h1M457 559.5h1M455 557.5h1M470 559.5h1M468 557.5h1M66 612.5H110M445 612.5H490M86 613.5h1M84 611.5h1M99 613.5h1M97 611.5h1M457 613.5h1M455 611.5h1M470 613.5h1M468 611.5h1M66 670.5H110M445 670.5H490M86 671.5h1M84 669.5h1M99 671.5h1M97 669.5h1M457 671.5h1M455 669.5h1M470 671.5h1M468 669.5h1M66 678.5H110M445 678.5H490M57 451.5H75M65.0 451.5L70.0 456.5L75.0 451.5M480 451.5H498M480.5 451.5L485.5 456.5L490.0 451.5M57 499.5H75M65.0 499.5L70.0 504.5L75.0 499.5M480 499.5H498M480.5 499.5L485.5 504.5L490.0 499.5M57 553.5H75M65.0 553.5L70.0 558.5L75.0 553.5M480 553.5H498M480.5 553.5L485.5 558.5L490.0 553.5M57 607.5H75M65.0 607.5L70.0 612.5L75.0 607.5M480 607.5H498M480.5 607.5L485.5 612.5L490.0 607.5M57 665.5H75M65.0 665.5L70.0 670.5L75.0 665.5M480 665.5H498M480.5 665.5L485.5 670.5L490.0 665.5M57 682.5H75M65.0 682.5L70.0 678.5L75.0 682.5M480 682.5H498M480.5 682.5L485.5 678.5L490.0 682.5M131.5 687V752M170.5 687V752M258.5 687V752M297.5 687V752M384.5 687V752M423.5 687V752M131 727.5H424M131 740.5H424" stroke="#00ff00" stroke-width="1" fill="none"/>
<path d="M263.5 489.5L263.5 499.5M263.5 493.5L266.5 493.5M260.5 499.5L267.5 499.5M272.7 489.5L272.7 492.5L271.7 496.5L269.2 499.5M272.7 492.5L274.2 497.0L276.2 499.5M278.9 489.5L284.4 489.5L284.4 492.5L278.9 492.5M278.9 489.5L278.9 495.5L277.9 499.5M280.4 494.5L284.4 494.5M281.9 494.5L280.9 496.5L283.9 496.5M280.9 498.0L283.9 498.0M282.4 496.5L282.4 499.5M279.9 499.5L284.9 499.5M286.6 489.5L293.6 489.5M290.1 489.5L289.6 491.5M287.1 491.5L293.1 491.5L293.1 499.5L287.1 499.5L287.1 491.5M289.1 491.5L289.1 499.5M291.1 491.5L291.1 499.5M289.1 494.5L291.1 494.5M289.1 497.0L291.1 497.0M153.5 540.5L153.5 550.5M153.5 540.5L155.5 540.5L154.5 543.0L155.7 545.0L153.8 546.0M157.0 541.5L160.5 541.5L160.5 550.5L157.0 550.5L157.0 541.5M157.0 546.0L160.5 546.0M165.0 540.5L163.0 544.0L167.5 544.0M166.5 542.5L168.0 545.0M162.5 546.5L167.5 546.5L167.5 550.5L162.5 550.5L162.5 546.5M218.0 540.5L218.0 542.0M214.5 543.5L214.5 542.0L221.5 542.0L221.5 543.5M216.5 544.0L214.8 547.0M215.8 545.5L215.8 551.0M217.5 544.5L221.5 544.5M219.5 544.5L219.0 546.0M218.0 546.0L221.0 546.0L221.0 551.0L218.0 551.0L218.0 546.0M218.0 548.5L221.0 548.5M226.5 540.5L223.0 544.5M226.5 540.5L230.0 544.5M225.0 544.0L228.0 544.0M223.5 546.0L229.5 546.0M226.5 544.0L226.5 547.5M224.5 547.5L228.5 547.5L228.5 551.0L224.5 551.0L224.5 547.5M275.5 542.0L279.5 542.0M277.5 540.5L277.5 548.5M274.0 544.5L281.0 544.5M277.5 546.5L280.0 546.5M276.0 546.0L275.5 548.5L274.0 551.0M275.0 548.0L277.0 550.0L281.0 551.0M282.8 541.0L283.5 542.0M282.5 544.5L284.0 544.5L284.0 548.5L282.5 550.5M284.0 549.5L286.5 550.8L290.0 550.8M286.0 540.5L286.5 541.8M288.8 540.5L288.2 541.8M285.0 542.3L290.0 542.3M287.3 542.3L287.0 543.8M285.7 543.8L289.3 543.8L289.3 549.0L285.7 549.0L285.7 543.8M285.7 545.5L289.3 545.5M285.7 547.3L289.3 547.3M336.0 540.5L336.0 542.0M332.5 543.5L332.5 542.0L339.5 542.0L339.5 543.5M334.5 544.0L332.8 547.0M333.8 545.5L333.8 551.0M335.5 544.5L339.5 544.5M337.5 544.5L337.0 546.0M336.0 546.0L339.0 546.0L339.0 551.0L336.0 551.0L336.0 546.0M336.0 548.5L339.0 548.5M344.5 540.5L341.0 544.5M344.5 540.5L348.0 544.5M343.0 544.0L346.0 544.0M341.5 546.0L347.5 546.0M344.5 544.0L344.5 547.5M342.5 547.5L346.5 547.5L346.5 551.0L342.5 551.0L342.5 547.5M391.5 540.5L391.5 550.5M391.5 540.5L393.5 540.5L392.5 543.0L393.7 545.0L391.8 546.0M395.0 541.5L398.5 541.5L398.5 550.5L395.0 550.5L395.0 541.5M395.0 546.0L398.5 546.0M403.0 540.5L401.0 544.0L405.5 544.0M404.5 542.5L406.0 545.0M400.5 546.5L405.5 546.5L405.5 550.5L400.5 550.5L400.5 546.5M153.5 594.0L153.5 604.0M153.5 594.0L155.5 594.0L154.5 596.5L155.7 598.5L153.8 599.5M157.0 595.0L160.5 595.0L160.5 604.0L157.0 604.0L157.0 595.0M157.0 599.5L160.5 599.5M165.0 594.0L163.0 597.5L167.5 597.5M166.5 596.0L168.0 598.5M162.5 600.0L167.5 600.0L167.5 604.0L162.5 604.0L162.5 600.0M218.0 594.0L218.0 595.5M214.5 597.0L214.5 595.5L221.5 595.5L221.5 597.0M216.5 597.5L214.8 600.5M215.8 599.0L215.8 604.5M217.5 598.0L221.5 598.0M219.5 598.0L219.0 599.5M218.0 599.5L221.0 599.5L221.0 604.5L218.0 604.5L218.0 599.5M218.0 602.0L221.0 602.0M226.5 594.0L223.0 598.0M226.5 594.0L230.0 598.0M225.0 597.5L228.0 597.5M223.5 599.5L229.5 599.5M226.5 597.5L226.5 601.0M224.5 601.0L228.5 601.0L228.5 604.5L224.5 604.5L224.5 601.0M275.5 595.5L279.5 595.5M277.5 594.0L277.5 602.0M274.0 598.0L281.0 598.0M277.5 600.0L280.0 600.0M276.0 599.5L275.5 602.0L274.0 604.5M275.0 601.5L277.0 603.5L281.0 604.5M282.8 594.5L283.5 595.5M282.5 598.0L284.0 598.0L284.0 602.0L282.5 604.0M284.0 603.0L286.5 604.3L290.0 604.3M286.0 594.0L286.5 595.3M288.8 594.0L288.2 595.3M285.0 595.8L290.0 595.8M287.3 595.8L287.0 597.3M285.7 597.3L289.3 597.3L289.3 602.5L285.7 602.5L285.7 597.3M285.7 599.0L289.3 599.0M285.7 600.8L289.3 600.8M336.0 594.0L336.0 595.5M332.5 597.0L332.5 595.5L339.5 595.5L339.5 597.0M334.5 597.5L332.8 600.5M333.8 599.0L333.8 604.5M335.5 598.0L339.5 598.0M337.5 598.0L337.0 599.5M336.0 599.5L339.0 599.5L339.0 604.5L336.0 604.5L336.0 599.5M336.0 602.0L339.0 602.0M344.5 594.0L341.0 598.0M344.5 594.0L348.0 598.0M343.0 597.5L346.0 597.5M341.5 599.5L347.5 599.5M344.5 597.5L344.5 601.0M342.5 601.0L346.5 601.0L346.5 604.5L342.5 604.5L342.5 601.0M391.5 594.0L391.5 604.0M391.5 594.0L393.5 594.0L392.5 596.5L393.7 598.5L391.8 599.5M395.0 595.0L398.5 595.0L398.5 604.0L395.0 604.0L395.0 595.0M395.0 599.5L398.5 599.5M403.0 594.0L401.0 597.5L405.5 597.5M404.5 596.0L406.0 598.5M400.5 600.0L405.5 600.0L405.5 604.0L400.5 604.0L400.5 600.0M274.6 658.0L281.6 658.0M274.6 658.0L274.6 664.0L274.1 668.5M275.6 660.0L278.6 660.0M276.1 661.5L278.1 661.5L278.1 663.5L276.1 663.5L276.1 661.5M276.1 664.8L276.6 666.0M278.1 664.8L277.6 666.0M275.4 666.8L278.9 666.8M278.9 661.5L281.9 661.5M280.8 659.5L280.8 668.5L279.8 668.0M279.3 663.3L279.7 664.5M286.1 657.5L286.4 658.5M283.1 659.0L289.6 659.0M283.3 659.0L283.3 661.5L289.1 661.5L289.1 659.0M283.3 661.5L283.1 665.0L282.3 668.5M286.6 662.0L286.8 663.0M284.4 663.5L289.9 663.5M286.6 663.5L286.1 666.0L284.4 668.5M286.4 665.0L289.1 665.0L288.8 668.5L287.6 668.0M257.5 633V637M258.5 631V633M259.5 631V634M262.5 631V633M262.5 634V637M263.5 631V632M263.5 633V634M263.5 636V637M264.5 632V633M264.5 634V635M265.5 631V634M266.5 631V632M266.5 634V636M270.5 633V636M271.5 634V637M272.5 631V632M272.5 635V636M273.5 632V633M273.5 635V637M275.5 632V636M276.5 631V637M277.5 631V637M233.5 640V641M234.5 641V644M235.5 641V644M235.5 645V646M237.5 640V646M238.5 641V646M239.5 641V646M240.5 642V643M240.5 644V646M241.5 641V644M242.5 643V646M243.5 640V643M243.5 644V645M245.5 640V641M245.5 642V643M246.5 640V641M246.5 644V645M247.5 641V644M249.5 640V644M250.5 640V643M250.5 645V646M251.5 640V644M252.5 641V644M252.5 645V646M253.5 640V641M253.5 644V645M255.5 642V644M256.5 641V646M257.5 642V645M258.5 641V646M259.5 640V641M259.5 642V644M260.5 641V645M261.5 640V644M261.5 645V646M262.5 641V646M264.5 640V646M265.5 640V644M266.5 640V641M266.5 642V646M267.5 640V646M268.5 642V644M269.5 640V641M269.5 644V645M271.5 641V643M271.5 644V645M272.5 643V645M273.5 640V646M275.5 642V644M275.5 645V646M276.5 642V644M277.5 640V642M277.5 643V646M279.5 640V646M280.5 690V693M281.5 691V693M282.5 690V691M282.5 692V694M283.5 691V694M285.5 691V695M286.5 690V695M287.5 689V693M287.5 694V695M288.5 689V691M288.5 692V694M290.5 689V694M291.5 689V690M291.5 691V692M292.5 689V691M292.5 692V694M293.5 689V693M295.5 692V693M296.5 691V693M296.5 694V695M297.5 690V693M298.5 689V691M299.5 691V692M299.5 693V694M303.5 690V695M304.5 691V692M304.5 694V695M305.5 690V694M306.5 691V693M307.5 690V695M308.5 690V695M309.5 689V693M310.5 689V694M314.5 689V693M315.5 690V695M316.5 690V695M317.5 690V691M317.5 692V693M318.5 690V692M318.5 693V695M319.5 690V695M321.5 689V690M321.5 691V694M322.5 692V694M323.5 690V692M324.5 690V695M325.5 690V693M326.5 689V692M326.5 693V695M327.5 690V695M328.5 689V690M328.5 691V694M329.5 692V694M330.5 689V691M330.5 692V694M331.5 690V693M332.5 690V692M332.5 693V694M333.5 690V691M333.5 692V694M334.5 689V695M336.5 690V691M336.5 693V694M337.5 690V693M337.5 694V695M338.5 690V692M338.5 694V695M339.5 691V692M339.5 693V695M340.5 690V692M340.5 694V695M342.5 689V695M343.5 690V691M343.5 692V695M344.5 691V695M345.5 690V691M345.5 692V693M347.5 689V691M347.5 692V693M348.5 691V693M349.5 689V695M351.5 690V693M351.5 694V695M280.5 699V701M280.5 702V705M281.5 700V701M281.5 703V704M282.5 700V701M282.5 703V704M283.5 699V701M283.5 702V705M284.5 701V702M284.5 703V705M285.5 702V703M285.5 704V705M286.5 701V704M287.5 700V702M288.5 699V700M288.5 701V703M290.5 699V702M291.5 702V705M292.5 700V705M293.5 702V703M293.5 704V705M295.5 700V701M295.5 702V703M296.5 700V705M297.5 701V704M298.5 700V701M298.5 702V704M299.5 699V700M299.5 703V704M301.5 701V704M302.5 699V704M303.5 700V705M305.5 700V703M306.5 700V702M306.5 704V705M307.5 700V705M308.5 701V705M310.5 701V704M311.5 701V703M312.5 700V701M312.5 702V703M313.5 699V702M314.5 701V703M316.5 700V701M316.5 702V705M317.5 699V700M317.5 703V704M318.5 701V703M319.5 702V703M320.5 700V705M321.5 701V704M322.5 699V700M322.5 701V704M323.5 701V703M324.5 700V705M326.5 700V701M326.5 702V703M326.5 704V705M327.5 702V703M328.5 699V700M328.5 702V705M329.5 701V703M329.5 704V705M333.5 700V703M334.5 700V701M334.5 702V705M335.5 700V705M336.5 701V703M337.5 701V703M337.5 704V705M338.5 700V701M338.5 702V703M339.5 700V701M339.5 703V704M340.5 700V701M340.5 702V705M342.5 700V703M343.5 699V700M343.5 701V705M344.5 700V701M344.5 702V705M345.5 699V703M346.5 704V705M347.5 700V703M348.5 701V702M348.5 703V704M349.5 699V700M349.5 701V704M350.5 700V701M350.5 704V705M352.5 699V700M352.5 704V705M353.5 700V701M353.5 703V705M354.5 699V705M355.5 700V701M356.5 702V704M358.5 700V702M358.5 703V705M359.5 701V702M359.5 703V705M360.5 699V705M361.5 701V705M365.5 700V701M365.5 702V705M295.5 707V709M295.5 710V712M296.5 709V710M297.5 708V712M298.5 706V708M298.5 710V712M302.5 706V707M302.5 708V712M303.5 707V712M304.5 708V710M305.5 707V710M305.5 711V712M307.5 706V708M307.5 709V710M307.5 711V712M308.5 706V707M308.5 708V709M308.5 710V711M309.5 706V707M309.5 708V711M310.5 708V712M311.5 706V712M313.5 707V710M314.5 706V710M315.5 707V709M315.5 711V712M328.5 707V712M329.5 706V711M330.5 709V710M332.5 709V710M332.5 711V712M333.5 706V707M333.5 708V710M334.5 708V710M334.5 711V712M335.5 707V711M337.5 710V712M338.5 707V709M339.5 706V707M339.5 708V712M340.5 706V707M340.5 710V712M341.5 710V712M343.5 707V712M344.5 708V712M345.5 706V708M345.5 709V711M347.5 709V710M348.5 709V710M349.5 708V709M349.5 711V712M353.5 706V712M354.5 709V712M355.5 707V709M355.5 711V712M356.5 710V711M358.5 706V708M358.5 709V710M359.5 707V709M359.5 710V712M360.5 708V712M361.5 707V709M361.5 710V712M363.5 707V709M363.5 710V711M364.5 706V707M364.5 708V709M364.5 710V712M365.5 710V712M203 514.5h1M203 513.5h1M203 511.5h1M203 509.5h1M204 514.5h1M204 512.5h1M204 511.5h1M204 510.5h1M204 509.5h1M205 514.5h1M205 513.5h1M205 512.5h1M205 511.5h1M205 510.5h1M205 509.5h1M206 513.5h1M206 512.5h1M206 511.5h1M206 510.5h1M206 509.5h1M207 514.5h1M207 513.5h1M207 512.5h1M207 510.5h1M203 542.5h1M203 541.5h1M203 540.5h1M203 537.5h1M203 535.5h1M204 541.5h1M204 540.5h1M204 538.5h1M204 537.5h1M204 536.5h1M204 535.5h1M205 542.5h1M205 541.5h1M205 540.5h1M205 538.5h1M205 537.5h1M205 536.5h1M205 535.5h1M206 542.5h1M206 540.5h1M206 538.5h1M206 537.5h1M206 536.5h1M206 535.5h1M207 542.5h1M207 541.5h1M207 540.5h1M207 538.5h1M207 536.5h1M203 568.5h1M203 567.5h1M203 565.5h1M203 563.5h1M204 568.5h1M204 566.5h1M204 565.5h1M204 564.5h1M204 563.5h1M205 568.5h1M205 567.5h1M205 566.5h1M205 565.5h1M205 564.5h1M205 563.5h1M206 567.5h1M206 566.5h1M206 565.5h1M206 564.5h1M206 563.5h1M207 568.5h1M207 567.5h1M207 566.5h1M207 564.5h1M203 596.5h1M203 595.5h1M203 594.5h1M203 591.5h1M203 589.5h1M204 595.5h1M204 594.5h1M204 592.5h1M204 591.5h1M204 590.5h1M204 589.5h1M205 596.5h1M205 595.5h1M205 594.5h1M205 592.5h1M205 591.5h1M205 590.5h1M205 589.5h1M206 596.5h1M206 594.5h1M206 592.5h1M206 591.5h1M206 590.5h1M206 589.5h1M207 596.5h1M207 595.5h1M207 594.5h1M207 592.5h1M207 590.5h1M203 622.5h1M203 621.5h1M203 619.5h1M203 617.5h1M204 622.5h1M204 620.5h1M204 619.5h1M204 618.5h1M204 617.5h1M205 622.5h1M205 621.5h1M205 620.5h1M205 619.5h1M205 618.5h1M205 617.5h1M206 621.5h1M206 620.5h1M206 619.5h1M206 618.5h1M206 617.5h1M207 622.5h1M207 621.5h1M207 620.5h1M207 618.5h1M203 652.5h1M203 651.5h1M203 650.5h1M203 649.5h1M203 648.5h1M203 647.5h1M203 645.5h1M204 651.5h1M204 649.5h1M204 648.5h1M204 646.5h1M204 645.5h1M205 652.5h1M205 651.5h1M205 650.5h1M205 649.5h1M205 648.5h1M205 647.5h1M205 646.5h1M205 645.5h1M206 652.5h1M206 650.5h1M206 647.5h1M206 646.5h1M206 645.5h1M207 652.5h1M207 651.5h1M207 650.5h1M207 649.5h1M207 648.5h1M207 647.5h1M207 646.5h1M203 678.5h1M203 675.5h1M203 673.5h1M204 678.5h1M204 677.5h1M204 676.5h1M204 675.5h1M204 674.5h1M204 673.5h1M205 678.5h1M205 677.5h1M205 676.5h1M205 675.5h1M205 674.5h1M205 673.5h1M206 677.5h1M206 676.5h1M206 675.5h1M206 674.5h1M206 673.5h1M207 677.5h1M207 676.5h1M207 674.5h1M202 691.5h1M202 689.5h1M202 688.5h1M202 686.5h1M203 691.5h1M203 690.5h1M203 689.5h1M203 687.5h1M203 686.5h1M204 691.5h1M204 690.5h1M204 689.5h1M204 688.5h1M204 687.5h1M204 686.5h1M205 690.5h1M205 688.5h1M205 687.5h1M205 686.5h1M206 690.5h1M206 689.5h1M206 688.5h1M206 687.5h1M151 553.5H155M152 554.5H154M151 555.5H155M152 556.5H153M154 556.5H155M151 557.5H155M390 553.5H394M391 554.5H393M390 555.5H394M391 556.5H392M393 556.5H394M390 557.5H394M148 606.5H152M149 607.5H151M148 608.5H152M149 609.5H150M151 609.5H152M148 610.5H152M148 632.5h1M148 629.5h1M148 627.5h1M149 632.5h1M149 630.5h1M149 629.5h1M149 628.5h1M149 627.5h1M150 632.5h1M150 630.5h1M150 629.5h1M150 628.5h1M150 627.5h1M151 632.5h1M151 630.5h1M151 629.5h1M151 628.5h1M151 627.5h1M152 632.5h1M152 630.5h1M152 628.5h1M393 606.5H397M394 607.5H396M393 608.5H397M394 609.5H395M396 609.5H397M393 610.5H397M393 632.5h1M393 629.5h1M393 627.5h1M394 632.5h1M394 630.5h1M394 629.5h1M394 628.5h1M394 627.5h1M395 632.5h1M395 630.5h1M395 629.5h1M395 628.5h1M395 627.5h1M396 632.5h1M396 630.5h1M396 629.5h1M396 628.5h1M396 627.5h1M397 632.5h1M397 630.5h1M397 628.5h1M112 531.5H116M112 532.5H116M112 533.5H116M112 534.5H116M112 535.5H116M112 585.5H116M112 586.5H116M112 587.5H116M112 588.5H116M112 589.5H116M439 531.5H443M439 532.5H443M439 533.5H443M439 534.5H443M439 535.5H443M439 585.5H443M439 586.5H443M439 587.5H443M439 588.5H443M439 589.5H443M112 554.5h1M112 552.5h1M112 549.5h1M112 547.5h1M113 554.5h1M113 552.5h1M113 550.5h1M113 549.5h1M113 548.5h1M113 547.5h1M114 554.5h1M114 552.5h1M114 550.5h1M114 549.5h1M114 548.5h1M114 547.5h1M115 554.5h1M115 552.5h1M115 550.5h1M115 549.5h1M115 548.5h1M115 547.5h1M116 554.5h1M116 552.5h1M116 550.5h1M116 548.5h1M112 607.5h1M112 605.5h1M112 602.5h1M112 600.5h1M113 607.5h1M113 605.5h1M113 603.5h1M113 602.5h1M113 601.5h1M113 600.5h1M114 607.5h1M114 605.5h1M114 603.5h1M114 602.5h1M114 601.5h1M114 600.5h1M115 607.5h1M115 605.5h1M115 603.5h1M115 602.5h1M115 601.5h1M115 600.5h1M116 607.5h1M116 605.5h1M116 603.5h1M116 601.5h1M430 554.5h1M430 552.5h1M430 549.5h1M430 547.5h1M431 554.5h1M431 552.5h1M431 550.5h1M431 549.5h1M431 548.5h1M431 547.5h1M432 554.5h1M432 552.5h1M432 550.5h1M432 549.5h1M432 548.5h1M432 547.5h1M433 554.5h1M433 552.5h1M433 550.5h1M433 549.5h1M433 548.5h1M433 547.5h1M434 554.5h1M434 552.5h1M434 550.5h1M434 548.5h1M430 607.5h1M430 605.5h1M430 602.5h1M430 600.5h1M431 607.5h1M431 605.5h1M431 603.5h1M431 602.5h1M431 601.5h1M431 600.5h1M432 607.5h1M432 605.5h1M432 603.5h1M432 602.5h1M432 601.5h1M432 600.5h1M433 607.5h1M433 605.5h1M433 603.5h1M433 602.5h1M433 601.5h1M433 600.5h1M434 607.5h1M434 605.5h1M434 603.5h1M434 601.5h1M143 614.5H147M143 615.5H147M143 616.5H147M143 617.5H147M143 618.5H147M149 619.5H153M149 620.5H153M149 621.5H153M149 622.5H153M149 623.5H153M387 614.5H391M387 615.5H391M387 616.5H391M387 617.5H391M387 618.5H391M394 619.5H398M394 620.5H398M394 621.5H398M394 622.5H398M394 623.5H398M196.5 671.5L200.5 671.5M198.5 669.5L198.5 673.5M197 670.5h1M200 673.5h1M200 670.5h1M197 673.5h1M60 446.5H61M62 446.5H63M65 446.5H67M68 446.5H69M70 446.5H71M60 447.5H61M62 447.5H63M66 447.5H71M60 448.5H61M62 448.5H63M65 448.5H71M60 449.5H61M62 449.5H63M65 449.5H66M67 449.5H71M60 450.5H61M62 450.5H63M64 450.5H68M69 450.5H70M481 446.5H482M483 446.5H484M486 446.5H488M489 446.5H490M491 446.5H492M481 447.5H482M483 447.5H484M487 447.5H492M481 448.5H482M483 448.5H484M486 448.5H492M481 449.5H482M483 449.5H484M486 449.5H487M488 449.5H492M481 450.5H482M483 450.5H484M485 450.5H489M490 450.5H491M60 494.5H62M63 494.5H65M66 494.5H67M68 494.5H69M60 495.5H62M64 495.5H69M61 496.5H62M63 496.5H69M60 497.5H62M63 497.5H64M65 497.5H69M60 498.5H66M67 498.5H68M481 494.5H483M484 494.5H486M487 494.5H488M489 494.5H490M481 495.5H483M485 495.5H490M482 496.5H483M484 496.5H490M481 497.5H483M484 497.5H485M486 497.5H490M481 498.5H487M488 498.5H489M60 548.5H62M63 548.5H65M66 548.5H67M68 548.5H69M60 549.5H61M63 549.5H69M60 550.5H62M63 550.5H69M61 551.5H62M64 551.5H69M60 552.5H66M67 552.5H68M481 548.5H483M484 548.5H486M487 548.5H488M489 548.5H490M481 549.5H482M484 549.5H490M481 550.5H483M484 550.5H490M482 551.5H483M485 551.5H490M481 552.5H487M488 552.5H489M60 602.5H62M63 602.5H65M66 602.5H67M68 602.5H69M61 603.5H62M63 603.5H64M65 603.5H69M60 604.5H62M63 604.5H69M61 605.5H62M63 605.5H69M60 606.5H66M67 606.5H68M481 602.5H483M484 602.5H486M487 602.5H488M489 602.5H490M482 603.5H483M484 603.5H485M486 603.5H490M481 604.5H483M484 604.5H490M482 605.5H483M484 605.5H490M481 606.5H487M488 606.5H489M61 660.5H62M63 660.5H64M66 660.5H67M68 660.5H69M70 660.5H71M60 661.5H64M65 661.5H71M61 662.5H64M65 662.5H71M62 663.5H64M65 663.5H71M60 664.5H63M64 664.5H66M67 664.5H68M69 664.5H70M482 660.5H483M484 660.5H485M487 660.5H488M489 660.5H490M491 660.5H492M481 661.5H485M486 661.5H492M482 662.5H485M486 662.5H492M483 663.5H485M486 663.5H492M481 664.5H484M485 664.5H487M488 664.5H489M490 664.5H491M63 687.5H64M65 687.5H66M67 687.5H69M70 687.5H71M62 688.5H64M65 688.5H68M69 688.5H71M60 689.5H64M65 689.5H71M62 690.5H64M66 690.5H67M68 690.5H71M62 691.5H63M64 691.5H65M66 691.5H70M483 687.5H484M485 687.5H486M487 687.5H489M490 687.5H491M482 688.5H484M485 688.5H488M489 688.5H491M480 689.5H484M485 689.5H491M482 690.5H484M486 690.5H487M488 690.5H491M482 691.5H483M484 691.5H485M486 691.5H490M92 446.5h1M92 445.5h1M92 443.5h1M92 441.5h1M93 445.5h1M93 444.5h1M93 443.5h1M93 442.5h1M93 441.5h1M94 445.5h1M94 444.5h1M94 443.5h1M94 442.5h1M94 441.5h1M95 445.5h1M95 444.5h1M95 443.5h1M95 442.5h1M95 441.5h1M96 445.5h1M96 444.5h1M96 442.5h1M450 446.5h1M450 445.5h1M450 443.5h1M450 441.5h1M451 445.5h1M451 444.5h1M451 443.5h1M451 442.5h1M451 441.5h1M452 445.5h1M452 444.5h1M452 443.5h1M452 442.5h1M452 441.5h1M453 445.5h1M453 444.5h1M453 443.5h1M453 442.5h1M453 441.5h1M454 445.5h1M454 444.5h1M454 442.5h1M92 470.5h1M92 467.5h1M92 466.5h1M92 465.5h1M92 463.5h1M93 470.5h1M93 468.5h1M93 467.5h1M93 466.5h1M93 464.5h1M93 463.5h1M94 470.5h1M94 468.5h1M94 467.5h1M94 466.5h1M94 465.5h1M94 464.5h1M94 463.5h1M95 470.5h1M95 468.5h1M95 467.5h1M95 465.5h1M95 464.5h1M95 463.5h1M96 470.5h1M96 468.5h1M96 466.5h1M96 465.5h1M96 464.5h1M450 470.5h1M450 467.5h1M450 466.5h1M450 465.5h1M450 463.5h1M451 470.5h1M451 468.5h1M451 467.5h1M451 466.5h1M451 464.5h1M451 463.5h1M452 470.5h1M452 468.5h1M452 467.5h1M452 466.5h1M452 465.5h1M452 464.5h1M452 463.5h1M453 470.5h1M453 468.5h1M453 467.5h1M453 465.5h1M453 464.5h1M453 463.5h1M454 470.5h1M454 468.5h1M454 466.5h1M454 465.5h1M454 464.5h1M92 494.5h1M92 492.5h1M92 491.5h1M92 489.5h1M92 487.5h1M93 494.5h1M93 492.5h1M93 490.5h1M93 489.5h1M93 488.5h1M93 487.5h1M94 494.5h1M94 492.5h1M94 491.5h1M94 490.5h1M94 489.5h1M94 488.5h1M94 487.5h1M95 494.5h1M95 492.5h1M95 491.5h1M95 490.5h1M95 489.5h1M95 488.5h1M95 487.5h1M96 494.5h1M96 492.5h1M96 491.5h1M96 490.5h1M96 488.5h1M450 494.5h1M450 492.5h1M450 491.5h1M450 489.5h1M450 487.5h1M451 494.5h1M451 492.5h1M451 490.5h1M451 489.5h1M451 488.5h1M451 487.5h1M452 494.5h1M452 492.5h1M452 491.5h1M452 490.5h1M452 489.5h1M452 488.5h1M452 487.5h1M453 494.5h1M453 492.5h1M453 491.5h1M453 490.5h1M453 489.5h1M453 488.5h1M453 487.5h1M454 494.5h1M454 492.5h1M454 491.5h1M454 490.5h1M454 488.5h1M92 514.5h1M92 513.5h1M92 511.5h1M92 509.5h1M93 513.5h1M93 512.5h1M93 511.5h1M93 510.5h1M93 509.5h1M94 513.5h1M94 512.5h1M94 511.5h1M94 510.5h1M94 509.5h1M95 513.5h1M95 512.5h1M95 511.5h1M95 510.5h1M95 509.5h1M96 513.5h1M96 512.5h1M96 510.5h1M450 514.5h1M450 513.5h1M450 511.5h1M450 509.5h1M451 513.5h1M451 512.5h1M451 511.5h1M451 510.5h1M451 509.5h1M452 513.5h1M452 512.5h1M452 511.5h1M452 510.5h1M452 509.5h1M453 513.5h1M453 512.5h1M453 511.5h1M453 510.5h1M453 509.5h1M454 513.5h1M454 512.5h1M454 510.5h1M92 542.5h1M92 541.5h1M92 540.5h1M92 539.5h1M92 537.5h1M92 535.5h1M93 541.5h1M93 539.5h1M93 538.5h1M93 537.5h1M93 536.5h1M93 535.5h1M94 542.5h1M94 541.5h1M94 540.5h1M94 539.5h1M94 538.5h1M94 537.5h1M94 536.5h1M94 535.5h1M95 542.5h1M95 539.5h1M95 538.5h1M95 537.5h1M95 536.5h1M95 535.5h1M96 542.5h1M96 541.5h1M96 540.5h1M96 539.5h1M96 538.5h1M96 536.5h1M450 542.5h1M450 541.5h1M450 540.5h1M450 539.5h1M450 537.5h1M450 535.5h1M451 541.5h1M451 539.5h1M451 538.5h1M451 537.5h1M451 536.5h1M451 535.5h1M452 542.5h1M452 541.5h1M452 540.5h1M452 539.5h1M452 538.5h1M452 537.5h1M452 536.5h1M452 535.5h1M453 542.5h1M453 539.5h1M453 538.5h1M453 537.5h1M453 536.5h1M453 535.5h1M454 542.5h1M454 541.5h1M454 540.5h1M454 539.5h1M454 538.5h1M454 536.5h1M92 568.5h1M92 567.5h1M92 565.5h1M92 563.5h1M93 567.5h1M93 566.5h1M93 565.5h1M93 564.5h1M93 563.5h1M94 567.5h1M94 566.5h1M94 565.5h1M94 564.5h1M94 563.5h1M95 567.5h1M95 566.5h1M95 565.5h1M95 564.5h1M95 563.5h1M96 567.5h1M96 566.5h1M96 564.5h1M450 568.5h1M450 567.5h1M450 565.5h1M450 563.5h1M451 567.5h1M451 566.5h1M451 565.5h1M451 564.5h1M451 563.5h1M452 567.5h1M452 566.5h1M452 565.5h1M452 564.5h1M452 563.5h1M453 567.5h1M453 566.5h1M453 565.5h1M453 564.5h1M453 563.5h1M454 567.5h1M454 566.5h1M454 564.5h1M92 596.5h1M92 595.5h1M92 594.5h1M92 593.5h1M92 591.5h1M92 589.5h1M93 595.5h1M93 593.5h1M93 592.5h1M93 591.5h1M93 590.5h1M93 589.5h1M94 596.5h1M94 595.5h1M94 594.5h1M94 593.5h1M94 592.5h1M94 591.5h1M94 590.5h1M94 589.5h1M95 596.5h1M95 593.5h1M95 592.5h1M95 591.5h1M95 590.5h1M95 589.5h1M96 596.5h1M96 595.5h1M96 594.5h1M96 593.5h1M96 592.5h1M96 590.5h1M450 596.5h1M450 595.5h1M450 594.5h1M450 593.5h1M450 591.5h1M450 589.5h1M451 595.5h1M451 593.5h1M451 592.5h1M451 591.5h1M451 590.5h1M451 589.5h1M452 596.5h1M452 595.5h1M452 594.5h1M452 593.5h1M452 592.5h1M452 591.5h1M452 590.5h1M452 589.5h1M453 596.5h1M453 593.5h1M453 592.5h1M453 591.5h1M453 590.5h1M453 589.5h1M454 596.5h1M454 595.5h1M454 594.5h1M454 593.5h1M454 592.5h1M454 590.5h1M92 622.5h1M92 621.5h1M92 619.5h1M92 617.5h1M93 621.5h1M93 620.5h1M93 619.5h1M93 618.5h1M93 617.5h1M94 621.5h1M94 620.5h1M94 619.5h1M94 618.5h1M94 617.5h1M95 621.5h1M95 620.5h1M95 619.5h1M95 618.5h1M95 617.5h1M96 621.5h1M96 620.5h1M96 618.5h1M450 622.5h1M450 621.5h1M450 619.5h1M450 617.5h1M451 621.5h1M451 620.5h1M451 619.5h1M451 618.5h1M451 617.5h1M452 621.5h1M452 620.5h1M452 619.5h1M452 618.5h1M452 617.5h1M453 621.5h1M453 620.5h1M453 619.5h1M453 618.5h1M453 617.5h1M454 621.5h1M454 620.5h1M454 618.5h1M92 644.5h1M92 642.5h1M92 641.5h1M92 639.5h1M92 637.5h1M93 644.5h1M93 642.5h1M93 641.5h1M93 640.5h1M93 639.5h1M93 638.5h1M93 637.5h1M94 644.5h1M94 641.5h1M94 640.5h1M94 639.5h1M94 638.5h1M94 637.5h1M95 644.5h1M95 642.5h1M95 641.5h1M95 640.5h1M95 639.5h1M95 638.5h1M95 637.5h1M96 644.5h1M96 642.5h1M96 641.5h1M96 640.5h1M96 638.5h1M450 644.5h1M450 642.5h1M450 641.5h1M450 639.5h1M450 637.5h1M451 644.5h1M451 642.5h1M451 641.5h1M451 640.5h1M451 639.5h1M451 638.5h1M451 637.5h1M452 644.5h1M452 641.5h1M452 640.5h1M452 639.5h1M452 638.5h1M452 637.5h1M453 644.5h1M453 642.5h1M453 641.5h1M453 640.5h1M453 639.5h1M453 638.5h1M453 637.5h1M454 644.5h1M454 642.5h1M454 641.5h1M454 640.5h1M454 638.5h1M92 666.5h1M92 665.5h1M92 663.5h1M92 661.5h1M93 666.5h1M93 665.5h1M93 664.5h1M93 663.5h1M93 662.5h1M93 661.5h1M94 666.5h1M94 665.5h1M94 664.5h1M94 663.5h1M94 662.5h1M94 661.5h1M95 665.5h1M95 664.5h1M95 663.5h1M95 662.5h1M95 661.5h1M96 666.5h1M96 665.5h1M96 664.5h1M96 662.5h1M450 666.5h1M450 665.5h1M450 663.5h1M450 661.5h1M451 666.5h1M451 665.5h1M451 664.5h1M451 663.5h1M451 662.5h1M451 661.5h1M452 666.5h1M452 665.5h1M452 664.5h1M452 663.5h1M452 662.5h1M452 661.5h1M453 665.5h1M453 664.5h1M453 663.5h1M453 662.5h1M453 661.5h1M454 666.5h1M454 665.5h1M454 664.5h1M454 662.5h1M92 688.5h1M92 686.5h1M92 685.5h1M92 683.5h1M93 688.5h1M93 687.5h1M93 686.5h1M93 684.5h1M93 683.5h1M94 688.5h1M94 687.5h1M94 686.5h1M94 685.5h1M94 684.5h1M94 683.5h1M95 687.5h1M95 685.5h1M95 684.5h1M95 683.5h1M96 687.5h1M96 686.5h1M96 685.5h1M96 684.5h1M450 688.5h1M450 686.5h1M450 685.5h1M450 683.5h1M451 688.5h1M451 687.5h1M451 686.5h1M451 684.5h1M451 683.5h1M452 688.5h1M452 687.5h1M452 686.5h1M452 685.5h1M452 684.5h1M452 683.5h1M453 687.5h1M453 685.5h1M453 684.5h1M453 683.5h1M454 687.5h1M454 686.5h1M454 685.5h1M454 684.5h1M79 484.5h1M79 483.5h1M79 482.5h1M79 481.5h1M79 480.5h1M79 479.5h1M79 477.5h1M80 483.5h1M80 482.5h1M80 480.5h1M80 478.5h1M80 477.5h1M81 484.5h1M81 483.5h1M81 482.5h1M81 481.5h1M81 480.5h1M81 479.5h1M81 478.5h1M81 477.5h1M82 484.5h1M82 482.5h1M82 481.5h1M82 479.5h1M82 478.5h1M82 477.5h1M83 484.5h1M83 483.5h1M83 482.5h1M83 481.5h1M83 480.5h1M83 479.5h1M83 478.5h1M463 484.5h1M463 483.5h1M463 482.5h1M463 481.5h1M463 480.5h1M463 479.5h1M463 477.5h1M464 483.5h1M464 482.5h1M464 480.5h1M464 478.5h1M464 477.5h1M465 484.5h1M465 483.5h1M465 482.5h1M465 481.5h1M465 480.5h1M465 479.5h1M465 478.5h1M465 477.5h1M466 484.5h1M466 482.5h1M466 481.5h1M466 479.5h1M466 478.5h1M466 477.5h1M467 484.5h1M467 483.5h1M467 482.5h1M467 481.5h1M467 480.5h1M467 479.5h1M467 478.5h1M79 536.5h1M79 535.5h1M79 533.5h1M79 531.5h1M79 529.5h1M80 535.5h1M80 534.5h1M80 533.5h1M80 532.5h1M80 531.5h1M80 530.5h1M80 529.5h1M81 536.5h1M81 535.5h1M81 534.5h1M81 533.5h1M81 532.5h1M81 531.5h1M81 530.5h1M81 529.5h1M82 535.5h1M82 534.5h1M82 533.5h1M82 532.5h1M82 531.5h1M82 530.5h1M82 529.5h1M83 536.5h1M83 535.5h1M83 534.5h1M83 532.5h1M83 530.5h1M463 536.5h1M463 535.5h1M463 533.5h1M463 531.5h1M463 529.5h1M464 535.5h1M464 534.5h1M464 533.5h1M464 532.5h1M464 531.5h1M464 530.5h1M464 529.5h1M465 536.5h1M465 535.5h1M465 534.5h1M465 533.5h1M465 532.5h1M465 531.5h1M465 530.5h1M465 529.5h1M466 535.5h1M466 534.5h1M466 533.5h1M466 532.5h1M466 531.5h1M466 530.5h1M466 529.5h1M467 536.5h1M467 535.5h1M467 534.5h1M467 532.5h1M467 530.5h1M79 590.5h1M79 589.5h1M79 587.5h1M79 585.5h1M79 583.5h1M80 589.5h1M80 588.5h1M80 587.5h1M80 586.5h1M80 585.5h1M80 584.5h1M80 583.5h1M81 590.5h1M81 589.5h1M81 588.5h1M81 587.5h1M81 586.5h1M81 585.5h1M81 584.5h1M81 583.5h1M82 589.5h1M82 588.5h1M82 587.5h1M82 586.5h1M82 585.5h1M82 584.5h1M82 583.5h1M83 590.5h1M83 589.5h1M83 588.5h1M83 586.5h1M83 584.5h1M463 590.5h1M463 589.5h1M463 587.5h1M463 585.5h1M463 583.5h1M464 589.5h1M464 588.5h1M464 587.5h1M464 586.5h1M464 585.5h1M464 584.5h1M464 583.5h1M465 590.5h1M465 589.5h1M465 588.5h1M465 587.5h1M465 586.5h1M465 585.5h1M465 584.5h1M465 583.5h1M466 589.5h1M466 588.5h1M466 587.5h1M466 586.5h1M466 585.5h1M466 584.5h1M466 583.5h1M467 590.5h1M467 589.5h1M467 588.5h1M467 586.5h1M467 584.5h1M79 646.5h1M79 645.5h1M79 644.5h1M79 643.5h1M79 641.5h1M79 639.5h1M80 645.5h1M80 644.5h1M80 642.5h1M80 641.5h1M80 640.5h1M80 639.5h1M81 646.5h1M81 645.5h1M81 644.5h1M81 643.5h1M81 642.5h1M81 641.5h1M81 640.5h1M81 639.5h1M82 645.5h1M82 644.5h1M82 643.5h1M82 642.5h1M82 641.5h1M82 640.5h1M82 639.5h1M83 646.5h1M83 645.5h1M83 644.5h1M83 643.5h1M83 642.5h1M83 640.5h1M463 646.5h1M463 645.5h1M463 644.5h1M463 643.5h1M463 641.5h1M463 639.5h1M464 645.5h1M464 644.5h1M464 642.5h1M464 641.5h1M464 640.5h1M464 639.5h1M465 646.5h1M465 645.5h1M465 644.5h1M465 643.5h1M465 642.5h1M465 641.5h1M465 640.5h1M465 639.5h1M466 645.5h1M466 644.5h1M466 643.5h1M466 642.5h1M466 641.5h1M466 640.5h1M466 639.5h1M467 646.5h1M467 645.5h1M467 644.5h1M467 643.5h1M467 642.5h1M467 640.5h1M79 688.5h1M79 686.5h1M79 685.5h1M79 683.5h1M80 688.5h1M80 687.5h1M80 686.5h1M80 684.5h1M80 683.5h1M81 688.5h1M81 687.5h1M81 686.5h1M81 685.5h1M81 684.5h1M81 683.5h1M82 687.5h1M82 685.5h1M82 684.5h1M82 683.5h1M83 687.5h1M83 686.5h1M83 685.5h1M83 684.5h1M471 688.5h1M471 686.5h1M471 685.5h1M471 683.5h1M472 688.5h1M472 687.5h1M472 686.5h1M472 684.5h1M472 683.5h1M473 688.5h1M473 687.5h1M473 686.5h1M473 685.5h1M473 684.5h1M473 683.5h1M474 687.5h1M474 685.5h1M474 684.5h1M474 683.5h1M475 687.5h1M475 686.5h1M475 685.5h1M475 684.5h1M129.5 762.1L131.75 754.5L134.0 762.1M130.4 759.25L133.1 759.25M168.5 754.5L168.5 762.1M168.5 754.5L171.65 754.5L172.55 755.45L172.55 757.35L171.65 758.3L168.5 758.3M171.65 758.3L173.0 759.25L173.0 761.15L172.1 762.1L168.5 762.1M261.0 755.92L260.1 754.5L257.85 754.5L256.5 755.92L256.5 760.67L257.85 762.1L260.1 762.1L261.0 760.67M295.5 754.5L295.5 762.1M295.5 754.5L298.2 754.5L300.0 756.4L300.0 760.2L298.2 762.1L295.5 762.1M388.0 754.5L383.5 754.5L383.5 762.1L388.0 762.1M383.5 758.3L386.65 758.3M427.0 754.5L422.5 754.5L422.5 762.1M422.5 758.3L425.65 758.3M146 721.5H150M151 721.5H152M153 721.5H154M147 722.5H149M150 722.5H154M146 723.5H154M146 724.5H147M148 724.5H154M146 725.5H151M152 725.5H153M209 721.5H212M214 721.5H215M216 721.5H217M209 722.5H210M211 722.5H217M209 723.5H217M210 724.5H211M212 724.5H217M209 725.5H211M212 725.5H214M215 725.5H216M273 721.5H276M278 721.5H279M280 721.5H281M274 722.5H281M273 723.5H281M273 724.5H274M276 724.5H281M273 725.5H275M276 725.5H278M279 725.5H280M336 721.5H339M341 721.5H342M343 721.5H344M336 722.5H337M338 722.5H344M336 723.5H344M337 724.5H338M339 724.5H344M336 725.5H338M339 725.5H341M342 725.5H343M400 721.5H404M405 721.5H406M407 721.5H408M401 722.5H403M404 722.5H408M400 723.5H408M400 724.5H401M402 724.5H408M400 725.5H405M406 725.5H407M272 734.5H273M274 734.5H278M279 734.5H280M281 734.5H282M272 735.5H273M274 735.5H275M276 735.5H277M278 735.5H282M272 736.5H273M274 736.5H282M272 737.5H273M275 737.5H282M272 738.5H273M274 738.5H279M280 738.5H281" stroke="#ffffff" stroke-width="1" fill="none"/>
<circle cx="229.5" cy="54.5" r="8.4" stroke="#00ff00" fill="none"/><circle cx="131.2" cy="347" r="6.6" stroke="#00ff00" fill="none"/><circle cx="170.2" cy="347" r="6.6" stroke="#00ff00" fill="none"/><circle cx="258.5" cy="347" r="6.6" stroke="#00ff00" fill="none"/><circle cx="297.5" cy="347" r="6.6" stroke="#00ff00" fill="none"/><circle cx="384.7" cy="347" r="6.6" stroke="#00ff00" fill="none"/><circle cx="423.7" cy="347" r="6.6" stroke="#00ff00" fill="none"/><circle cx="259.5" cy="372.5" r="5.2" stroke="#ffffff" fill="none"/><circle cx="277.8" cy="372.5" r="5.2" stroke="#ffffff" fill="none"/><circle cx="938.5" cy="54.5" r="8.4" stroke="#00ff00" fill="none"/><circle cx="749.2" cy="347" r="6.6" stroke="#00ff00" fill="none"/><circle cx="788.2" cy="347" r="6.6" stroke="#00ff00" fill="none"/><circle cx="876.0" cy="347" r="6.6" stroke="#00ff00" fill="none"/><circle cx="915.0" cy="347" r="6.6" stroke="#00ff00" fill="none"/><circle cx="1002.7" cy="347" r="6.6" stroke="#00ff00" fill="none"/><circle cx="1041.7" cy="347" r="6.6" stroke="#00ff00" fill="none"/><circle cx="875.5" cy="372.5" r="5.2" stroke="#ffffff" fill="none"/><circle cx="893.8" cy="372.5" r="5.2" stroke="#ffffff" fill="none"/><circle cx="131.2" cy="758" r="6.6" stroke="#00ff00" fill="none"/><circle cx="170.2" cy="758" r="6.6" stroke="#00ff00" fill="none"/><circle cx="258.5" cy="758" r="6.6" stroke="#00ff00" fill="none"/><circle cx="297.5" cy="758" r="6.6" stroke="#00ff00" fill="none"/><circle cx="384.7" cy="758" r="6.6" stroke="#00ff00" fill="none"/><circle cx="423.7" cy="758" r="6.6" stroke="#00ff00" fill="none"/>
</svg></body></html>
